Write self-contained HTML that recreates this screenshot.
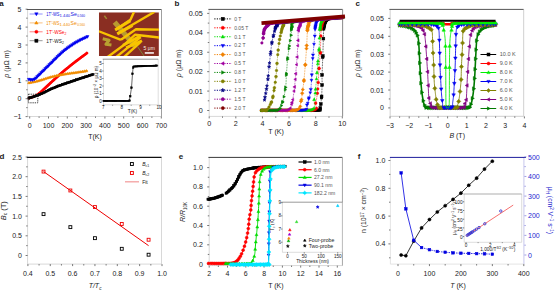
<!DOCTYPE html>
<html><head><meta charset="utf-8"><style>
html,body{margin:0;padding:0;background:#fff;width:555px;height:291px;overflow:hidden}
svg{display:block}
text{font-family:"Liberation Sans", sans-serif}
</style></head><body>
<svg width="555" height="291" viewBox="0 0 555 291">
<rect width="555" height="291" fill="#fff"/>
<text x="-0.8" y="6.2" font-size="8" text-anchor="start" fill="#1a1a1a" font-weight="bold">a</text>
<line x1="27.6" y1="9.5" x2="27.6" y2="116.5" stroke="#d8d8d8" stroke-width="1"/>
<line x1="161.5" y1="9.5" x2="161.5" y2="116.5" stroke="#d8d8d8" stroke-width="1"/>
<line x1="27.6" y1="116.5" x2="161.5" y2="116.5" stroke="#d8d8d8" stroke-width="1"/>
<line x1="26.8" y1="9.5" x2="161.5" y2="9.5" stroke="#555" stroke-width="1"/>
<line x1="161.5" y1="9.5" x2="161.5" y2="116.5" stroke="#999" stroke-width="0.9"/>
<line x1="29.7" y1="116.5" x2="29.7" y2="118.5" stroke="#555" stroke-width="0.8"/>
<line x1="48.5" y1="116.5" x2="48.5" y2="118.5" stroke="#555" stroke-width="0.8"/>
<line x1="67.3" y1="116.5" x2="67.3" y2="118.5" stroke="#555" stroke-width="0.8"/>
<line x1="86.1" y1="116.5" x2="86.1" y2="118.5" stroke="#555" stroke-width="0.8"/>
<line x1="104.9" y1="116.5" x2="104.9" y2="118.5" stroke="#555" stroke-width="0.8"/>
<line x1="123.7" y1="116.5" x2="123.7" y2="118.5" stroke="#555" stroke-width="0.8"/>
<line x1="142.5" y1="116.5" x2="142.5" y2="118.5" stroke="#555" stroke-width="0.8"/>
<line x1="161.3" y1="116.5" x2="161.3" y2="118.5" stroke="#555" stroke-width="0.8"/>
<line x1="39.1" y1="116.5" x2="39.1" y2="117.9" stroke="#555" stroke-width="0.8"/>
<line x1="57.9" y1="116.5" x2="57.9" y2="117.9" stroke="#555" stroke-width="0.8"/>
<line x1="76.7" y1="116.5" x2="76.7" y2="117.9" stroke="#555" stroke-width="0.8"/>
<line x1="95.5" y1="116.5" x2="95.5" y2="117.9" stroke="#555" stroke-width="0.8"/>
<line x1="114.3" y1="116.5" x2="114.3" y2="117.9" stroke="#555" stroke-width="0.8"/>
<line x1="133.1" y1="116.5" x2="133.1" y2="117.9" stroke="#555" stroke-width="0.8"/>
<line x1="151.9" y1="116.5" x2="151.9" y2="117.9" stroke="#555" stroke-width="0.8"/>
<line x1="27.6" y1="116.6" x2="25.6" y2="116.6" stroke="#555" stroke-width="0.8"/>
<line x1="27.6" y1="98.7" x2="25.6" y2="98.7" stroke="#555" stroke-width="0.8"/>
<line x1="27.6" y1="80.8" x2="25.6" y2="80.8" stroke="#555" stroke-width="0.8"/>
<line x1="27.6" y1="62.9" x2="25.6" y2="62.9" stroke="#555" stroke-width="0.8"/>
<line x1="27.6" y1="45" x2="25.6" y2="45" stroke="#555" stroke-width="0.8"/>
<line x1="27.6" y1="27.1" x2="25.6" y2="27.1" stroke="#555" stroke-width="0.8"/>
<line x1="27.6" y1="9.2" x2="25.6" y2="9.2" stroke="#555" stroke-width="0.8"/>
<line x1="27.6" y1="107.65" x2="26.2" y2="107.65" stroke="#555" stroke-width="0.8"/>
<line x1="27.6" y1="89.75" x2="26.2" y2="89.75" stroke="#555" stroke-width="0.8"/>
<line x1="27.6" y1="71.85" x2="26.2" y2="71.85" stroke="#555" stroke-width="0.8"/>
<line x1="27.6" y1="53.95" x2="26.2" y2="53.95" stroke="#555" stroke-width="0.8"/>
<line x1="27.6" y1="36.05" x2="26.2" y2="36.05" stroke="#555" stroke-width="0.8"/>
<line x1="27.6" y1="18.15" x2="26.2" y2="18.15" stroke="#555" stroke-width="0.8"/>
<text x="29.7" y="128.1" font-size="7" text-anchor="middle" fill="#1a1a1a">0</text>
<text x="48.5" y="128.1" font-size="7" text-anchor="middle" fill="#1a1a1a">100</text>
<text x="67.3" y="128.1" font-size="7" text-anchor="middle" fill="#1a1a1a">200</text>
<text x="86.1" y="128.1" font-size="7" text-anchor="middle" fill="#1a1a1a">300</text>
<text x="104.9" y="128.1" font-size="7" text-anchor="middle" fill="#1a1a1a">400</text>
<text x="123.7" y="128.1" font-size="7" text-anchor="middle" fill="#1a1a1a">500</text>
<text x="142.5" y="128.1" font-size="7" text-anchor="middle" fill="#1a1a1a">600</text>
<text x="161.3" y="128.1" font-size="7" text-anchor="middle" fill="#1a1a1a">700</text>
<text x="21.4" y="119.1" font-size="7" text-anchor="end" fill="#1a1a1a">−1</text>
<text x="21.4" y="101.2" font-size="7" text-anchor="end" fill="#1a1a1a">0</text>
<text x="21.4" y="83.3" font-size="7" text-anchor="end" fill="#1a1a1a">1</text>
<text x="21.4" y="65.4" font-size="7" text-anchor="end" fill="#1a1a1a">2</text>
<text x="21.4" y="47.5" font-size="7" text-anchor="end" fill="#1a1a1a">3</text>
<text x="21.4" y="29.6" font-size="7" text-anchor="end" fill="#1a1a1a">4</text>
<text x="21.4" y="11.7" font-size="7" text-anchor="end" fill="#1a1a1a">5</text>
<text x="95" y="139.3" font-size="7" text-anchor="middle" fill="#1a1a1a">T(K)</text>
<text x="8.6" y="64" font-size="7" text-anchor="middle" fill="#1a1a1a" transform="rotate(-90 8.6 64)"><tspan font-style="italic">ρ</tspan> (μΩ m)</text>
<polyline points="28.9,98.2 29.42,98 30.06,97.79 30.82,97.56 31.67,97.29 32.6,96.97 33.59,96.59 34.64,96.15 35.71,95.63 36.81,95.02 37.9,94.3 39.03,93.46 40.22,92.49 41.46,91.41 42.74,90.25 44.06,89.03 45.39,87.77 46.73,86.5 48.07,85.23 49.4,83.99 50.7,82.8 51.99,81.64 53.27,80.47 54.56,79.29 55.85,78.1 57.14,76.92 58.44,75.75 59.73,74.59 61.02,73.44 62.31,72.31 63.6,71.2 64.9,70.11 66.21,69.02 67.53,67.95 68.85,66.89 70.16,65.84 71.47,64.81 72.76,63.8 74.04,62.81 75.28,61.84 76.5,60.9 77.73,59.95 79.01,58.98 80.31,58 81.6,57.04 82.86,56.11 84.05,55.23 85.14,54.42 86.12,53.7 86.95,53.08 87.6,52.6" fill="none" stroke="#f00" stroke-width="2.6" stroke-linejoin="round"/>
<circle cx="28.9" cy="98.2" r="1" fill="#f00" stroke="#f00" stroke-width="0.5"/>
<circle cx="30.7" cy="97.59" r="1" fill="#f00" stroke="#f00" stroke-width="0.5"/>
<circle cx="32.51" cy="97" r="1" fill="#f00" stroke="#f00" stroke-width="0.5"/>
<circle cx="34.27" cy="96.31" r="1" fill="#f00" stroke="#f00" stroke-width="0.5"/>
<circle cx="35.98" cy="95.48" r="1" fill="#f00" stroke="#f00" stroke-width="0.5"/>
<circle cx="37.61" cy="94.49" r="1" fill="#f00" stroke="#f00" stroke-width="0.5"/>
<circle cx="39.14" cy="93.37" r="1" fill="#f00" stroke="#f00" stroke-width="0.5"/>
<circle cx="40.6" cy="92.16" r="1" fill="#f00" stroke="#f00" stroke-width="0.5"/>
<circle cx="42.02" cy="90.9" r="1" fill="#f00" stroke="#f00" stroke-width="0.5"/>
<circle cx="43.43" cy="89.62" r="1" fill="#f00" stroke="#f00" stroke-width="0.5"/>
<circle cx="44.81" cy="88.32" r="1" fill="#f00" stroke="#f00" stroke-width="0.5"/>
<circle cx="46.19" cy="87.01" r="1" fill="#f00" stroke="#f00" stroke-width="0.5"/>
<circle cx="47.57" cy="85.7" r="1" fill="#f00" stroke="#f00" stroke-width="0.5"/>
<circle cx="48.95" cy="84.4" r="1" fill="#f00" stroke="#f00" stroke-width="0.5"/>
<circle cx="50.35" cy="83.12" r="1" fill="#f00" stroke="#f00" stroke-width="0.5"/>
<circle cx="51.76" cy="81.84" r="1" fill="#f00" stroke="#f00" stroke-width="0.5"/>
<circle cx="53.17" cy="80.56" r="1" fill="#f00" stroke="#f00" stroke-width="0.5"/>
<circle cx="54.57" cy="79.28" r="1" fill="#f00" stroke="#f00" stroke-width="0.5"/>
<circle cx="55.97" cy="78" r="1" fill="#f00" stroke="#f00" stroke-width="0.5"/>
<circle cx="57.37" cy="76.72" r="1" fill="#f00" stroke="#f00" stroke-width="0.5"/>
<circle cx="58.78" cy="75.44" r="1" fill="#f00" stroke="#f00" stroke-width="0.5"/>
<circle cx="60.19" cy="74.17" r="1" fill="#f00" stroke="#f00" stroke-width="0.5"/>
<circle cx="61.62" cy="72.91" r="1" fill="#f00" stroke="#f00" stroke-width="0.5"/>
<circle cx="63.05" cy="71.67" r="1" fill="#f00" stroke="#f00" stroke-width="0.5"/>
<circle cx="64.5" cy="70.44" r="1" fill="#f00" stroke="#f00" stroke-width="0.5"/>
<circle cx="65.97" cy="69.23" r="1" fill="#f00" stroke="#f00" stroke-width="0.5"/>
<circle cx="67.44" cy="68.02" r="1" fill="#f00" stroke="#f00" stroke-width="0.5"/>
<circle cx="68.92" cy="66.83" r="1" fill="#f00" stroke="#f00" stroke-width="0.5"/>
<circle cx="70.41" cy="65.65" r="1" fill="#f00" stroke="#f00" stroke-width="0.5"/>
<circle cx="71.9" cy="64.48" r="1" fill="#f00" stroke="#f00" stroke-width="0.5"/>
<circle cx="73.4" cy="63.31" r="1" fill="#f00" stroke="#f00" stroke-width="0.5"/>
<circle cx="74.9" cy="62.14" r="1" fill="#f00" stroke="#f00" stroke-width="0.5"/>
<circle cx="76.4" cy="60.98" r="1" fill="#f00" stroke="#f00" stroke-width="0.5"/>
<circle cx="77.91" cy="59.82" r="1" fill="#f00" stroke="#f00" stroke-width="0.5"/>
<circle cx="79.42" cy="58.67" r="1" fill="#f00" stroke="#f00" stroke-width="0.5"/>
<circle cx="80.94" cy="57.53" r="1" fill="#f00" stroke="#f00" stroke-width="0.5"/>
<circle cx="82.46" cy="56.4" r="1" fill="#f00" stroke="#f00" stroke-width="0.5"/>
<circle cx="83.99" cy="55.27" r="1" fill="#f00" stroke="#f00" stroke-width="0.5"/>
<circle cx="85.52" cy="54.14" r="1" fill="#f00" stroke="#f00" stroke-width="0.5"/>
<circle cx="87.05" cy="53.01" r="1" fill="#f00" stroke="#f00" stroke-width="0.5"/>
<polyline points="28.9,98.2 29.57,97.98 30.43,97.7 31.45,97.37 32.59,97.01 33.82,96.61 35.11,96.18 36.4,95.74 37.67,95.29 38.88,94.84 40,94.4 41.04,93.95 42.07,93.48 43.08,92.99 44.08,92.48 45.07,91.97 46.05,91.46 47.03,90.95 48.02,90.45 49,89.96 50,89.5 51,89.05 52,88.62 53,88.19 54,87.77 55,87.36 56,86.95 57,86.55 58,86.16 59,85.78 60,85.4 61,85.03 62,84.68 63,84.33 64,83.99 65,83.66 66,83.33 67,83 68,82.67 69,82.34 70,82 70.99,81.66 71.95,81.33 72.91,81.01 73.86,80.68 74.81,80.35 75.78,80.02 76.78,79.68 77.81,79.33 78.88,78.97 80,78.6 81.24,78.19 82.62,77.74 84.09,77.27 85.61,76.78 87.12,76.29 88.59,75.82 89.96,75.38 91.18,74.98 92.21,74.65 93,74.4" fill="none" stroke="#000" stroke-width="2.4" stroke-linejoin="round"/>
<rect x="27.9" y="97.2" width="2" height="2" fill="#000" stroke="#000" stroke-width="0.5"/>
<rect x="29.71" y="96.61" width="2" height="2" fill="#000" stroke="#000" stroke-width="0.5"/>
<rect x="31.52" y="96.03" width="2" height="2" fill="#000" stroke="#000" stroke-width="0.5"/>
<rect x="33.32" y="95.44" width="2" height="2" fill="#000" stroke="#000" stroke-width="0.5"/>
<rect x="35.12" y="94.84" width="2" height="2" fill="#000" stroke="#000" stroke-width="0.5"/>
<rect x="36.91" y="94.2" width="2" height="2" fill="#000" stroke="#000" stroke-width="0.5"/>
<rect x="38.69" y="93.52" width="2" height="2" fill="#000" stroke="#000" stroke-width="0.5"/>
<rect x="40.43" y="92.77" width="2" height="2" fill="#000" stroke="#000" stroke-width="0.5"/>
<rect x="42.15" y="91.95" width="2" height="2" fill="#000" stroke="#000" stroke-width="0.5"/>
<rect x="43.84" y="91.09" width="2" height="2" fill="#000" stroke="#000" stroke-width="0.5"/>
<rect x="45.52" y="90.21" width="2" height="2" fill="#000" stroke="#000" stroke-width="0.5"/>
<rect x="47.22" y="89.35" width="2" height="2" fill="#000" stroke="#000" stroke-width="0.5"/>
<rect x="48.93" y="88.53" width="2" height="2" fill="#000" stroke="#000" stroke-width="0.5"/>
<rect x="50.67" y="87.76" width="2" height="2" fill="#000" stroke="#000" stroke-width="0.5"/>
<rect x="52.42" y="87.01" width="2" height="2" fill="#000" stroke="#000" stroke-width="0.5"/>
<rect x="54.17" y="86.29" width="2" height="2" fill="#000" stroke="#000" stroke-width="0.5"/>
<rect x="55.94" y="85.58" width="2" height="2" fill="#000" stroke="#000" stroke-width="0.5"/>
<rect x="57.71" y="84.89" width="2" height="2" fill="#000" stroke="#000" stroke-width="0.5"/>
<rect x="59.48" y="84.22" width="2" height="2" fill="#000" stroke="#000" stroke-width="0.5"/>
<rect x="61.27" y="83.58" width="2" height="2" fill="#000" stroke="#000" stroke-width="0.5"/>
<rect x="63.07" y="82.97" width="2" height="2" fill="#000" stroke="#000" stroke-width="0.5"/>
<rect x="64.87" y="82.37" width="2" height="2" fill="#000" stroke="#000" stroke-width="0.5"/>
<rect x="66.68" y="81.77" width="2" height="2" fill="#000" stroke="#000" stroke-width="0.5"/>
<rect x="68.48" y="81.17" width="2" height="2" fill="#000" stroke="#000" stroke-width="0.5"/>
<rect x="70.28" y="80.56" width="2" height="2" fill="#000" stroke="#000" stroke-width="0.5"/>
<rect x="72.08" y="79.95" width="2" height="2" fill="#000" stroke="#000" stroke-width="0.5"/>
<rect x="73.87" y="79.33" width="2" height="2" fill="#000" stroke="#000" stroke-width="0.5"/>
<rect x="75.67" y="78.72" width="2" height="2" fill="#000" stroke="#000" stroke-width="0.5"/>
<rect x="77.47" y="78.11" width="2" height="2" fill="#000" stroke="#000" stroke-width="0.5"/>
<rect x="79.28" y="77.51" width="2" height="2" fill="#000" stroke="#000" stroke-width="0.5"/>
<rect x="81.08" y="76.92" width="2" height="2" fill="#000" stroke="#000" stroke-width="0.5"/>
<rect x="82.89" y="76.33" width="2" height="2" fill="#000" stroke="#000" stroke-width="0.5"/>
<rect x="84.7" y="75.75" width="2" height="2" fill="#000" stroke="#000" stroke-width="0.5"/>
<rect x="86.51" y="75.17" width="2" height="2" fill="#000" stroke="#000" stroke-width="0.5"/>
<rect x="88.31" y="74.58" width="2" height="2" fill="#000" stroke="#000" stroke-width="0.5"/>
<rect x="90.12" y="74" width="2" height="2" fill="#000" stroke="#000" stroke-width="0.5"/>
<rect x="91.93" y="73.42" width="2" height="2" fill="#000" stroke="#000" stroke-width="0.5"/>
<polyline points="28.9,82.8 29.42,82.7 30.06,82.59 30.82,82.46 31.67,82.31 32.6,82.14 33.59,81.96 34.64,81.75 35.71,81.52 36.81,81.27 37.9,81 39.03,80.69 40.22,80.34 41.46,79.95 42.74,79.54 44.06,79.11 45.39,78.68 46.73,78.26 48.07,77.84 49.4,77.45 50.7,77.1 51.99,76.77 53.27,76.45 54.56,76.15 55.85,75.85 57.14,75.57 58.44,75.3 59.73,75.03 61.02,74.78 62.31,74.53 63.6,74.3 64.9,74.08 66.21,73.88 67.53,73.69 68.85,73.51 70.16,73.34 71.47,73.17 72.76,73.01 74.04,72.84 75.28,72.68 76.5,72.5 77.73,72.31 79.01,72.11 80.31,71.9 81.6,71.69 82.86,71.49 84.05,71.29 85.14,71.11 86.12,70.94 86.95,70.81 87.6,70.7" fill="none" stroke="#f08c00" stroke-width="1.3" stroke-linejoin="round"/>
<polygon points="28.9,81.36 30.27,83.74 27.52,83.74" fill="#f08c00" stroke="#f08c00" stroke-width="0.5"/>
<polygon points="30.77,81.03 32.15,83.4 29.4,83.4" fill="#f08c00" stroke="#f08c00" stroke-width="0.5"/>
<polygon points="32.64,80.7 34.02,83.07 31.27,83.07" fill="#f08c00" stroke="#f08c00" stroke-width="0.5"/>
<polygon points="34.51,80.34 35.88,82.71 33.13,82.71" fill="#f08c00" stroke="#f08c00" stroke-width="0.5"/>
<polygon points="36.36,79.94 37.74,82.31 34.99,82.31" fill="#f08c00" stroke="#f08c00" stroke-width="0.5"/>
<polygon points="38.21,79.48 39.58,81.85 36.83,81.85" fill="#f08c00" stroke="#f08c00" stroke-width="0.5"/>
<polygon points="40.03,78.95 41.41,81.33 38.66,81.33" fill="#f08c00" stroke="#f08c00" stroke-width="0.5"/>
<polygon points="41.85,78.39 43.22,80.76 40.47,80.76" fill="#f08c00" stroke="#f08c00" stroke-width="0.5"/>
<polygon points="43.66,77.8 45.03,80.18 42.28,80.18" fill="#f08c00" stroke="#f08c00" stroke-width="0.5"/>
<polygon points="45.46,77.22 46.84,79.6 44.09,79.6" fill="#f08c00" stroke="#f08c00" stroke-width="0.5"/>
<polygon points="47.28,76.65 48.65,79.03 45.9,79.03" fill="#f08c00" stroke="#f08c00" stroke-width="0.5"/>
<polygon points="49.1,76.11 50.47,78.48 47.72,78.48" fill="#f08c00" stroke="#f08c00" stroke-width="0.5"/>
<polygon points="50.93,75.6 52.3,77.98 49.55,77.98" fill="#f08c00" stroke="#f08c00" stroke-width="0.5"/>
<polygon points="52.77,75.14 54.15,77.51 51.4,77.51" fill="#f08c00" stroke="#f08c00" stroke-width="0.5"/>
<polygon points="54.62,74.7 55.99,77.07 53.24,77.07" fill="#f08c00" stroke="#f08c00" stroke-width="0.5"/>
<polygon points="56.47,74.28 57.85,76.65 55.1,76.65" fill="#f08c00" stroke="#f08c00" stroke-width="0.5"/>
<polygon points="58.33,73.88 59.71,76.25 56.96,76.25" fill="#f08c00" stroke="#f08c00" stroke-width="0.5"/>
<polygon points="60.19,73.5 61.57,75.88 58.82,75.88" fill="#f08c00" stroke="#f08c00" stroke-width="0.5"/>
<polygon points="62.06,73.14 63.43,75.52 60.68,75.52" fill="#f08c00" stroke="#f08c00" stroke-width="0.5"/>
<polygon points="63.93,72.81 65.3,75.18 62.55,75.18" fill="#f08c00" stroke="#f08c00" stroke-width="0.5"/>
<polygon points="65.8,72.5 67.18,74.88 64.43,74.88" fill="#f08c00" stroke="#f08c00" stroke-width="0.5"/>
<polygon points="67.68,72.23 69.06,74.6 66.31,74.6" fill="#f08c00" stroke="#f08c00" stroke-width="0.5"/>
<polygon points="69.57,71.98 70.94,74.35 68.19,74.35" fill="#f08c00" stroke="#f08c00" stroke-width="0.5"/>
<polygon points="71.45,71.74 72.83,74.11 70.08,74.11" fill="#f08c00" stroke="#f08c00" stroke-width="0.5"/>
<polygon points="73.34,71.5 74.71,73.87 71.96,73.87" fill="#f08c00" stroke="#f08c00" stroke-width="0.5"/>
<polygon points="75.22,71.25 76.59,73.62 73.84,73.62" fill="#f08c00" stroke="#f08c00" stroke-width="0.5"/>
<polygon points="77.1,70.97 78.47,73.35 75.72,73.35" fill="#f08c00" stroke="#f08c00" stroke-width="0.5"/>
<polygon points="78.98,70.68 80.35,73.05 77.6,73.05" fill="#f08c00" stroke="#f08c00" stroke-width="0.5"/>
<polygon points="80.85,70.38 82.23,72.75 79.48,72.75" fill="#f08c00" stroke="#f08c00" stroke-width="0.5"/>
<polygon points="82.73,70.07 84.1,72.45 81.35,72.45" fill="#f08c00" stroke="#f08c00" stroke-width="0.5"/>
<polygon points="84.6,69.76 85.98,72.14 83.23,72.14" fill="#f08c00" stroke="#f08c00" stroke-width="0.5"/>
<polygon points="86.48,69.45 87.85,71.82 85.1,71.82" fill="#f08c00" stroke="#f08c00" stroke-width="0.5"/>
<polyline points="28.9,79.4 29.2,79.43 29.57,79.49 30.01,79.58 30.51,79.68 31.05,79.76 31.62,79.82 32.21,79.83 32.82,79.77 33.41,79.63 34,79.4 34.57,79.07 35.13,78.68 35.7,78.22 36.28,77.7 36.88,77.13 37.5,76.51 38.15,75.84 38.85,75.13 39.6,74.38 40.4,73.6 41.26,72.77 42.17,71.89 43.12,70.96 44.11,69.98 45.14,68.96 46.21,67.91 47.3,66.83 48.41,65.74 49.55,64.62 50.7,63.5 51.88,62.34 53.11,61.11 54.38,59.84 55.67,58.54 56.99,57.23 58.32,55.93 59.65,54.64 60.98,53.4 62.3,52.21 63.6,51.1 64.9,50.05 66.2,49.03 67.51,48.05 68.83,47.1 70.14,46.18 71.44,45.3 72.73,44.45 74.01,43.63 75.27,42.85 76.5,42.1 77.76,41.37 79.07,40.66 80.42,39.97 81.75,39.31 83.06,38.69 84.3,38.11 85.44,37.59 86.46,37.12 87.32,36.72 88,36.4" fill="none" stroke="#0000f0" stroke-width="1.5" stroke-linejoin="round"/>
<polygon points="28.9,81.07 30.49,78.31 27.3,78.31" fill="#0000f0" stroke="#0000f0" stroke-width="0.5"/>
<polygon points="30.77,81.39 32.37,78.63 29.18,78.63" fill="#0000f0" stroke="#0000f0" stroke-width="0.5"/>
<polygon points="32.66,81.45 34.26,78.7 31.07,78.7" fill="#0000f0" stroke="#0000f0" stroke-width="0.5"/>
<polygon points="34.44,80.82 36.03,78.06 32.84,78.06" fill="#0000f0" stroke="#0000f0" stroke-width="0.5"/>
<polygon points="35.95,79.67 37.54,76.92 34.35,76.92" fill="#0000f0" stroke="#0000f0" stroke-width="0.5"/>
<polygon points="37.32,78.36 38.91,75.6 35.72,75.6" fill="#0000f0" stroke="#0000f0" stroke-width="0.5"/>
<polygon points="38.65,77 40.24,74.25 37.05,74.25" fill="#0000f0" stroke="#0000f0" stroke-width="0.5"/>
<polygon points="40,75.66 41.59,72.91 38.4,72.91" fill="#0000f0" stroke="#0000f0" stroke-width="0.5"/>
<polygon points="41.36,74.34 42.96,71.59 39.77,71.59" fill="#0000f0" stroke="#0000f0" stroke-width="0.5"/>
<polygon points="42.72,73.02 44.32,70.26 41.13,70.26" fill="#0000f0" stroke="#0000f0" stroke-width="0.5"/>
<polygon points="44.08,71.68 45.67,68.93 42.48,68.93" fill="#0000f0" stroke="#0000f0" stroke-width="0.5"/>
<polygon points="45.43,70.35 47.02,67.59 43.83,67.59" fill="#0000f0" stroke="#0000f0" stroke-width="0.5"/>
<polygon points="46.78,69.01 48.38,66.26 45.19,66.26" fill="#0000f0" stroke="#0000f0" stroke-width="0.5"/>
<polygon points="48.13,67.68 49.73,64.92 46.54,64.92" fill="#0000f0" stroke="#0000f0" stroke-width="0.5"/>
<polygon points="49.49,66.35 51.08,63.59 47.89,63.59" fill="#0000f0" stroke="#0000f0" stroke-width="0.5"/>
<polygon points="50.85,65.02 52.45,62.27 49.26,62.27" fill="#0000f0" stroke="#0000f0" stroke-width="0.5"/>
<polygon points="52.2,63.69 53.8,60.93 50.61,60.93" fill="#0000f0" stroke="#0000f0" stroke-width="0.5"/>
<polygon points="53.55,62.34 55.14,59.59 51.95,59.59" fill="#0000f0" stroke="#0000f0" stroke-width="0.5"/>
<polygon points="54.89,61 56.48,58.24 53.29,58.24" fill="#0000f0" stroke="#0000f0" stroke-width="0.5"/>
<polygon points="56.23,59.65 57.83,56.9 54.64,56.9" fill="#0000f0" stroke="#0000f0" stroke-width="0.5"/>
<polygon points="57.58,58.32 59.18,55.56 55.99,55.56" fill="#0000f0" stroke="#0000f0" stroke-width="0.5"/>
<polygon points="58.94,56.99 60.54,54.23 57.35,54.23" fill="#0000f0" stroke="#0000f0" stroke-width="0.5"/>
<polygon points="60.32,55.68 61.91,52.93 58.72,52.93" fill="#0000f0" stroke="#0000f0" stroke-width="0.5"/>
<polygon points="61.72,54.4 63.32,51.64 60.13,51.64" fill="#0000f0" stroke="#0000f0" stroke-width="0.5"/>
<polygon points="63.15,53.15 64.75,50.39 61.56,50.39" fill="#0000f0" stroke="#0000f0" stroke-width="0.5"/>
<polygon points="64.62,51.94 66.21,49.19 63.02,49.19" fill="#0000f0" stroke="#0000f0" stroke-width="0.5"/>
<polygon points="66.11,50.77 67.71,48.01 64.52,48.01" fill="#0000f0" stroke="#0000f0" stroke-width="0.5"/>
<polygon points="67.63,49.63 69.23,46.87 66.04,46.87" fill="#0000f0" stroke="#0000f0" stroke-width="0.5"/>
<polygon points="69.18,48.52 70.77,45.77 67.58,45.77" fill="#0000f0" stroke="#0000f0" stroke-width="0.5"/>
<polygon points="70.74,47.44 72.34,44.69 69.15,44.69" fill="#0000f0" stroke="#0000f0" stroke-width="0.5"/>
<polygon points="72.32,46.39 73.92,43.63 70.73,43.63" fill="#0000f0" stroke="#0000f0" stroke-width="0.5"/>
<polygon points="73.92,45.36 75.51,42.6 72.32,42.6" fill="#0000f0" stroke="#0000f0" stroke-width="0.5"/>
<polygon points="75.53,44.36 77.13,41.6 73.94,41.6" fill="#0000f0" stroke="#0000f0" stroke-width="0.5"/>
<polygon points="77.16,43.38 78.76,40.63 75.57,40.63" fill="#0000f0" stroke="#0000f0" stroke-width="0.5"/>
<polygon points="78.82,42.46 80.42,39.71 77.23,39.71" fill="#0000f0" stroke="#0000f0" stroke-width="0.5"/>
<polygon points="80.51,41.59 82.11,38.83 78.92,38.83" fill="#0000f0" stroke="#0000f0" stroke-width="0.5"/>
<polygon points="82.22,40.75 83.81,38 80.62,38" fill="#0000f0" stroke="#0000f0" stroke-width="0.5"/>
<polygon points="83.94,39.94 85.53,37.19 82.34,37.19" fill="#0000f0" stroke="#0000f0" stroke-width="0.5"/>
<polygon points="85.67,39.15 87.26,36.4 84.07,36.4" fill="#0000f0" stroke="#0000f0" stroke-width="0.5"/>
<polygon points="87.39,38.36 88.99,35.6 85.8,35.6" fill="#0000f0" stroke="#0000f0" stroke-width="0.5"/>
<rect x="28.4" y="94.2" width="9.4" height="8.6" fill="none" stroke="#222" stroke-width="0.85" stroke-dasharray="1.3,0.9"/>
<line x1="29.6" y1="14" x2="42.6" y2="14" stroke="#9090ff" stroke-width="1"/>
<polygon points="36.4,15.78 38.1,12.84 34.7,12.84" fill="#0000f0" stroke="#0000f0" stroke-width="0.5"/>
<line x1="29.6" y1="22.9" x2="42.6" y2="22.9" stroke="#f8c080" stroke-width="1"/>
<polygon points="36.4,21.12 38.1,24.06 34.7,24.06" fill="#f08c00" stroke="#f08c00" stroke-width="0.5"/>
<line x1="29.6" y1="31.8" x2="42.6" y2="31.8" stroke="#ff8080" stroke-width="1"/>
<circle cx="36.4" cy="31.8" r="1.55" fill="#f00" stroke="#f00" stroke-width="0.5"/>
<line x1="29.6" y1="40.7" x2="42.6" y2="40.7" stroke="#999" stroke-width="1"/>
<rect x="34.85" y="39.15" width="3.1" height="3.1" fill="#000" stroke="#000" stroke-width="0.5"/>
<text x="46.3" y="15.8" font-size="5" text-anchor="start" fill="#1010e0" textLength="13.2" lengthAdjust="spacingAndGlyphs">1T′-WS</text>
<text x="59.6" y="17" font-size="3.4" text-anchor="start" fill="#1010e0" textLength="10.6" lengthAdjust="spacingAndGlyphs">1.440</text>
<text x="70.6" y="15.8" font-size="5" text-anchor="start" fill="#1010e0" textLength="6.3" lengthAdjust="spacingAndGlyphs">Se</text>
<text x="77.2" y="17" font-size="3.4" text-anchor="start" fill="#1010e0" textLength="7.9" lengthAdjust="spacingAndGlyphs">0.560</text>
<text x="46.3" y="24.7" font-size="5" text-anchor="start" fill="#f08c00" textLength="13.2" lengthAdjust="spacingAndGlyphs">1T′-WS</text>
<text x="59.6" y="25.9" font-size="3.4" text-anchor="start" fill="#f08c00" textLength="10.6" lengthAdjust="spacingAndGlyphs">1.440</text>
<text x="70.6" y="24.7" font-size="5" text-anchor="start" fill="#f08c00" textLength="6.3" lengthAdjust="spacingAndGlyphs">Se</text>
<text x="77.2" y="25.9" font-size="3.4" text-anchor="start" fill="#f08c00" textLength="7.9" lengthAdjust="spacingAndGlyphs">0.560</text>
<text x="46.3" y="33.6" font-size="5" text-anchor="start" fill="#f00" textLength="18.2" lengthAdjust="spacingAndGlyphs">1T′-WSe</text>
<text x="64.6" y="34.8" font-size="3.4" text-anchor="start" fill="#f00" textLength="1.9" lengthAdjust="spacingAndGlyphs">2</text>
<text x="46.3" y="42.5" font-size="5" text-anchor="start" fill="#111" textLength="15.6" lengthAdjust="spacingAndGlyphs">1T′-WS</text>
<text x="62" y="43.7" font-size="3.4" text-anchor="start" fill="#111" textLength="1.9" lengthAdjust="spacingAndGlyphs">2</text>
<svg x="0" y="0" width="555" height="291"><defs><clipPath id="ph"><rect x="98.9" y="12.3" width="60" height="43.8"/></clipPath></defs><g clip-path="url(#ph)">
<rect x="98.9" y="12.3" width="60" height="43.8" fill="#8a2e22"/>
<polyline points="114.61,22.08 135.97,47.39" fill="none" stroke="#b89a30" stroke-width="5" stroke-linejoin="round"/>
<polyline points="104.33,15.75 106.7,18.91" fill="none" stroke="#a08a30" stroke-width="1.5" stroke-linejoin="round"/>
<polyline points="102.75,38.69 109.08,40.27 105.91,44.23 111.45,45.02" fill="none" stroke="#b8a030" stroke-width="3" stroke-linejoin="round"/>
<polyline points="134.08,11.79 130.44,19.7 115.72,29.67" fill="none" stroke="#f8c400" stroke-width="2.4" stroke-linejoin="round"/>
<polyline points="154.65,11.79 117.3,33.47" fill="none" stroke="#f8c400" stroke-width="2.4" stroke-linejoin="round"/>
<polyline points="159.71,29.67 135.97,29.2 120.94,39.8" fill="none" stroke="#f8c400" stroke-width="2.4" stroke-linejoin="round"/>
<polyline points="159.71,37.58 135.18,34.73 124.9,44.23 106.7,57.68" fill="none" stroke="#f8c400" stroke-width="2.4" stroke-linejoin="round"/>
<polyline points="140.72,37.11 115.41,57.68" fill="none" stroke="#f8c400" stroke-width="2.4" stroke-linejoin="round"/>
<polyline points="140.72,41.85 123.32,57.68" fill="none" stroke="#f8c400" stroke-width="2.4" stroke-linejoin="round"/>
<polyline points="98.79,31.25 120.94,39.8" fill="none" stroke="#f8c400" stroke-width="2.4" stroke-linejoin="round"/>
<polyline points="115.09,29.99 130.44,20.81" fill="none" stroke="#f8c400" stroke-width="3" stroke-linejoin="round"/>
<polyline points="117.3,33.94 132.49,25.56" fill="none" stroke="#f8c400" stroke-width="3" stroke-linejoin="round"/>
<polyline points="123,45.34 140.41,36" fill="none" stroke="#f8c400" stroke-width="2.9" stroke-linejoin="round"/>
<polyline points="126.16,47.71 141.99,40.75" fill="none" stroke="#f8c400" stroke-width="2.9" stroke-linejoin="round"/>
<rect x="144.8" y="52.2" width="9.1" height="1.5" fill="#fff"/>
<polyline points="137.5,46.5 144,56" fill="none" stroke="#7a9a40" stroke-width="0.8" stroke-linejoin="round"/>
<text x="149.2" y="50.3" font-size="5" text-anchor="middle" fill="#f4f0e8">5 μm</text>
</g></svg>
<line x1="103.5" y1="59.2" x2="103.5" y2="104.8" stroke="#bbb" stroke-width="0.5"/>
<line x1="158.2" y1="59.2" x2="158.2" y2="104.8" stroke="#bbb" stroke-width="0.5"/>
<line x1="103.5" y1="104.8" x2="158.2" y2="104.8" stroke="#bbb" stroke-width="0.5"/>
<line x1="102.7" y1="59.2" x2="158.2" y2="59.2" stroke="#4a4a4a" stroke-width="0.6"/>
<line x1="103.3" y1="104.8" x2="103.3" y2="106" stroke="#555" stroke-width="0.8"/>
<line x1="121.87" y1="104.8" x2="121.87" y2="106" stroke="#555" stroke-width="0.8"/>
<line x1="140.44" y1="104.8" x2="140.44" y2="106" stroke="#555" stroke-width="0.8"/>
<line x1="159.01" y1="104.8" x2="159.01" y2="106" stroke="#555" stroke-width="0.8"/>
<line x1="112.58" y1="104.8" x2="112.58" y2="105.64" stroke="#555" stroke-width="0.8"/>
<line x1="131.16" y1="104.8" x2="131.16" y2="105.64" stroke="#555" stroke-width="0.8"/>
<line x1="149.72" y1="104.8" x2="149.72" y2="105.64" stroke="#555" stroke-width="0.8"/>
<line x1="103.5" y1="101" x2="102.3" y2="101" stroke="#555" stroke-width="0.8"/>
<line x1="103.5" y1="93.5" x2="102.3" y2="93.5" stroke="#555" stroke-width="0.8"/>
<line x1="103.5" y1="86" x2="102.3" y2="86" stroke="#555" stroke-width="0.8"/>
<line x1="103.5" y1="78.5" x2="102.3" y2="78.5" stroke="#555" stroke-width="0.8"/>
<line x1="103.5" y1="71" x2="102.3" y2="71" stroke="#555" stroke-width="0.8"/>
<line x1="103.5" y1="63.5" x2="102.3" y2="63.5" stroke="#555" stroke-width="0.8"/>
<text x="103.3" y="108.9" font-size="4.6" text-anchor="middle" fill="#1a1a1a">7</text>
<text x="121.87" y="108.9" font-size="4.6" text-anchor="middle" fill="#1a1a1a">8</text>
<text x="140.44" y="108.9" font-size="4.6" text-anchor="middle" fill="#1a1a1a">9</text>
<text x="159.01" y="108.9" font-size="4.6" text-anchor="middle" fill="#1a1a1a">10</text>
<text x="101.9" y="102.6" font-size="4.6" text-anchor="end" fill="#1a1a1a">0</text>
<text x="101.9" y="95.1" font-size="4.6" text-anchor="end" fill="#1a1a1a">1</text>
<text x="101.9" y="87.6" font-size="4.6" text-anchor="end" fill="#1a1a1a">2</text>
<text x="101.9" y="80.1" font-size="4.6" text-anchor="end" fill="#1a1a1a">3</text>
<text x="101.9" y="72.6" font-size="4.6" text-anchor="end" fill="#1a1a1a">4</text>
<text x="101.9" y="65.1" font-size="4.6" text-anchor="end" fill="#1a1a1a">5</text>
<text x="132.5" y="112.6" font-size="4.8" text-anchor="middle" fill="#1a1a1a">T(K)</text>
<text x="98" y="82" font-size="4.6" text-anchor="middle" fill="#1a1a1a" transform="rotate(-90 98 82)">ρ (10<tspan font-size="3.3" dy="-1.8">−2</tspan><tspan dy="1.8"> × μΩ m)</tspan></text>
<polyline points="103.6,101 129.2,101 130.2,96.2 131.5,87.7 132.5,73.8 133.1,67.6 134,66.6 158.2,65.6" fill="none" stroke="#000" stroke-width="0.6" stroke-linejoin="round"/>
<rect x="102.98" y="100.38" width="1.24" height="1.24" fill="#000" stroke="#000" stroke-width="0.5"/>
<rect x="103.88" y="100.38" width="1.24" height="1.24" fill="#000" stroke="#000" stroke-width="0.5"/>
<rect x="104.78" y="100.38" width="1.24" height="1.24" fill="#000" stroke="#000" stroke-width="0.5"/>
<rect x="105.68" y="100.38" width="1.24" height="1.24" fill="#000" stroke="#000" stroke-width="0.5"/>
<rect x="106.58" y="100.38" width="1.24" height="1.24" fill="#000" stroke="#000" stroke-width="0.5"/>
<rect x="107.48" y="100.38" width="1.24" height="1.24" fill="#000" stroke="#000" stroke-width="0.5"/>
<rect x="108.38" y="100.38" width="1.24" height="1.24" fill="#000" stroke="#000" stroke-width="0.5"/>
<rect x="109.28" y="100.38" width="1.24" height="1.24" fill="#000" stroke="#000" stroke-width="0.5"/>
<rect x="110.18" y="100.38" width="1.24" height="1.24" fill="#000" stroke="#000" stroke-width="0.5"/>
<rect x="111.08" y="100.38" width="1.24" height="1.24" fill="#000" stroke="#000" stroke-width="0.5"/>
<rect x="111.98" y="100.38" width="1.24" height="1.24" fill="#000" stroke="#000" stroke-width="0.5"/>
<rect x="112.88" y="100.38" width="1.24" height="1.24" fill="#000" stroke="#000" stroke-width="0.5"/>
<rect x="113.78" y="100.38" width="1.24" height="1.24" fill="#000" stroke="#000" stroke-width="0.5"/>
<rect x="114.68" y="100.38" width="1.24" height="1.24" fill="#000" stroke="#000" stroke-width="0.5"/>
<rect x="115.58" y="100.38" width="1.24" height="1.24" fill="#000" stroke="#000" stroke-width="0.5"/>
<rect x="116.48" y="100.38" width="1.24" height="1.24" fill="#000" stroke="#000" stroke-width="0.5"/>
<rect x="117.38" y="100.38" width="1.24" height="1.24" fill="#000" stroke="#000" stroke-width="0.5"/>
<rect x="118.28" y="100.38" width="1.24" height="1.24" fill="#000" stroke="#000" stroke-width="0.5"/>
<rect x="119.18" y="100.38" width="1.24" height="1.24" fill="#000" stroke="#000" stroke-width="0.5"/>
<rect x="120.08" y="100.38" width="1.24" height="1.24" fill="#000" stroke="#000" stroke-width="0.5"/>
<rect x="120.98" y="100.38" width="1.24" height="1.24" fill="#000" stroke="#000" stroke-width="0.5"/>
<rect x="121.88" y="100.38" width="1.24" height="1.24" fill="#000" stroke="#000" stroke-width="0.5"/>
<rect x="122.78" y="100.38" width="1.24" height="1.24" fill="#000" stroke="#000" stroke-width="0.5"/>
<rect x="123.68" y="100.38" width="1.24" height="1.24" fill="#000" stroke="#000" stroke-width="0.5"/>
<rect x="124.58" y="100.38" width="1.24" height="1.24" fill="#000" stroke="#000" stroke-width="0.5"/>
<rect x="125.48" y="100.38" width="1.24" height="1.24" fill="#000" stroke="#000" stroke-width="0.5"/>
<rect x="126.38" y="100.38" width="1.24" height="1.24" fill="#000" stroke="#000" stroke-width="0.5"/>
<rect x="127.28" y="100.38" width="1.24" height="1.24" fill="#000" stroke="#000" stroke-width="0.5"/>
<rect x="128.18" y="100.38" width="1.24" height="1.24" fill="#000" stroke="#000" stroke-width="0.5"/>
<rect x="132.98" y="65.88" width="1.24" height="1.24" fill="#000" stroke="#000" stroke-width="0.5"/>
<rect x="133.88" y="65.85" width="1.24" height="1.24" fill="#000" stroke="#000" stroke-width="0.5"/>
<rect x="134.78" y="65.82" width="1.24" height="1.24" fill="#000" stroke="#000" stroke-width="0.5"/>
<rect x="135.68" y="65.79" width="1.24" height="1.24" fill="#000" stroke="#000" stroke-width="0.5"/>
<rect x="136.58" y="65.75" width="1.24" height="1.24" fill="#000" stroke="#000" stroke-width="0.5"/>
<rect x="137.48" y="65.72" width="1.24" height="1.24" fill="#000" stroke="#000" stroke-width="0.5"/>
<rect x="138.38" y="65.69" width="1.24" height="1.24" fill="#000" stroke="#000" stroke-width="0.5"/>
<rect x="139.28" y="65.66" width="1.24" height="1.24" fill="#000" stroke="#000" stroke-width="0.5"/>
<rect x="140.18" y="65.63" width="1.24" height="1.24" fill="#000" stroke="#000" stroke-width="0.5"/>
<rect x="141.08" y="65.6" width="1.24" height="1.24" fill="#000" stroke="#000" stroke-width="0.5"/>
<rect x="141.98" y="65.56" width="1.24" height="1.24" fill="#000" stroke="#000" stroke-width="0.5"/>
<rect x="142.88" y="65.53" width="1.24" height="1.24" fill="#000" stroke="#000" stroke-width="0.5"/>
<rect x="143.78" y="65.5" width="1.24" height="1.24" fill="#000" stroke="#000" stroke-width="0.5"/>
<rect x="144.68" y="65.47" width="1.24" height="1.24" fill="#000" stroke="#000" stroke-width="0.5"/>
<rect x="145.58" y="65.44" width="1.24" height="1.24" fill="#000" stroke="#000" stroke-width="0.5"/>
<rect x="146.48" y="65.41" width="1.24" height="1.24" fill="#000" stroke="#000" stroke-width="0.5"/>
<rect x="147.38" y="65.38" width="1.24" height="1.24" fill="#000" stroke="#000" stroke-width="0.5"/>
<rect x="148.28" y="65.34" width="1.24" height="1.24" fill="#000" stroke="#000" stroke-width="0.5"/>
<rect x="149.18" y="65.31" width="1.24" height="1.24" fill="#000" stroke="#000" stroke-width="0.5"/>
<rect x="150.08" y="65.28" width="1.24" height="1.24" fill="#000" stroke="#000" stroke-width="0.5"/>
<rect x="150.98" y="65.25" width="1.24" height="1.24" fill="#000" stroke="#000" stroke-width="0.5"/>
<rect x="151.88" y="65.22" width="1.24" height="1.24" fill="#000" stroke="#000" stroke-width="0.5"/>
<rect x="152.78" y="65.19" width="1.24" height="1.24" fill="#000" stroke="#000" stroke-width="0.5"/>
<rect x="153.68" y="65.16" width="1.24" height="1.24" fill="#000" stroke="#000" stroke-width="0.5"/>
<rect x="154.58" y="65.12" width="1.24" height="1.24" fill="#000" stroke="#000" stroke-width="0.5"/>
<rect x="128.75" y="99.75" width="1.7" height="1.7" fill="#000" stroke="#000" stroke-width="0.5"/>
<rect x="129.35" y="95.35" width="1.7" height="1.7" fill="#000" stroke="#000" stroke-width="0.5"/>
<rect x="130.65" y="86.85" width="1.7" height="1.7" fill="#000" stroke="#000" stroke-width="0.5"/>
<rect x="131.65" y="72.95" width="1.7" height="1.7" fill="#000" stroke="#000" stroke-width="0.5"/>
<rect x="132.25" y="66.75" width="1.7" height="1.7" fill="#000" stroke="#000" stroke-width="0.5"/>
<rect x="155.6" y="64.8" width="1.8" height="1.8" fill="#000" stroke="#000" stroke-width="0.5"/>
<text x="174.5" y="5.9" font-size="8" text-anchor="start" fill="#1a1a1a" font-weight="bold">b</text>
<line x1="209.2" y1="9.4" x2="209.2" y2="116.4" stroke="#d8d8d8" stroke-width="1"/>
<line x1="342.6" y1="9.4" x2="342.6" y2="116.4" stroke="#d8d8d8" stroke-width="1"/>
<line x1="209.2" y1="116.4" x2="342.6" y2="116.4" stroke="#d8d8d8" stroke-width="1"/>
<line x1="208.4" y1="9.4" x2="342.6" y2="9.4" stroke="#555" stroke-width="1"/>
<line x1="342.6" y1="9.4" x2="342.6" y2="116.4" stroke="#888" stroke-width="0.9"/>
<line x1="209.2" y1="116.4" x2="209.2" y2="118.4" stroke="#555" stroke-width="0.8"/>
<line x1="235.82" y1="116.4" x2="235.82" y2="118.4" stroke="#555" stroke-width="0.8"/>
<line x1="262.44" y1="116.4" x2="262.44" y2="118.4" stroke="#555" stroke-width="0.8"/>
<line x1="289.06" y1="116.4" x2="289.06" y2="118.4" stroke="#555" stroke-width="0.8"/>
<line x1="315.68" y1="116.4" x2="315.68" y2="118.4" stroke="#555" stroke-width="0.8"/>
<line x1="342.3" y1="116.4" x2="342.3" y2="118.4" stroke="#555" stroke-width="0.8"/>
<line x1="222.51" y1="116.4" x2="222.51" y2="117.8" stroke="#555" stroke-width="0.8"/>
<line x1="249.13" y1="116.4" x2="249.13" y2="117.8" stroke="#555" stroke-width="0.8"/>
<line x1="275.75" y1="116.4" x2="275.75" y2="117.8" stroke="#555" stroke-width="0.8"/>
<line x1="302.37" y1="116.4" x2="302.37" y2="117.8" stroke="#555" stroke-width="0.8"/>
<line x1="328.99" y1="116.4" x2="328.99" y2="117.8" stroke="#555" stroke-width="0.8"/>
<line x1="209.2" y1="110.5" x2="207.2" y2="110.5" stroke="#555" stroke-width="0.8"/>
<line x1="209.2" y1="91.08" x2="207.2" y2="91.08" stroke="#555" stroke-width="0.8"/>
<line x1="209.2" y1="71.66" x2="207.2" y2="71.66" stroke="#555" stroke-width="0.8"/>
<line x1="209.2" y1="52.24" x2="207.2" y2="52.24" stroke="#555" stroke-width="0.8"/>
<line x1="209.2" y1="32.82" x2="207.2" y2="32.82" stroke="#555" stroke-width="0.8"/>
<line x1="209.2" y1="13.4" x2="207.2" y2="13.4" stroke="#555" stroke-width="0.8"/>
<line x1="209.2" y1="100.79" x2="207.8" y2="100.79" stroke="#555" stroke-width="0.8"/>
<line x1="209.2" y1="81.37" x2="207.8" y2="81.37" stroke="#555" stroke-width="0.8"/>
<line x1="209.2" y1="61.95" x2="207.8" y2="61.95" stroke="#555" stroke-width="0.8"/>
<line x1="209.2" y1="42.53" x2="207.8" y2="42.53" stroke="#555" stroke-width="0.8"/>
<line x1="209.2" y1="23.11" x2="207.8" y2="23.11" stroke="#555" stroke-width="0.8"/>
<text x="209.2" y="125.5" font-size="7.2" text-anchor="middle" fill="#1a1a1a">0</text>
<text x="235.82" y="125.5" font-size="7.2" text-anchor="middle" fill="#1a1a1a">2</text>
<text x="262.44" y="125.5" font-size="7.2" text-anchor="middle" fill="#1a1a1a">4</text>
<text x="289.06" y="125.5" font-size="7.2" text-anchor="middle" fill="#1a1a1a">6</text>
<text x="315.68" y="125.5" font-size="7.2" text-anchor="middle" fill="#1a1a1a">8</text>
<text x="342.3" y="125.5" font-size="7.2" text-anchor="middle" fill="#1a1a1a">10</text>
<text x="202.8" y="113.1" font-size="7.2" text-anchor="end" fill="#1a1a1a">0</text>
<text x="202.8" y="93.68" font-size="7.2" text-anchor="end" fill="#1a1a1a">0.01</text>
<text x="202.8" y="74.26" font-size="7.2" text-anchor="end" fill="#1a1a1a">0.02</text>
<text x="202.8" y="54.84" font-size="7.2" text-anchor="end" fill="#1a1a1a">0.03</text>
<text x="202.8" y="35.42" font-size="7.2" text-anchor="end" fill="#1a1a1a">0.04</text>
<text x="202.8" y="16" font-size="7.2" text-anchor="end" fill="#1a1a1a">0.05</text>
<text x="276" y="134.4" font-size="7" text-anchor="middle" fill="#1a1a1a">T (K)</text>
<text x="181" y="63.3" font-size="7" text-anchor="middle" fill="#1a1a1a" transform="rotate(-90 181 63.3)"><tspan font-style="italic">ρ</tspan> (μΩ m)</text>
<polyline points="261.5,110.4 264.93,110.4 269.63,110.4 275.28,110.4 281.57,110.4 288.2,110.4 294.85,110.4 301.22,110.4 306.98,110.4 311.85,110.4 315.5,110.4 317.99,110.26 319.68,110.1 320.69,109.9 321.17,109.68 321.24,109.44 321.05,109.18 320.73,108.91 320.4,108.61 320.22,108.31 320.3,108 320.52,107.69 320.67,107.38 320.76,107.06 320.8,106.73 320.8,106.38 320.78,106.01 320.76,105.6 320.75,105.15 320.76,104.65 320.8,104.1 320.87,103.5 320.95,102.86 321.03,102.19 321.11,101.47 321.2,100.72 321.29,99.93 321.37,99.1 321.45,98.24 321.53,97.34 321.6,96.4 321.66,95.4 321.73,94.34 321.79,93.21 321.85,92.04 321.9,90.85 321.95,89.64 322,88.44 322.04,87.26 322.07,86.1 322.1,85 322.12,83.98 322.12,83.04 322.11,82.15 322.1,81.29 322.09,80.42 322.07,79.51 322.06,78.54 322.06,77.46 322.07,76.26 322.1,74.9 322.14,73.36 322.2,71.66 322.26,69.83 322.33,67.9 322.41,65.91 322.49,63.87 322.58,61.84 322.66,59.82 322.73,57.87 322.8,56 322.86,54.18 322.92,52.36 322.98,50.53 323.04,48.73 323.09,46.94 323.15,45.18 323.21,43.46 323.27,41.78 323.33,40.16 323.4,38.6 323.45,37.09 323.48,35.61 323.5,34.16 323.51,32.75 323.54,31.39 323.58,30.08 323.66,28.84 323.78,27.65 323.96,26.54 324.2,25.5 324.48,24.54 324.76,23.64 325.06,22.8 325.39,22.03 325.78,21.32 326.23,20.67 326.76,20.08 327.39,19.54 328.13,19.06 329,18.63 330.09,18.28 331.44,18.02 332.96,17.84 334.61,17.71 336.3,17.64 337.97,17.6 339.54,17.58 340.95,17.56 342.13,17.54 343,17.5" fill="none" stroke="#000" stroke-width="0.75" stroke-linejoin="round" stroke-dasharray="0.8,0.8"/>
<rect x="260.25" y="109.15" width="2.5" height="2.5" fill="#000" stroke="#000" stroke-width="0.5"/>
<rect x="261.5" y="109.15" width="2.5" height="2.5" fill="#000" stroke="#000" stroke-width="0.5"/>
<rect x="262.75" y="109.15" width="2.5" height="2.5" fill="#000" stroke="#000" stroke-width="0.5"/>
<rect x="264" y="109.15" width="2.5" height="2.5" fill="#000" stroke="#000" stroke-width="0.5"/>
<rect x="265.25" y="109.15" width="2.5" height="2.5" fill="#000" stroke="#000" stroke-width="0.5"/>
<rect x="266.5" y="109.15" width="2.5" height="2.5" fill="#000" stroke="#000" stroke-width="0.5"/>
<rect x="267.75" y="109.15" width="2.5" height="2.5" fill="#000" stroke="#000" stroke-width="0.5"/>
<rect x="269" y="109.15" width="2.5" height="2.5" fill="#000" stroke="#000" stroke-width="0.5"/>
<rect x="270.25" y="109.15" width="2.5" height="2.5" fill="#000" stroke="#000" stroke-width="0.5"/>
<rect x="271.5" y="109.15" width="2.5" height="2.5" fill="#000" stroke="#000" stroke-width="0.5"/>
<rect x="272.75" y="109.15" width="2.5" height="2.5" fill="#000" stroke="#000" stroke-width="0.5"/>
<rect x="274" y="109.15" width="2.5" height="2.5" fill="#000" stroke="#000" stroke-width="0.5"/>
<rect x="275.25" y="109.15" width="2.5" height="2.5" fill="#000" stroke="#000" stroke-width="0.5"/>
<rect x="276.5" y="109.15" width="2.5" height="2.5" fill="#000" stroke="#000" stroke-width="0.5"/>
<rect x="277.75" y="109.15" width="2.5" height="2.5" fill="#000" stroke="#000" stroke-width="0.5"/>
<rect x="279" y="109.15" width="2.5" height="2.5" fill="#000" stroke="#000" stroke-width="0.5"/>
<rect x="280.25" y="109.15" width="2.5" height="2.5" fill="#000" stroke="#000" stroke-width="0.5"/>
<rect x="281.5" y="109.15" width="2.5" height="2.5" fill="#000" stroke="#000" stroke-width="0.5"/>
<rect x="282.75" y="109.15" width="2.5" height="2.5" fill="#000" stroke="#000" stroke-width="0.5"/>
<rect x="284" y="109.15" width="2.5" height="2.5" fill="#000" stroke="#000" stroke-width="0.5"/>
<rect x="285.25" y="109.15" width="2.5" height="2.5" fill="#000" stroke="#000" stroke-width="0.5"/>
<rect x="286.5" y="109.15" width="2.5" height="2.5" fill="#000" stroke="#000" stroke-width="0.5"/>
<rect x="287.75" y="109.15" width="2.5" height="2.5" fill="#000" stroke="#000" stroke-width="0.5"/>
<rect x="289" y="109.15" width="2.5" height="2.5" fill="#000" stroke="#000" stroke-width="0.5"/>
<rect x="290.25" y="109.15" width="2.5" height="2.5" fill="#000" stroke="#000" stroke-width="0.5"/>
<rect x="291.5" y="109.15" width="2.5" height="2.5" fill="#000" stroke="#000" stroke-width="0.5"/>
<rect x="292.75" y="109.15" width="2.5" height="2.5" fill="#000" stroke="#000" stroke-width="0.5"/>
<rect x="294" y="109.15" width="2.5" height="2.5" fill="#000" stroke="#000" stroke-width="0.5"/>
<rect x="295.25" y="109.15" width="2.5" height="2.5" fill="#000" stroke="#000" stroke-width="0.5"/>
<rect x="296.5" y="109.15" width="2.5" height="2.5" fill="#000" stroke="#000" stroke-width="0.5"/>
<rect x="297.75" y="109.15" width="2.5" height="2.5" fill="#000" stroke="#000" stroke-width="0.5"/>
<rect x="299" y="109.15" width="2.5" height="2.5" fill="#000" stroke="#000" stroke-width="0.5"/>
<rect x="300.25" y="109.15" width="2.5" height="2.5" fill="#000" stroke="#000" stroke-width="0.5"/>
<rect x="301.5" y="109.15" width="2.5" height="2.5" fill="#000" stroke="#000" stroke-width="0.5"/>
<rect x="302.75" y="109.15" width="2.5" height="2.5" fill="#000" stroke="#000" stroke-width="0.5"/>
<rect x="304" y="109.15" width="2.5" height="2.5" fill="#000" stroke="#000" stroke-width="0.5"/>
<rect x="305.25" y="109.15" width="2.5" height="2.5" fill="#000" stroke="#000" stroke-width="0.5"/>
<rect x="306.5" y="109.15" width="2.5" height="2.5" fill="#000" stroke="#000" stroke-width="0.5"/>
<rect x="307.75" y="109.15" width="2.5" height="2.5" fill="#000" stroke="#000" stroke-width="0.5"/>
<rect x="309" y="109.15" width="2.5" height="2.5" fill="#000" stroke="#000" stroke-width="0.5"/>
<rect x="310.25" y="109.15" width="2.5" height="2.5" fill="#000" stroke="#000" stroke-width="0.5"/>
<rect x="311.5" y="109.15" width="2.5" height="2.5" fill="#000" stroke="#000" stroke-width="0.5"/>
<rect x="312.75" y="109.15" width="2.5" height="2.5" fill="#000" stroke="#000" stroke-width="0.5"/>
<rect x="314" y="109.15" width="2.5" height="2.5" fill="#000" stroke="#000" stroke-width="0.5"/>
<rect x="315.25" y="109.1" width="2.5" height="2.5" fill="#000" stroke="#000" stroke-width="0.5"/>
<rect x="316.5" y="109.03" width="2.5" height="2.5" fill="#000" stroke="#000" stroke-width="0.5"/>
<rect x="317.75" y="108.91" width="2.5" height="2.5" fill="#000" stroke="#000" stroke-width="0.5"/>
<rect x="319" y="108.74" width="2.5" height="2.5" fill="#000" stroke="#000" stroke-width="0.5"/>
<rect x="320.25" y="96.45" width="2.5" height="2.5" fill="#000" stroke="#000" stroke-width="0.5"/>
<rect x="321.5" y="56.1" width="2.5" height="2.5" fill="#000" stroke="#000" stroke-width="0.5"/>
<rect x="322.75" y="25.1" width="2.5" height="2.5" fill="#000" stroke="#000" stroke-width="0.5"/>
<rect x="324" y="21.1" width="2.5" height="2.5" fill="#000" stroke="#000" stroke-width="0.5"/>
<rect x="325.25" y="19.11" width="2.5" height="2.5" fill="#000" stroke="#000" stroke-width="0.5"/>
<rect x="326.5" y="18.06" width="2.5" height="2.5" fill="#000" stroke="#000" stroke-width="0.5"/>
<rect x="327.75" y="17.38" width="2.5" height="2.5" fill="#000" stroke="#000" stroke-width="0.5"/>
<rect x="329" y="17" width="2.5" height="2.5" fill="#000" stroke="#000" stroke-width="0.5"/>
<rect x="330.25" y="16.76" width="2.5" height="2.5" fill="#000" stroke="#000" stroke-width="0.5"/>
<rect x="331.5" y="16.61" width="2.5" height="2.5" fill="#000" stroke="#000" stroke-width="0.5"/>
<rect x="332.75" y="16.51" width="2.5" height="2.5" fill="#000" stroke="#000" stroke-width="0.5"/>
<rect x="334" y="16.43" width="2.5" height="2.5" fill="#000" stroke="#000" stroke-width="0.5"/>
<rect x="335.25" y="16.38" width="2.5" height="2.5" fill="#000" stroke="#000" stroke-width="0.5"/>
<rect x="336.5" y="16.35" width="2.5" height="2.5" fill="#000" stroke="#000" stroke-width="0.5"/>
<rect x="337.75" y="16.33" width="2.5" height="2.5" fill="#000" stroke="#000" stroke-width="0.5"/>
<rect x="339" y="16.32" width="2.5" height="2.5" fill="#000" stroke="#000" stroke-width="0.5"/>
<rect x="340.25" y="16.3" width="2.5" height="2.5" fill="#000" stroke="#000" stroke-width="0.5"/>
<rect x="341.5" y="16.26" width="2.5" height="2.5" fill="#000" stroke="#000" stroke-width="0.5"/>
<rect x="318.9" y="106.6" width="2.8" height="2.8" fill="#000" stroke="#000" stroke-width="0.5"/>
<rect x="319.4" y="102.7" width="2.8" height="2.8" fill="#000" stroke="#000" stroke-width="0.5"/>
<rect x="320.2" y="95" width="2.8" height="2.8" fill="#000" stroke="#000" stroke-width="0.5"/>
<rect x="320.7" y="83.6" width="2.8" height="2.8" fill="#000" stroke="#000" stroke-width="0.5"/>
<rect x="320.7" y="73.5" width="2.8" height="2.8" fill="#000" stroke="#000" stroke-width="0.5"/>
<rect x="321.4" y="54.6" width="2.8" height="2.8" fill="#000" stroke="#000" stroke-width="0.5"/>
<rect x="322" y="37.2" width="2.8" height="2.8" fill="#000" stroke="#000" stroke-width="0.5"/>
<rect x="322.8" y="24.1" width="2.8" height="2.8" fill="#000" stroke="#000" stroke-width="0.5"/>
<rect x="322.36" y="27.54" width="2.6" height="2.6" fill="#000" stroke="#000" stroke-width="0.5"/>
<rect x="322.5" y="26.24" width="2.6" height="2.6" fill="#000" stroke="#000" stroke-width="0.5"/>
<rect x="322.72" y="24.96" width="2.6" height="2.6" fill="#000" stroke="#000" stroke-width="0.5"/>
<rect x="323.04" y="23.7" width="2.6" height="2.6" fill="#000" stroke="#000" stroke-width="0.5"/>
<rect x="323.42" y="22.46" width="2.6" height="2.6" fill="#000" stroke="#000" stroke-width="0.5"/>
<rect x="323.87" y="21.24" width="2.6" height="2.6" fill="#000" stroke="#000" stroke-width="0.5"/>
<rect x="324.44" y="20.08" width="2.6" height="2.6" fill="#000" stroke="#000" stroke-width="0.5"/>
<rect x="325.22" y="19.04" width="2.6" height="2.6" fill="#000" stroke="#000" stroke-width="0.5"/>
<rect x="326.19" y="18.18" width="2.6" height="2.6" fill="#000" stroke="#000" stroke-width="0.5"/>
<rect x="327.31" y="17.52" width="2.6" height="2.6" fill="#000" stroke="#000" stroke-width="0.5"/>
<polyline points="261.5,110.4 264.68,110.4 269.03,110.4 274.27,110.4 280.1,110.4 286.24,110.4 292.4,110.4 298.3,110.4 303.64,110.4 308.13,110.4 311.5,110.4 313.78,109.98 315.3,109.46 316.18,108.85 316.56,108.17 316.57,107.42 316.34,106.62 315.99,105.79 315.67,104.93 315.49,104.06 315.6,103.2 315.87,102.32 316.11,101.41 316.31,100.45 316.49,99.47 316.65,98.47 316.79,97.45 316.92,96.41 317.05,95.37 317.17,94.33 317.3,93.3 317.42,92.28 317.53,91.27 317.63,90.26 317.72,89.24 317.81,88.21 317.89,87.16 317.96,86.09 318.04,84.97 318.12,83.81 318.2,82.6 318.28,81.34 318.36,80.03 318.43,78.68 318.5,77.3 318.58,75.89 318.65,74.45 318.73,72.98 318.81,71.5 318.9,70.01 319,68.5 319.11,66.97 319.24,65.41 319.38,63.82 319.52,62.21 319.67,60.59 319.81,58.95 319.95,57.31 320.08,55.66 320.2,54.03 320.3,52.4 320.38,50.75 320.45,49.05 320.5,47.33 320.54,45.6 320.58,43.87 320.62,42.18 320.65,40.54 320.69,38.97 320.74,37.48 320.8,36.1 320.85,34.83 320.88,33.64 320.9,32.52 320.93,31.47 320.96,30.48 321.01,29.53 321.09,28.62 321.2,27.73 321.37,26.86 321.6,26 321.84,25.14 322.05,24.29 322.26,23.46 322.5,22.66 322.79,21.89 323.16,21.17 323.64,20.5 324.26,19.89 325.03,19.34 326,18.88 327.27,18.5 328.87,18.21 330.71,18 332.71,17.85 334.77,17.74 336.82,17.68 338.75,17.63 340.49,17.6 341.93,17.56 343,17.5" fill="none" stroke="#f00" stroke-width="0.75" stroke-linejoin="round" stroke-dasharray="0.8,0.8"/>
<circle cx="261.5" cy="110.4" r="1.25" fill="#f00" stroke="#f00" stroke-width="0.5"/>
<circle cx="262.75" cy="110.4" r="1.25" fill="#f00" stroke="#f00" stroke-width="0.5"/>
<circle cx="264" cy="110.4" r="1.25" fill="#f00" stroke="#f00" stroke-width="0.5"/>
<circle cx="265.25" cy="110.4" r="1.25" fill="#f00" stroke="#f00" stroke-width="0.5"/>
<circle cx="266.5" cy="110.4" r="1.25" fill="#f00" stroke="#f00" stroke-width="0.5"/>
<circle cx="267.75" cy="110.4" r="1.25" fill="#f00" stroke="#f00" stroke-width="0.5"/>
<circle cx="269" cy="110.4" r="1.25" fill="#f00" stroke="#f00" stroke-width="0.5"/>
<circle cx="270.25" cy="110.4" r="1.25" fill="#f00" stroke="#f00" stroke-width="0.5"/>
<circle cx="271.5" cy="110.4" r="1.25" fill="#f00" stroke="#f00" stroke-width="0.5"/>
<circle cx="272.75" cy="110.4" r="1.25" fill="#f00" stroke="#f00" stroke-width="0.5"/>
<circle cx="274" cy="110.4" r="1.25" fill="#f00" stroke="#f00" stroke-width="0.5"/>
<circle cx="275.25" cy="110.4" r="1.25" fill="#f00" stroke="#f00" stroke-width="0.5"/>
<circle cx="276.5" cy="110.4" r="1.25" fill="#f00" stroke="#f00" stroke-width="0.5"/>
<circle cx="277.75" cy="110.4" r="1.25" fill="#f00" stroke="#f00" stroke-width="0.5"/>
<circle cx="279" cy="110.4" r="1.25" fill="#f00" stroke="#f00" stroke-width="0.5"/>
<circle cx="280.25" cy="110.4" r="1.25" fill="#f00" stroke="#f00" stroke-width="0.5"/>
<circle cx="281.5" cy="110.4" r="1.25" fill="#f00" stroke="#f00" stroke-width="0.5"/>
<circle cx="282.75" cy="110.4" r="1.25" fill="#f00" stroke="#f00" stroke-width="0.5"/>
<circle cx="284" cy="110.4" r="1.25" fill="#f00" stroke="#f00" stroke-width="0.5"/>
<circle cx="285.25" cy="110.4" r="1.25" fill="#f00" stroke="#f00" stroke-width="0.5"/>
<circle cx="286.5" cy="110.4" r="1.25" fill="#f00" stroke="#f00" stroke-width="0.5"/>
<circle cx="287.75" cy="110.4" r="1.25" fill="#f00" stroke="#f00" stroke-width="0.5"/>
<circle cx="289" cy="110.4" r="1.25" fill="#f00" stroke="#f00" stroke-width="0.5"/>
<circle cx="290.25" cy="110.4" r="1.25" fill="#f00" stroke="#f00" stroke-width="0.5"/>
<circle cx="291.5" cy="110.4" r="1.25" fill="#f00" stroke="#f00" stroke-width="0.5"/>
<circle cx="292.75" cy="110.4" r="1.25" fill="#f00" stroke="#f00" stroke-width="0.5"/>
<circle cx="294" cy="110.4" r="1.25" fill="#f00" stroke="#f00" stroke-width="0.5"/>
<circle cx="295.25" cy="110.4" r="1.25" fill="#f00" stroke="#f00" stroke-width="0.5"/>
<circle cx="296.5" cy="110.4" r="1.25" fill="#f00" stroke="#f00" stroke-width="0.5"/>
<circle cx="297.75" cy="110.4" r="1.25" fill="#f00" stroke="#f00" stroke-width="0.5"/>
<circle cx="299" cy="110.4" r="1.25" fill="#f00" stroke="#f00" stroke-width="0.5"/>
<circle cx="300.25" cy="110.4" r="1.25" fill="#f00" stroke="#f00" stroke-width="0.5"/>
<circle cx="301.5" cy="110.4" r="1.25" fill="#f00" stroke="#f00" stroke-width="0.5"/>
<circle cx="302.75" cy="110.4" r="1.25" fill="#f00" stroke="#f00" stroke-width="0.5"/>
<circle cx="304" cy="110.4" r="1.25" fill="#f00" stroke="#f00" stroke-width="0.5"/>
<circle cx="305.25" cy="110.4" r="1.25" fill="#f00" stroke="#f00" stroke-width="0.5"/>
<circle cx="306.5" cy="110.4" r="1.25" fill="#f00" stroke="#f00" stroke-width="0.5"/>
<circle cx="307.75" cy="110.4" r="1.25" fill="#f00" stroke="#f00" stroke-width="0.5"/>
<circle cx="309" cy="110.4" r="1.25" fill="#f00" stroke="#f00" stroke-width="0.5"/>
<circle cx="310.25" cy="110.4" r="1.25" fill="#f00" stroke="#f00" stroke-width="0.5"/>
<circle cx="311.5" cy="110.4" r="1.25" fill="#f00" stroke="#f00" stroke-width="0.5"/>
<circle cx="312.75" cy="110.17" r="1.25" fill="#f00" stroke="#f00" stroke-width="0.5"/>
<circle cx="314" cy="109.91" r="1.25" fill="#f00" stroke="#f00" stroke-width="0.5"/>
<circle cx="315.25" cy="109.48" r="1.25" fill="#f00" stroke="#f00" stroke-width="0.5"/>
<circle cx="316.5" cy="108.28" r="1.25" fill="#f00" stroke="#f00" stroke-width="0.5"/>
<circle cx="317.75" cy="88.9" r="1.25" fill="#f00" stroke="#f00" stroke-width="0.5"/>
<circle cx="319" cy="68.5" r="1.25" fill="#f00" stroke="#f00" stroke-width="0.5"/>
<circle cx="320.25" cy="53.21" r="1.25" fill="#f00" stroke="#f00" stroke-width="0.5"/>
<circle cx="321.5" cy="26.38" r="1.25" fill="#f00" stroke="#f00" stroke-width="0.5"/>
<circle cx="322.75" cy="21.99" r="1.25" fill="#f00" stroke="#f00" stroke-width="0.5"/>
<circle cx="324" cy="20.14" r="1.25" fill="#f00" stroke="#f00" stroke-width="0.5"/>
<circle cx="325.25" cy="19.24" r="1.25" fill="#f00" stroke="#f00" stroke-width="0.5"/>
<circle cx="326.5" cy="18.73" r="1.25" fill="#f00" stroke="#f00" stroke-width="0.5"/>
<circle cx="327.75" cy="18.41" r="1.25" fill="#f00" stroke="#f00" stroke-width="0.5"/>
<circle cx="329" cy="18.2" r="1.25" fill="#f00" stroke="#f00" stroke-width="0.5"/>
<circle cx="330.25" cy="18.05" r="1.25" fill="#f00" stroke="#f00" stroke-width="0.5"/>
<circle cx="331.5" cy="17.94" r="1.25" fill="#f00" stroke="#f00" stroke-width="0.5"/>
<circle cx="332.75" cy="17.84" r="1.25" fill="#f00" stroke="#f00" stroke-width="0.5"/>
<circle cx="334" cy="17.78" r="1.25" fill="#f00" stroke="#f00" stroke-width="0.5"/>
<circle cx="335.25" cy="17.73" r="1.25" fill="#f00" stroke="#f00" stroke-width="0.5"/>
<circle cx="336.5" cy="17.69" r="1.25" fill="#f00" stroke="#f00" stroke-width="0.5"/>
<circle cx="337.75" cy="17.65" r="1.25" fill="#f00" stroke="#f00" stroke-width="0.5"/>
<circle cx="339" cy="17.63" r="1.25" fill="#f00" stroke="#f00" stroke-width="0.5"/>
<circle cx="340.25" cy="17.6" r="1.25" fill="#f00" stroke="#f00" stroke-width="0.5"/>
<circle cx="341.5" cy="17.57" r="1.25" fill="#f00" stroke="#f00" stroke-width="0.5"/>
<circle cx="342.75" cy="17.51" r="1.25" fill="#f00" stroke="#f00" stroke-width="0.5"/>
<circle cx="315.6" cy="103.2" r="1.4" fill="#f00" stroke="#f00" stroke-width="0.5"/>
<circle cx="317.3" cy="93.3" r="1.4" fill="#f00" stroke="#f00" stroke-width="0.5"/>
<circle cx="318.2" cy="82.6" r="1.4" fill="#f00" stroke="#f00" stroke-width="0.5"/>
<circle cx="319" cy="68.5" r="1.4" fill="#f00" stroke="#f00" stroke-width="0.5"/>
<circle cx="320.3" cy="52.4" r="1.4" fill="#f00" stroke="#f00" stroke-width="0.5"/>
<circle cx="320.8" cy="36.1" r="1.4" fill="#f00" stroke="#f00" stroke-width="0.5"/>
<circle cx="321.6" cy="26" r="1.4" fill="#f00" stroke="#f00" stroke-width="0.5"/>
<circle cx="321.01" cy="29.53" r="1.3" fill="#f00" stroke="#f00" stroke-width="0.5"/>
<circle cx="321.14" cy="28.23" r="1.3" fill="#f00" stroke="#f00" stroke-width="0.5"/>
<circle cx="321.35" cy="26.95" r="1.3" fill="#f00" stroke="#f00" stroke-width="0.5"/>
<circle cx="321.68" cy="25.7" r="1.3" fill="#f00" stroke="#f00" stroke-width="0.5"/>
<circle cx="322.01" cy="24.44" r="1.3" fill="#f00" stroke="#f00" stroke-width="0.5"/>
<circle cx="322.34" cy="23.18" r="1.3" fill="#f00" stroke="#f00" stroke-width="0.5"/>
<circle cx="322.76" cy="21.95" r="1.3" fill="#f00" stroke="#f00" stroke-width="0.5"/>
<circle cx="323.41" cy="20.83" r="1.3" fill="#f00" stroke="#f00" stroke-width="0.5"/>
<circle cx="324.28" cy="19.87" r="1.3" fill="#f00" stroke="#f00" stroke-width="0.5"/>
<circle cx="325.38" cy="19.18" r="1.3" fill="#f00" stroke="#f00" stroke-width="0.5"/>
<polyline points="261.5,110.4 264.55,110.4 268.72,110.4 273.74,110.4 279.32,110.4 285.21,110.4 291.11,110.4 296.77,110.4 301.9,110.4 306.24,110.4 309.5,110.4 311.74,109.75 313.26,108.91 314.2,107.92 314.66,106.8 314.76,105.6 314.64,104.35 314.4,103.08 314.16,101.82 314.06,100.62 314.2,99.5 314.47,98.47 314.69,97.48 314.86,96.53 315,95.59 315.11,94.64 315.2,93.67 315.28,92.65 315.37,91.56 315.47,90.38 315.6,89.1 315.74,87.68 315.89,86.13 316.03,84.47 316.18,82.75 316.33,80.98 316.47,79.21 316.61,77.46 316.75,75.78 316.88,74.18 317,72.7 317.12,71.34 317.22,70.07 317.33,68.86 317.42,67.7 317.52,66.58 317.61,65.48 317.71,64.39 317.8,63.29 317.9,62.17 318,61 318.11,59.8 318.22,58.59 318.34,57.36 318.47,56.13 318.59,54.9 318.71,53.67 318.82,52.45 318.92,51.25 319.02,50.06 319.1,48.9 319.17,47.75 319.22,46.61 319.27,45.48 319.31,44.35 319.34,43.24 319.37,42.15 319.4,41.08 319.43,40.03 319.46,39 319.5,38 319.52,37.04 319.52,36.13 319.5,35.25 319.48,34.39 319.47,33.55 319.47,32.72 319.51,31.87 319.58,31.01 319.71,30.13 319.9,29.2 320.09,28.2 320.24,27.12 320.39,25.98 320.56,24.82 320.79,23.67 321.11,22.55 321.56,21.5 322.17,20.54 322.97,19.71 324,19.04 325.38,18.53 327.15,18.15 329.2,17.89 331.44,17.73 333.76,17.63 336.05,17.59 338.23,17.58 340.18,17.57 341.8,17.55 343,17.5" fill="none" stroke="#00dd00" stroke-width="0.75" stroke-linejoin="round" stroke-dasharray="0.8,0.8"/>
<polygon points="261.5,108.96 262.88,111.34 260.12,111.34" fill="#00dd00" stroke="#00dd00" stroke-width="0.5"/>
<polygon points="262.75,108.96 264.12,111.34 261.38,111.34" fill="#00dd00" stroke="#00dd00" stroke-width="0.5"/>
<polygon points="264,108.96 265.38,111.34 262.62,111.34" fill="#00dd00" stroke="#00dd00" stroke-width="0.5"/>
<polygon points="265.25,108.96 266.62,111.34 263.88,111.34" fill="#00dd00" stroke="#00dd00" stroke-width="0.5"/>
<polygon points="266.5,108.96 267.88,111.34 265.12,111.34" fill="#00dd00" stroke="#00dd00" stroke-width="0.5"/>
<polygon points="267.75,108.96 269.12,111.34 266.38,111.34" fill="#00dd00" stroke="#00dd00" stroke-width="0.5"/>
<polygon points="269,108.96 270.38,111.34 267.62,111.34" fill="#00dd00" stroke="#00dd00" stroke-width="0.5"/>
<polygon points="270.25,108.96 271.62,111.34 268.88,111.34" fill="#00dd00" stroke="#00dd00" stroke-width="0.5"/>
<polygon points="271.5,108.96 272.88,111.34 270.12,111.34" fill="#00dd00" stroke="#00dd00" stroke-width="0.5"/>
<polygon points="272.75,108.96 274.12,111.34 271.38,111.34" fill="#00dd00" stroke="#00dd00" stroke-width="0.5"/>
<polygon points="274,108.96 275.38,111.34 272.62,111.34" fill="#00dd00" stroke="#00dd00" stroke-width="0.5"/>
<polygon points="275.25,108.96 276.62,111.34 273.88,111.34" fill="#00dd00" stroke="#00dd00" stroke-width="0.5"/>
<polygon points="276.5,108.96 277.88,111.34 275.12,111.34" fill="#00dd00" stroke="#00dd00" stroke-width="0.5"/>
<polygon points="277.75,108.96 279.12,111.34 276.38,111.34" fill="#00dd00" stroke="#00dd00" stroke-width="0.5"/>
<polygon points="279,108.96 280.38,111.34 277.62,111.34" fill="#00dd00" stroke="#00dd00" stroke-width="0.5"/>
<polygon points="280.25,108.96 281.62,111.34 278.88,111.34" fill="#00dd00" stroke="#00dd00" stroke-width="0.5"/>
<polygon points="281.5,108.96 282.88,111.34 280.12,111.34" fill="#00dd00" stroke="#00dd00" stroke-width="0.5"/>
<polygon points="282.75,108.96 284.12,111.34 281.38,111.34" fill="#00dd00" stroke="#00dd00" stroke-width="0.5"/>
<polygon points="284,108.96 285.38,111.34 282.62,111.34" fill="#00dd00" stroke="#00dd00" stroke-width="0.5"/>
<polygon points="285.25,108.96 286.62,111.34 283.88,111.34" fill="#00dd00" stroke="#00dd00" stroke-width="0.5"/>
<polygon points="286.5,108.96 287.88,111.34 285.12,111.34" fill="#00dd00" stroke="#00dd00" stroke-width="0.5"/>
<polygon points="287.75,108.96 289.12,111.34 286.38,111.34" fill="#00dd00" stroke="#00dd00" stroke-width="0.5"/>
<polygon points="289,108.96 290.38,111.34 287.62,111.34" fill="#00dd00" stroke="#00dd00" stroke-width="0.5"/>
<polygon points="290.25,108.96 291.62,111.34 288.88,111.34" fill="#00dd00" stroke="#00dd00" stroke-width="0.5"/>
<polygon points="291.5,108.96 292.88,111.34 290.12,111.34" fill="#00dd00" stroke="#00dd00" stroke-width="0.5"/>
<polygon points="292.75,108.96 294.12,111.34 291.38,111.34" fill="#00dd00" stroke="#00dd00" stroke-width="0.5"/>
<polygon points="294,108.96 295.38,111.34 292.62,111.34" fill="#00dd00" stroke="#00dd00" stroke-width="0.5"/>
<polygon points="295.25,108.96 296.62,111.34 293.88,111.34" fill="#00dd00" stroke="#00dd00" stroke-width="0.5"/>
<polygon points="296.5,108.96 297.88,111.34 295.12,111.34" fill="#00dd00" stroke="#00dd00" stroke-width="0.5"/>
<polygon points="297.75,108.96 299.12,111.34 296.38,111.34" fill="#00dd00" stroke="#00dd00" stroke-width="0.5"/>
<polygon points="299,108.96 300.38,111.34 297.62,111.34" fill="#00dd00" stroke="#00dd00" stroke-width="0.5"/>
<polygon points="300.25,108.96 301.62,111.34 298.88,111.34" fill="#00dd00" stroke="#00dd00" stroke-width="0.5"/>
<polygon points="301.5,108.96 302.88,111.34 300.12,111.34" fill="#00dd00" stroke="#00dd00" stroke-width="0.5"/>
<polygon points="302.75,108.96 304.12,111.34 301.38,111.34" fill="#00dd00" stroke="#00dd00" stroke-width="0.5"/>
<polygon points="304,108.96 305.38,111.34 302.62,111.34" fill="#00dd00" stroke="#00dd00" stroke-width="0.5"/>
<polygon points="305.25,108.96 306.62,111.34 303.88,111.34" fill="#00dd00" stroke="#00dd00" stroke-width="0.5"/>
<polygon points="306.5,108.96 307.88,111.34 305.12,111.34" fill="#00dd00" stroke="#00dd00" stroke-width="0.5"/>
<polygon points="307.75,108.96 309.12,111.34 306.38,111.34" fill="#00dd00" stroke="#00dd00" stroke-width="0.5"/>
<polygon points="309,108.96 310.38,111.34 307.62,111.34" fill="#00dd00" stroke="#00dd00" stroke-width="0.5"/>
<polygon points="310.25,108.74 311.62,111.12 308.88,111.12" fill="#00dd00" stroke="#00dd00" stroke-width="0.5"/>
<polygon points="311.5,108.38 312.88,110.76 310.12,110.76" fill="#00dd00" stroke="#00dd00" stroke-width="0.5"/>
<polygon points="312.75,107.75 314.12,110.13 311.38,110.13" fill="#00dd00" stroke="#00dd00" stroke-width="0.5"/>
<polygon points="314,106.69 315.38,109.06 312.62,109.06" fill="#00dd00" stroke="#00dd00" stroke-width="0.5"/>
<polygon points="315.25,91.61 316.62,93.99 313.88,93.99" fill="#00dd00" stroke="#00dd00" stroke-width="0.5"/>
<polygon points="316.5,77.38 317.88,79.76 315.12,79.76" fill="#00dd00" stroke="#00dd00" stroke-width="0.5"/>
<polygon points="317.75,62.43 319.12,64.81 316.38,64.81" fill="#00dd00" stroke="#00dd00" stroke-width="0.5"/>
<polygon points="319,48.85 320.38,51.22 317.62,51.22" fill="#00dd00" stroke="#00dd00" stroke-width="0.5"/>
<polygon points="320.25,25.64 321.62,28.01 318.88,28.01" fill="#00dd00" stroke="#00dd00" stroke-width="0.5"/>
<polygon points="321.5,20.2 322.88,22.57 320.12,22.57" fill="#00dd00" stroke="#00dd00" stroke-width="0.5"/>
<polygon points="322.75,18.5 324.12,20.88 321.38,20.88" fill="#00dd00" stroke="#00dd00" stroke-width="0.5"/>
<polygon points="324,17.6 325.38,19.98 322.62,19.98" fill="#00dd00" stroke="#00dd00" stroke-width="0.5"/>
<polygon points="325.25,17.14 326.62,19.51 323.88,19.51" fill="#00dd00" stroke="#00dd00" stroke-width="0.5"/>
<polygon points="326.5,16.85 327.88,19.23 325.12,19.23" fill="#00dd00" stroke="#00dd00" stroke-width="0.5"/>
<polygon points="327.75,16.64 329.12,19.02 326.38,19.02" fill="#00dd00" stroke="#00dd00" stroke-width="0.5"/>
<polygon points="329,16.48 330.38,18.86 327.62,18.86" fill="#00dd00" stroke="#00dd00" stroke-width="0.5"/>
<polygon points="330.25,16.38 331.62,18.75 328.88,18.75" fill="#00dd00" stroke="#00dd00" stroke-width="0.5"/>
<polygon points="331.5,16.29 332.88,18.66 330.12,18.66" fill="#00dd00" stroke="#00dd00" stroke-width="0.5"/>
<polygon points="332.75,16.24 334.12,18.61 331.38,18.61" fill="#00dd00" stroke="#00dd00" stroke-width="0.5"/>
<polygon points="334,16.19 335.38,18.57 332.62,18.57" fill="#00dd00" stroke="#00dd00" stroke-width="0.5"/>
<polygon points="335.25,16.17 336.62,18.54 333.88,18.54" fill="#00dd00" stroke="#00dd00" stroke-width="0.5"/>
<polygon points="336.5,16.15 337.88,18.53 335.12,18.53" fill="#00dd00" stroke="#00dd00" stroke-width="0.5"/>
<polygon points="337.75,16.14 339.12,18.52 336.38,18.52" fill="#00dd00" stroke="#00dd00" stroke-width="0.5"/>
<polygon points="339,16.14 340.38,18.51 337.62,18.51" fill="#00dd00" stroke="#00dd00" stroke-width="0.5"/>
<polygon points="340.25,16.13 341.62,18.51 338.88,18.51" fill="#00dd00" stroke="#00dd00" stroke-width="0.5"/>
<polygon points="341.5,16.12 342.88,18.49 340.12,18.49" fill="#00dd00" stroke="#00dd00" stroke-width="0.5"/>
<polygon points="342.75,16.07 344.12,18.45 341.38,18.45" fill="#00dd00" stroke="#00dd00" stroke-width="0.5"/>
<polygon points="314.2,97.89 315.74,100.55 312.66,100.55" fill="#00dd00" stroke="#00dd00" stroke-width="0.5"/>
<polygon points="315.6,87.49 317.14,90.15 314.06,90.15" fill="#00dd00" stroke="#00dd00" stroke-width="0.5"/>
<polygon points="317,71.09 318.54,73.75 315.46,73.75" fill="#00dd00" stroke="#00dd00" stroke-width="0.5"/>
<polygon points="318,59.39 319.54,62.05 316.46,62.05" fill="#00dd00" stroke="#00dd00" stroke-width="0.5"/>
<polygon points="319.1,47.29 320.64,49.95 317.56,49.95" fill="#00dd00" stroke="#00dd00" stroke-width="0.5"/>
<polygon points="319.5,36.39 321.04,39.05 317.96,39.05" fill="#00dd00" stroke="#00dd00" stroke-width="0.5"/>
<polygon points="319.9,27.59 321.44,30.25 318.36,30.25" fill="#00dd00" stroke="#00dd00" stroke-width="0.5"/>
<polygon points="319.9,27.7 321.33,30.18 318.47,30.18" fill="#00dd00" stroke="#00dd00" stroke-width="0.5"/>
<polygon points="320.13,26.43 321.56,28.9 318.7,28.9" fill="#00dd00" stroke="#00dd00" stroke-width="0.5"/>
<polygon points="320.31,25.14 321.74,27.61 318.88,27.61" fill="#00dd00" stroke="#00dd00" stroke-width="0.5"/>
<polygon points="320.48,23.85 321.91,26.32 319.05,26.32" fill="#00dd00" stroke="#00dd00" stroke-width="0.5"/>
<polygon points="320.71,22.57 322.14,25.04 319.28,25.04" fill="#00dd00" stroke="#00dd00" stroke-width="0.5"/>
<polygon points="321.03,21.31 322.46,23.78 319.6,23.78" fill="#00dd00" stroke="#00dd00" stroke-width="0.5"/>
<polygon points="321.51,20.11 322.94,22.58 320.08,22.58" fill="#00dd00" stroke="#00dd00" stroke-width="0.5"/>
<polygon points="322.2,19.01 323.63,21.48 320.77,21.48" fill="#00dd00" stroke="#00dd00" stroke-width="0.5"/>
<polygon points="323.14,18.11 324.57,20.58 321.71,20.58" fill="#00dd00" stroke="#00dd00" stroke-width="0.5"/>
<polyline points="261.5,110.4 264.1,110.4 267.66,110.4 271.94,110.4 276.7,110.4 281.72,110.4 286.76,110.4 291.59,110.4 295.98,110.4 299.69,110.4 302.5,110.4 304.44,110.08 305.78,109.68 306.62,109.2 307.06,108.66 307.21,108.08 307.15,107.47 307.01,106.84 306.86,106.21 306.83,105.59 307,105 307.28,104.43 307.51,103.88 307.7,103.33 307.86,102.77 308,102.2 308.13,101.61 308.25,100.99 308.38,100.34 308.53,99.65 308.7,98.9 308.9,98.12 309.11,97.31 309.34,96.49 309.56,95.63 309.79,94.73 310.02,93.79 310.24,92.81 310.44,91.77 310.63,90.67 310.8,89.5 310.94,88.27 311.07,87 311.17,85.67 311.27,84.29 311.36,82.86 311.44,81.37 311.52,79.83 311.6,78.24 311.7,76.6 311.8,74.9 311.91,73.12 312.02,71.24 312.13,69.29 312.24,67.27 312.35,65.22 312.47,63.14 312.59,61.06 312.72,59 312.85,56.97 313,55 313.16,53.03 313.34,51.02 313.53,48.98 313.72,46.95 313.92,44.94 314.12,42.98 314.31,41.09 314.49,39.3 314.66,37.63 314.8,36.1 314.9,34.72 314.97,33.46 315,32.31 315.02,31.26 315.04,30.28 315.07,29.37 315.13,28.5 315.23,27.66 315.38,26.83 315.6,26 315.81,25.17 315.95,24.37 316.07,23.6 316.21,22.87 316.41,22.17 316.73,21.51 317.2,20.89 317.87,20.33 318.79,19.82 320,19.36 321.65,18.97 323.78,18.65 326.26,18.39 328.96,18.18 331.77,18.02 334.56,17.88 337.2,17.77 339.57,17.68 341.55,17.59 343,17.5" fill="none" stroke="#0000f0" stroke-width="0.75" stroke-linejoin="round" stroke-dasharray="0.8,0.8"/>
<polygon points="261.5,111.84 262.88,109.46 260.12,109.46" fill="#0000f0" stroke="#0000f0" stroke-width="0.5"/>
<polygon points="262.75,111.84 264.12,109.46 261.38,109.46" fill="#0000f0" stroke="#0000f0" stroke-width="0.5"/>
<polygon points="264,111.84 265.38,109.46 262.62,109.46" fill="#0000f0" stroke="#0000f0" stroke-width="0.5"/>
<polygon points="265.25,111.84 266.62,109.46 263.88,109.46" fill="#0000f0" stroke="#0000f0" stroke-width="0.5"/>
<polygon points="266.5,111.84 267.88,109.46 265.12,109.46" fill="#0000f0" stroke="#0000f0" stroke-width="0.5"/>
<polygon points="267.75,111.84 269.12,109.46 266.38,109.46" fill="#0000f0" stroke="#0000f0" stroke-width="0.5"/>
<polygon points="269,111.84 270.38,109.46 267.62,109.46" fill="#0000f0" stroke="#0000f0" stroke-width="0.5"/>
<polygon points="270.25,111.84 271.62,109.46 268.88,109.46" fill="#0000f0" stroke="#0000f0" stroke-width="0.5"/>
<polygon points="271.5,111.84 272.88,109.46 270.12,109.46" fill="#0000f0" stroke="#0000f0" stroke-width="0.5"/>
<polygon points="272.75,111.84 274.12,109.46 271.38,109.46" fill="#0000f0" stroke="#0000f0" stroke-width="0.5"/>
<polygon points="274,111.84 275.38,109.46 272.62,109.46" fill="#0000f0" stroke="#0000f0" stroke-width="0.5"/>
<polygon points="275.25,111.84 276.62,109.46 273.88,109.46" fill="#0000f0" stroke="#0000f0" stroke-width="0.5"/>
<polygon points="276.5,111.84 277.88,109.46 275.12,109.46" fill="#0000f0" stroke="#0000f0" stroke-width="0.5"/>
<polygon points="277.75,111.84 279.12,109.46 276.38,109.46" fill="#0000f0" stroke="#0000f0" stroke-width="0.5"/>
<polygon points="279,111.84 280.38,109.46 277.62,109.46" fill="#0000f0" stroke="#0000f0" stroke-width="0.5"/>
<polygon points="280.25,111.84 281.62,109.46 278.88,109.46" fill="#0000f0" stroke="#0000f0" stroke-width="0.5"/>
<polygon points="281.5,111.84 282.88,109.46 280.12,109.46" fill="#0000f0" stroke="#0000f0" stroke-width="0.5"/>
<polygon points="282.75,111.84 284.12,109.46 281.38,109.46" fill="#0000f0" stroke="#0000f0" stroke-width="0.5"/>
<polygon points="284,111.84 285.38,109.46 282.62,109.46" fill="#0000f0" stroke="#0000f0" stroke-width="0.5"/>
<polygon points="285.25,111.84 286.62,109.46 283.88,109.46" fill="#0000f0" stroke="#0000f0" stroke-width="0.5"/>
<polygon points="286.5,111.84 287.88,109.46 285.12,109.46" fill="#0000f0" stroke="#0000f0" stroke-width="0.5"/>
<polygon points="287.75,111.84 289.12,109.46 286.38,109.46" fill="#0000f0" stroke="#0000f0" stroke-width="0.5"/>
<polygon points="289,111.84 290.38,109.46 287.62,109.46" fill="#0000f0" stroke="#0000f0" stroke-width="0.5"/>
<polygon points="290.25,111.84 291.62,109.46 288.88,109.46" fill="#0000f0" stroke="#0000f0" stroke-width="0.5"/>
<polygon points="291.5,111.84 292.88,109.46 290.12,109.46" fill="#0000f0" stroke="#0000f0" stroke-width="0.5"/>
<polygon points="292.75,111.84 294.12,109.46 291.38,109.46" fill="#0000f0" stroke="#0000f0" stroke-width="0.5"/>
<polygon points="294,111.84 295.38,109.46 292.62,109.46" fill="#0000f0" stroke="#0000f0" stroke-width="0.5"/>
<polygon points="295.25,111.84 296.62,109.46 293.88,109.46" fill="#0000f0" stroke="#0000f0" stroke-width="0.5"/>
<polygon points="296.5,111.84 297.88,109.46 295.12,109.46" fill="#0000f0" stroke="#0000f0" stroke-width="0.5"/>
<polygon points="297.75,111.84 299.12,109.46 296.38,109.46" fill="#0000f0" stroke="#0000f0" stroke-width="0.5"/>
<polygon points="299,111.84 300.38,109.46 297.62,109.46" fill="#0000f0" stroke="#0000f0" stroke-width="0.5"/>
<polygon points="300.25,111.84 301.62,109.46 298.88,109.46" fill="#0000f0" stroke="#0000f0" stroke-width="0.5"/>
<polygon points="301.5,111.84 302.88,109.46 300.12,109.46" fill="#0000f0" stroke="#0000f0" stroke-width="0.5"/>
<polygon points="302.75,111.8 304.12,109.42 301.38,109.42" fill="#0000f0" stroke="#0000f0" stroke-width="0.5"/>
<polygon points="304,111.59 305.38,109.22 302.62,109.22" fill="#0000f0" stroke="#0000f0" stroke-width="0.5"/>
<polygon points="305.25,111.27 306.62,108.9 303.88,108.9" fill="#0000f0" stroke="#0000f0" stroke-width="0.5"/>
<polygon points="306.5,110.71 307.88,108.33 305.12,108.33" fill="#0000f0" stroke="#0000f0" stroke-width="0.5"/>
<polygon points="307.75,104.6 309.12,102.22 306.38,102.22" fill="#0000f0" stroke="#0000f0" stroke-width="0.5"/>
<polygon points="309,99.17 310.38,96.8 307.62,96.8" fill="#0000f0" stroke="#0000f0" stroke-width="0.5"/>
<polygon points="310.25,94.18 311.62,91.81 308.88,91.81" fill="#0000f0" stroke="#0000f0" stroke-width="0.5"/>
<polygon points="311.5,81.65 312.88,79.27 310.12,79.27" fill="#0000f0" stroke="#0000f0" stroke-width="0.5"/>
<polygon points="312.75,59.97 314.12,57.59 311.38,57.59" fill="#0000f0" stroke="#0000f0" stroke-width="0.5"/>
<polygon points="314,45.63 315.38,43.26 312.62,43.26" fill="#0000f0" stroke="#0000f0" stroke-width="0.5"/>
<polygon points="315.25,28.96 316.62,26.59 313.88,26.59" fill="#0000f0" stroke="#0000f0" stroke-width="0.5"/>
<polygon points="316.5,23.42 317.88,21.05 315.12,21.05" fill="#0000f0" stroke="#0000f0" stroke-width="0.5"/>
<polygon points="317.75,21.87 319.12,19.49 316.38,19.49" fill="#0000f0" stroke="#0000f0" stroke-width="0.5"/>
<polygon points="319,21.18 320.38,18.8 317.62,18.8" fill="#0000f0" stroke="#0000f0" stroke-width="0.5"/>
<polygon points="320.25,20.74 321.62,18.37 318.88,18.37" fill="#0000f0" stroke="#0000f0" stroke-width="0.5"/>
<polygon points="321.5,20.45 322.88,18.07 320.12,18.07" fill="#0000f0" stroke="#0000f0" stroke-width="0.5"/>
<polygon points="322.75,20.25 324.12,17.87 321.38,17.87" fill="#0000f0" stroke="#0000f0" stroke-width="0.5"/>
<polygon points="324,20.07 325.38,17.69 322.62,17.69" fill="#0000f0" stroke="#0000f0" stroke-width="0.5"/>
<polygon points="325.25,19.94 326.62,17.56 323.88,17.56" fill="#0000f0" stroke="#0000f0" stroke-width="0.5"/>
<polygon points="326.5,19.81 327.88,17.44 325.12,17.44" fill="#0000f0" stroke="#0000f0" stroke-width="0.5"/>
<polygon points="327.75,19.72 329.12,17.34 326.38,17.34" fill="#0000f0" stroke="#0000f0" stroke-width="0.5"/>
<polygon points="329,19.62 330.38,17.24 327.62,17.24" fill="#0000f0" stroke="#0000f0" stroke-width="0.5"/>
<polygon points="330.25,19.55 331.62,17.17 328.88,17.17" fill="#0000f0" stroke="#0000f0" stroke-width="0.5"/>
<polygon points="331.5,19.47 332.88,17.1 330.12,17.1" fill="#0000f0" stroke="#0000f0" stroke-width="0.5"/>
<polygon points="332.75,19.41 334.12,17.03 331.38,17.03" fill="#0000f0" stroke="#0000f0" stroke-width="0.5"/>
<polygon points="334,19.35 335.38,16.97 332.62,16.97" fill="#0000f0" stroke="#0000f0" stroke-width="0.5"/>
<polygon points="335.25,19.29 336.62,16.92 333.88,16.92" fill="#0000f0" stroke="#0000f0" stroke-width="0.5"/>
<polygon points="336.5,19.24 337.88,16.86 335.12,16.86" fill="#0000f0" stroke="#0000f0" stroke-width="0.5"/>
<polygon points="337.75,19.19 339.12,16.81 336.38,16.81" fill="#0000f0" stroke="#0000f0" stroke-width="0.5"/>
<polygon points="339,19.14 340.38,16.76 337.62,16.76" fill="#0000f0" stroke="#0000f0" stroke-width="0.5"/>
<polygon points="340.25,19.08 341.62,16.71 338.88,16.71" fill="#0000f0" stroke="#0000f0" stroke-width="0.5"/>
<polygon points="341.5,19.03 342.88,16.65 340.12,16.65" fill="#0000f0" stroke="#0000f0" stroke-width="0.5"/>
<polygon points="342.75,18.95 344.12,16.58 341.38,16.58" fill="#0000f0" stroke="#0000f0" stroke-width="0.5"/>
<polygon points="307,106.61 308.54,103.95 305.46,103.95" fill="#0000f0" stroke="#0000f0" stroke-width="0.5"/>
<polygon points="308.7,100.51 310.24,97.85 307.16,97.85" fill="#0000f0" stroke="#0000f0" stroke-width="0.5"/>
<polygon points="310.8,91.11 312.34,88.45 309.26,88.45" fill="#0000f0" stroke="#0000f0" stroke-width="0.5"/>
<polygon points="311.8,76.51 313.34,73.85 310.26,73.85" fill="#0000f0" stroke="#0000f0" stroke-width="0.5"/>
<polygon points="313,56.61 314.54,53.95 311.46,53.95" fill="#0000f0" stroke="#0000f0" stroke-width="0.5"/>
<polygon points="314.8,37.71 316.34,35.05 313.26,35.05" fill="#0000f0" stroke="#0000f0" stroke-width="0.5"/>
<polygon points="315.6,27.61 317.14,24.95 314.06,24.95" fill="#0000f0" stroke="#0000f0" stroke-width="0.5"/>
<polygon points="315.07,30.86 316.5,28.39 313.64,28.39" fill="#0000f0" stroke="#0000f0" stroke-width="0.5"/>
<polygon points="315.18,29.57 316.61,27.1 313.75,27.1" fill="#0000f0" stroke="#0000f0" stroke-width="0.5"/>
<polygon points="315.39,28.29 316.82,25.82 313.96,25.82" fill="#0000f0" stroke="#0000f0" stroke-width="0.5"/>
<polygon points="315.72,27.03 317.15,24.56 314.29,24.56" fill="#0000f0" stroke="#0000f0" stroke-width="0.5"/>
<polygon points="315.97,25.75 317.4,23.28 314.54,23.28" fill="#0000f0" stroke="#0000f0" stroke-width="0.5"/>
<polygon points="316.19,24.47 317.62,22 314.76,22" fill="#0000f0" stroke="#0000f0" stroke-width="0.5"/>
<polygon points="316.61,23.25 318.04,20.78 315.18,20.78" fill="#0000f0" stroke="#0000f0" stroke-width="0.5"/>
<polygon points="317.39,22.23 318.82,19.76 315.96,19.76" fill="#0000f0" stroke="#0000f0" stroke-width="0.5"/>
<polygon points="318.46,21.5 319.89,19.03 317.03,19.03" fill="#0000f0" stroke="#0000f0" stroke-width="0.5"/>
<polygon points="319.65,20.99 321.08,18.52 318.22,18.52" fill="#0000f0" stroke="#0000f0" stroke-width="0.5"/>
<polyline points="261.5,110.4 263.65,110.4 266.58,110.4 270.1,110.4 274.02,110.4 278.16,110.4 282.32,110.4 286.32,110.4 289.98,110.4 293.1,110.4 295.5,110.4 297.22,109.85 298.49,109.13 299.38,108.28 299.96,107.32 300.3,106.29 300.48,105.23 300.56,104.15 300.63,103.1 300.75,102.11 301,101.2 301.29,100.38 301.51,99.61 301.66,98.88 301.77,98.16 301.84,97.45 301.89,96.72 301.94,95.96 302,95.15 302.08,94.27 302.2,93.3 302.35,92.26 302.51,91.17 302.68,90.03 302.86,88.85 303.04,87.62 303.22,86.36 303.4,85.05 303.57,83.7 303.74,82.32 303.9,80.9 304.05,79.44 304.2,77.93 304.34,76.38 304.48,74.8 304.62,73.17 304.75,71.51 304.89,69.82 305.02,68.1 305.16,66.36 305.3,64.6 305.44,62.78 305.59,60.89 305.74,58.94 305.89,56.96 306.04,54.96 306.19,52.97 306.33,51.01 306.46,49.1 306.59,47.25 306.7,45.5 306.8,43.8 306.88,42.09 306.95,40.41 307.02,38.77 307.07,37.18 307.13,35.65 307.19,34.22 307.25,32.89 307.32,31.67 307.4,30.6 307.47,29.7 307.52,28.96 307.56,28.36 307.61,27.88 307.66,27.47 307.73,27.1 307.83,26.76 307.96,26.39 308.15,25.98 308.4,25.5 308.6,24.95 308.68,24.37 308.72,23.76 308.76,23.15 308.89,22.55 309.16,21.95 309.64,21.38 310.4,20.85 311.5,20.36 313,19.93 315.11,19.55 317.85,19.2 321.08,18.89 324.61,18.61 328.29,18.37 331.94,18.15 335.4,17.95 338.51,17.78 341.1,17.63 343,17.5" fill="none" stroke="#f08000" stroke-width="0.75" stroke-linejoin="round" stroke-dasharray="0.8,0.8"/>
<polygon points="261.5,108.78 263.12,110.4 261.5,112.03 259.88,110.4" fill="#f08000" stroke="#f08000" stroke-width="0.5"/>
<polygon points="262.75,108.78 264.38,110.4 262.75,112.03 261.12,110.4" fill="#f08000" stroke="#f08000" stroke-width="0.5"/>
<polygon points="264,108.78 265.62,110.4 264,112.03 262.38,110.4" fill="#f08000" stroke="#f08000" stroke-width="0.5"/>
<polygon points="265.25,108.78 266.88,110.4 265.25,112.03 263.62,110.4" fill="#f08000" stroke="#f08000" stroke-width="0.5"/>
<polygon points="266.5,108.78 268.12,110.4 266.5,112.03 264.88,110.4" fill="#f08000" stroke="#f08000" stroke-width="0.5"/>
<polygon points="267.75,108.78 269.38,110.4 267.75,112.03 266.12,110.4" fill="#f08000" stroke="#f08000" stroke-width="0.5"/>
<polygon points="269,108.78 270.62,110.4 269,112.03 267.38,110.4" fill="#f08000" stroke="#f08000" stroke-width="0.5"/>
<polygon points="270.25,108.78 271.88,110.4 270.25,112.03 268.62,110.4" fill="#f08000" stroke="#f08000" stroke-width="0.5"/>
<polygon points="271.5,108.78 273.12,110.4 271.5,112.03 269.88,110.4" fill="#f08000" stroke="#f08000" stroke-width="0.5"/>
<polygon points="272.75,108.78 274.38,110.4 272.75,112.03 271.12,110.4" fill="#f08000" stroke="#f08000" stroke-width="0.5"/>
<polygon points="274,108.78 275.62,110.4 274,112.03 272.38,110.4" fill="#f08000" stroke="#f08000" stroke-width="0.5"/>
<polygon points="275.25,108.78 276.88,110.4 275.25,112.03 273.62,110.4" fill="#f08000" stroke="#f08000" stroke-width="0.5"/>
<polygon points="276.5,108.78 278.12,110.4 276.5,112.03 274.88,110.4" fill="#f08000" stroke="#f08000" stroke-width="0.5"/>
<polygon points="277.75,108.78 279.38,110.4 277.75,112.03 276.12,110.4" fill="#f08000" stroke="#f08000" stroke-width="0.5"/>
<polygon points="279,108.78 280.62,110.4 279,112.03 277.38,110.4" fill="#f08000" stroke="#f08000" stroke-width="0.5"/>
<polygon points="280.25,108.78 281.88,110.4 280.25,112.03 278.62,110.4" fill="#f08000" stroke="#f08000" stroke-width="0.5"/>
<polygon points="281.5,108.78 283.12,110.4 281.5,112.03 279.88,110.4" fill="#f08000" stroke="#f08000" stroke-width="0.5"/>
<polygon points="282.75,108.78 284.38,110.4 282.75,112.03 281.12,110.4" fill="#f08000" stroke="#f08000" stroke-width="0.5"/>
<polygon points="284,108.78 285.62,110.4 284,112.03 282.38,110.4" fill="#f08000" stroke="#f08000" stroke-width="0.5"/>
<polygon points="285.25,108.78 286.88,110.4 285.25,112.03 283.62,110.4" fill="#f08000" stroke="#f08000" stroke-width="0.5"/>
<polygon points="286.5,108.78 288.12,110.4 286.5,112.03 284.88,110.4" fill="#f08000" stroke="#f08000" stroke-width="0.5"/>
<polygon points="287.75,108.78 289.38,110.4 287.75,112.03 286.12,110.4" fill="#f08000" stroke="#f08000" stroke-width="0.5"/>
<polygon points="289,108.78 290.62,110.4 289,112.03 287.38,110.4" fill="#f08000" stroke="#f08000" stroke-width="0.5"/>
<polygon points="290.25,108.78 291.88,110.4 290.25,112.03 288.62,110.4" fill="#f08000" stroke="#f08000" stroke-width="0.5"/>
<polygon points="291.5,108.78 293.12,110.4 291.5,112.03 289.88,110.4" fill="#f08000" stroke="#f08000" stroke-width="0.5"/>
<polygon points="292.75,108.78 294.38,110.4 292.75,112.03 291.12,110.4" fill="#f08000" stroke="#f08000" stroke-width="0.5"/>
<polygon points="294,108.78 295.62,110.4 294,112.03 292.38,110.4" fill="#f08000" stroke="#f08000" stroke-width="0.5"/>
<polygon points="295.25,108.78 296.88,110.4 295.25,112.03 293.62,110.4" fill="#f08000" stroke="#f08000" stroke-width="0.5"/>
<polygon points="296.5,108.45 298.12,110.08 296.5,111.7 294.88,110.08" fill="#f08000" stroke="#f08000" stroke-width="0.5"/>
<polygon points="297.75,107.92 299.38,109.55 297.75,111.17 296.12,109.55" fill="#f08000" stroke="#f08000" stroke-width="0.5"/>
<polygon points="299,107.02 300.62,108.64 299,110.27 297.38,108.64" fill="#f08000" stroke="#f08000" stroke-width="0.5"/>
<polygon points="300.25,104.82 301.88,106.44 300.25,108.07 298.62,106.44" fill="#f08000" stroke="#f08000" stroke-width="0.5"/>
<polygon points="301.5,98.01 303.12,99.63 301.5,101.26 299.88,99.63" fill="#f08000" stroke="#f08000" stroke-width="0.5"/>
<polygon points="302.75,87.96 304.38,89.58 302.75,91.21 301.12,89.58" fill="#f08000" stroke="#f08000" stroke-width="0.5"/>
<polygon points="304,78.32 305.62,79.94 304,81.57 302.38,79.94" fill="#f08000" stroke="#f08000" stroke-width="0.5"/>
<polygon points="305.25,63.61 306.88,65.24 305.25,66.86 303.62,65.24" fill="#f08000" stroke="#f08000" stroke-width="0.5"/>
<polygon points="306.5,46.95 308.12,48.57 306.5,50.2 304.88,48.57" fill="#f08000" stroke="#f08000" stroke-width="0.5"/>
<polygon points="307.75,25.4 309.38,27.02 307.75,28.65 306.12,27.02" fill="#f08000" stroke="#f08000" stroke-width="0.5"/>
<polygon points="309,20.68 310.62,22.3 309,23.93 307.38,22.3" fill="#f08000" stroke="#f08000" stroke-width="0.5"/>
<polygon points="310.25,19.33 311.88,20.95 310.25,22.58 308.62,20.95" fill="#f08000" stroke="#f08000" stroke-width="0.5"/>
<polygon points="311.5,18.73 313.12,20.36 311.5,21.98 309.88,20.36" fill="#f08000" stroke="#f08000" stroke-width="0.5"/>
<polygon points="312.75,18.38 314.38,20 312.75,21.63 311.12,20" fill="#f08000" stroke="#f08000" stroke-width="0.5"/>
<polygon points="314,18.12 315.62,19.75 314,21.37 312.38,19.75" fill="#f08000" stroke="#f08000" stroke-width="0.5"/>
<polygon points="315.25,17.91 316.88,19.53 315.25,21.16 313.62,19.53" fill="#f08000" stroke="#f08000" stroke-width="0.5"/>
<polygon points="316.5,17.75 318.12,19.37 316.5,21 314.88,19.37" fill="#f08000" stroke="#f08000" stroke-width="0.5"/>
<polygon points="317.75,17.59 319.38,19.22 317.75,20.84 316.12,19.22" fill="#f08000" stroke="#f08000" stroke-width="0.5"/>
<polygon points="319,17.47 320.62,19.09 319,20.72 317.38,19.09" fill="#f08000" stroke="#f08000" stroke-width="0.5"/>
<polygon points="320.25,17.35 321.88,18.97 320.25,20.6 318.62,18.97" fill="#f08000" stroke="#f08000" stroke-width="0.5"/>
<polygon points="321.5,17.23 323.12,18.86 321.5,20.48 319.88,18.86" fill="#f08000" stroke="#f08000" stroke-width="0.5"/>
<polygon points="322.75,17.14 324.38,18.76 322.75,20.39 321.12,18.76" fill="#f08000" stroke="#f08000" stroke-width="0.5"/>
<polygon points="324,17.04 325.62,18.66 324,20.29 322.38,18.66" fill="#f08000" stroke="#f08000" stroke-width="0.5"/>
<polygon points="325.25,16.95 326.88,18.57 325.25,20.2 323.62,18.57" fill="#f08000" stroke="#f08000" stroke-width="0.5"/>
<polygon points="326.5,16.86 328.12,18.49 326.5,20.11 324.88,18.49" fill="#f08000" stroke="#f08000" stroke-width="0.5"/>
<polygon points="327.75,16.78 329.38,18.4 327.75,20.03 326.12,18.4" fill="#f08000" stroke="#f08000" stroke-width="0.5"/>
<polygon points="329,16.7 330.62,18.32 329,19.95 327.38,18.32" fill="#f08000" stroke="#f08000" stroke-width="0.5"/>
<polygon points="330.25,16.62 331.88,18.25 330.25,19.87 328.62,18.25" fill="#f08000" stroke="#f08000" stroke-width="0.5"/>
<polygon points="331.5,16.55 333.12,18.17 331.5,19.8 329.88,18.17" fill="#f08000" stroke="#f08000" stroke-width="0.5"/>
<polygon points="332.75,16.48 334.38,18.1 332.75,19.73 331.12,18.1" fill="#f08000" stroke="#f08000" stroke-width="0.5"/>
<polygon points="334,16.41 335.62,18.03 334,19.66 332.38,18.03" fill="#f08000" stroke="#f08000" stroke-width="0.5"/>
<polygon points="335.25,16.34 336.88,17.96 335.25,19.59 333.62,17.96" fill="#f08000" stroke="#f08000" stroke-width="0.5"/>
<polygon points="336.5,16.27 338.12,17.89 336.5,19.52 334.88,17.89" fill="#f08000" stroke="#f08000" stroke-width="0.5"/>
<polygon points="337.75,16.2 339.38,17.82 337.75,19.45 336.12,17.82" fill="#f08000" stroke="#f08000" stroke-width="0.5"/>
<polygon points="339,16.13 340.62,17.75 339,19.38 337.38,17.75" fill="#f08000" stroke="#f08000" stroke-width="0.5"/>
<polygon points="340.25,16.05 341.88,17.68 340.25,19.3 338.62,17.68" fill="#f08000" stroke="#f08000" stroke-width="0.5"/>
<polygon points="341.5,15.98 343.12,17.6 341.5,19.23 339.88,17.6" fill="#f08000" stroke="#f08000" stroke-width="0.5"/>
<polygon points="342.75,15.89 344.38,17.52 342.75,19.14 341.12,17.52" fill="#f08000" stroke="#f08000" stroke-width="0.5"/>
<polygon points="301,99.38 302.82,101.2 301,103.02 299.18,101.2" fill="#f08000" stroke="#f08000" stroke-width="0.5"/>
<polygon points="302.2,91.48 304.02,93.3 302.2,95.12 300.38,93.3" fill="#f08000" stroke="#f08000" stroke-width="0.5"/>
<polygon points="303.9,79.08 305.72,80.9 303.9,82.72 302.08,80.9" fill="#f08000" stroke="#f08000" stroke-width="0.5"/>
<polygon points="305.3,62.78 307.12,64.6 305.3,66.42 303.48,64.6" fill="#f08000" stroke="#f08000" stroke-width="0.5"/>
<polygon points="306.7,43.68 308.52,45.5 306.7,47.32 304.88,45.5" fill="#f08000" stroke="#f08000" stroke-width="0.5"/>
<polygon points="307.4,28.78 309.22,30.6 307.4,32.42 305.58,30.6" fill="#f08000" stroke="#f08000" stroke-width="0.5"/>
<polygon points="308.4,23.68 310.22,25.5 308.4,27.32 306.58,25.5" fill="#f08000" stroke="#f08000" stroke-width="0.5"/>
<polygon points="307.47,28.01 309.16,29.7 307.47,31.39 305.78,29.7" fill="#f08000" stroke="#f08000" stroke-width="0.5"/>
<polygon points="307.56,26.71 309.25,28.4 307.56,30.09 305.87,28.4" fill="#f08000" stroke="#f08000" stroke-width="0.5"/>
<polygon points="307.73,25.42 309.42,27.11 307.73,28.8 306.04,27.11" fill="#f08000" stroke="#f08000" stroke-width="0.5"/>
<polygon points="308.2,24.21 309.89,25.9 308.2,27.59 306.51,25.9" fill="#f08000" stroke="#f08000" stroke-width="0.5"/>
<polygon points="308.64,23 310.33,24.69 308.64,26.38 306.95,24.69" fill="#f08000" stroke="#f08000" stroke-width="0.5"/>
<polygon points="308.74,21.7 310.43,23.39 308.74,25.08 307.05,23.39" fill="#f08000" stroke="#f08000" stroke-width="0.5"/>
<polygon points="309.07,20.46 310.76,22.15 309.07,23.84 307.38,22.15" fill="#f08000" stroke="#f08000" stroke-width="0.5"/>
<polygon points="309.92,19.5 311.61,21.19 309.92,22.88 308.23,21.19" fill="#f08000" stroke="#f08000" stroke-width="0.5"/>
<polygon points="311.05,18.87 312.74,20.56 311.05,22.25 309.36,20.56" fill="#f08000" stroke="#f08000" stroke-width="0.5"/>
<polygon points="312.28,18.45 313.97,20.14 312.28,21.83 310.59,20.14" fill="#f08000" stroke="#f08000" stroke-width="0.5"/>
<polyline points="261.5,110.4 263.08,110.4 265.21,110.4 267.78,110.4 270.64,110.4 273.66,110.4 276.7,110.4 279.65,110.4 282.35,110.4 284.68,110.4 286.5,110.4 287.85,109.96 288.9,109.43 289.68,108.82 290.25,108.14 290.66,107.37 290.95,106.52 291.18,105.6 291.4,104.61 291.66,103.54 292,102.4 292.38,101.14 292.71,99.74 293.01,98.23 293.28,96.63 293.52,94.98 293.74,93.29 293.94,91.62 294.13,89.97 294.32,88.39 294.5,86.9 294.67,85.5 294.82,84.17 294.95,82.88 295.06,81.62 295.17,80.38 295.27,79.12 295.37,77.84 295.47,76.53 295.58,75.15 295.7,73.7 295.83,72.17 295.98,70.58 296.12,68.94 296.27,67.27 296.42,65.56 296.57,63.84 296.71,62.11 296.85,60.39 296.98,58.68 297.1,57 297.21,55.31 297.32,53.56 297.43,51.8 297.52,50.03 297.62,48.27 297.71,46.55 297.79,44.88 297.87,43.28 297.94,41.78 298,40.4 298.05,39.12 298.08,37.93 298.09,36.81 298.1,35.76 298.1,34.78 298.11,33.86 298.13,32.98 298.16,32.15 298.22,31.36 298.3,30.6 298.4,29.9 298.5,29.28 298.6,28.72 298.72,28.21 298.86,27.75 299.02,27.3 299.2,26.87 299.43,26.43 299.69,25.98 300,25.5 300.22,24.99 300.26,24.47 300.22,23.95 300.18,23.43 300.23,22.91 300.47,22.41 300.97,21.91 301.84,21.44 303.15,20.99 305,20.58 307.63,20.18 311.1,19.79 315.17,19.42 319.65,19.07 324.31,18.73 328.95,18.42 333.35,18.14 337.3,17.89 340.59,17.67 343,17.5" fill="none" stroke="#a000a0" stroke-width="0.75" stroke-linejoin="round" stroke-dasharray="0.8,0.8"/>
<polygon points="260.06,110.4 262.44,109.03 262.44,111.78" fill="#a000a0" stroke="#a000a0" stroke-width="0.5"/>
<polygon points="261.31,110.4 263.69,109.03 263.69,111.78" fill="#a000a0" stroke="#a000a0" stroke-width="0.5"/>
<polygon points="262.56,110.4 264.94,109.03 264.94,111.78" fill="#a000a0" stroke="#a000a0" stroke-width="0.5"/>
<polygon points="263.81,110.4 266.19,109.03 266.19,111.78" fill="#a000a0" stroke="#a000a0" stroke-width="0.5"/>
<polygon points="265.06,110.4 267.44,109.03 267.44,111.78" fill="#a000a0" stroke="#a000a0" stroke-width="0.5"/>
<polygon points="266.31,110.4 268.69,109.03 268.69,111.78" fill="#a000a0" stroke="#a000a0" stroke-width="0.5"/>
<polygon points="267.56,110.4 269.94,109.03 269.94,111.78" fill="#a000a0" stroke="#a000a0" stroke-width="0.5"/>
<polygon points="268.81,110.4 271.19,109.03 271.19,111.78" fill="#a000a0" stroke="#a000a0" stroke-width="0.5"/>
<polygon points="270.06,110.4 272.44,109.03 272.44,111.78" fill="#a000a0" stroke="#a000a0" stroke-width="0.5"/>
<polygon points="271.31,110.4 273.69,109.03 273.69,111.78" fill="#a000a0" stroke="#a000a0" stroke-width="0.5"/>
<polygon points="272.56,110.4 274.94,109.03 274.94,111.78" fill="#a000a0" stroke="#a000a0" stroke-width="0.5"/>
<polygon points="273.81,110.4 276.19,109.03 276.19,111.78" fill="#a000a0" stroke="#a000a0" stroke-width="0.5"/>
<polygon points="275.06,110.4 277.44,109.03 277.44,111.78" fill="#a000a0" stroke="#a000a0" stroke-width="0.5"/>
<polygon points="276.31,110.4 278.69,109.03 278.69,111.78" fill="#a000a0" stroke="#a000a0" stroke-width="0.5"/>
<polygon points="277.56,110.4 279.94,109.03 279.94,111.78" fill="#a000a0" stroke="#a000a0" stroke-width="0.5"/>
<polygon points="278.81,110.4 281.19,109.03 281.19,111.78" fill="#a000a0" stroke="#a000a0" stroke-width="0.5"/>
<polygon points="280.06,110.4 282.44,109.03 282.44,111.78" fill="#a000a0" stroke="#a000a0" stroke-width="0.5"/>
<polygon points="281.31,110.4 283.69,109.03 283.69,111.78" fill="#a000a0" stroke="#a000a0" stroke-width="0.5"/>
<polygon points="282.56,110.4 284.94,109.03 284.94,111.78" fill="#a000a0" stroke="#a000a0" stroke-width="0.5"/>
<polygon points="283.81,110.4 286.19,109.03 286.19,111.78" fill="#a000a0" stroke="#a000a0" stroke-width="0.5"/>
<polygon points="285.06,110.4 287.44,109.03 287.44,111.78" fill="#a000a0" stroke="#a000a0" stroke-width="0.5"/>
<polygon points="286.31,109.99 288.69,108.62 288.69,111.37" fill="#a000a0" stroke="#a000a0" stroke-width="0.5"/>
<polygon points="287.56,109.35 289.94,107.98 289.94,110.73" fill="#a000a0" stroke="#a000a0" stroke-width="0.5"/>
<polygon points="288.81,108.13 291.19,106.76 291.19,109.51" fill="#a000a0" stroke="#a000a0" stroke-width="0.5"/>
<polygon points="290.06,104.21 292.44,102.83 292.44,105.58" fill="#a000a0" stroke="#a000a0" stroke-width="0.5"/>
<polygon points="291.31,99.55 293.69,98.18 293.69,100.93" fill="#a000a0" stroke="#a000a0" stroke-width="0.5"/>
<polygon points="292.56,91.1 294.94,89.73 294.94,92.48" fill="#a000a0" stroke="#a000a0" stroke-width="0.5"/>
<polygon points="293.81,79.35 296.19,77.97 296.19,80.72" fill="#a000a0" stroke="#a000a0" stroke-width="0.5"/>
<polygon points="295.06,64.62 297.44,63.24 297.44,65.99" fill="#a000a0" stroke="#a000a0" stroke-width="0.5"/>
<polygon points="296.31,45.68 298.69,44.31 298.69,47.06" fill="#a000a0" stroke="#a000a0" stroke-width="0.5"/>
<polygon points="297.56,27.34 299.94,25.97 299.94,28.72" fill="#a000a0" stroke="#a000a0" stroke-width="0.5"/>
<polygon points="298.81,24.6 301.19,23.23 301.19,25.98" fill="#a000a0" stroke="#a000a0" stroke-width="0.5"/>
<polygon points="300.06,21.62 302.44,20.25 302.44,23" fill="#a000a0" stroke="#a000a0" stroke-width="0.5"/>
<polygon points="301.31,21.13 303.69,19.75 303.69,22.5" fill="#a000a0" stroke="#a000a0" stroke-width="0.5"/>
<polygon points="302.56,20.8 304.94,19.43 304.94,22.18" fill="#a000a0" stroke="#a000a0" stroke-width="0.5"/>
<polygon points="303.81,20.54 306.19,19.16 306.19,21.91" fill="#a000a0" stroke="#a000a0" stroke-width="0.5"/>
<polygon points="305.06,20.35 307.44,18.98 307.44,21.73" fill="#a000a0" stroke="#a000a0" stroke-width="0.5"/>
<polygon points="306.31,20.17 308.69,18.79 308.69,21.54" fill="#a000a0" stroke="#a000a0" stroke-width="0.5"/>
<polygon points="307.56,20.03 309.94,18.65 309.94,21.4" fill="#a000a0" stroke="#a000a0" stroke-width="0.5"/>
<polygon points="308.81,19.89 311.19,18.51 311.19,21.26" fill="#a000a0" stroke="#a000a0" stroke-width="0.5"/>
<polygon points="310.06,19.76 312.44,18.38 312.44,21.13" fill="#a000a0" stroke="#a000a0" stroke-width="0.5"/>
<polygon points="311.31,19.64 313.69,18.27 313.69,21.02" fill="#a000a0" stroke="#a000a0" stroke-width="0.5"/>
<polygon points="312.56,19.53 314.94,18.15 314.94,20.9" fill="#a000a0" stroke="#a000a0" stroke-width="0.5"/>
<polygon points="313.81,19.42 316.19,18.04 316.19,20.79" fill="#a000a0" stroke="#a000a0" stroke-width="0.5"/>
<polygon points="315.06,19.32 317.44,17.94 317.44,20.69" fill="#a000a0" stroke="#a000a0" stroke-width="0.5"/>
<polygon points="316.31,19.22 318.69,17.84 318.69,20.59" fill="#a000a0" stroke="#a000a0" stroke-width="0.5"/>
<polygon points="317.56,19.12 319.94,17.74 319.94,20.49" fill="#a000a0" stroke="#a000a0" stroke-width="0.5"/>
<polygon points="318.81,19.02 321.19,17.65 321.19,20.4" fill="#a000a0" stroke="#a000a0" stroke-width="0.5"/>
<polygon points="320.06,18.93 322.44,17.56 322.44,20.31" fill="#a000a0" stroke="#a000a0" stroke-width="0.5"/>
<polygon points="321.31,18.84 323.69,17.47 323.69,20.22" fill="#a000a0" stroke="#a000a0" stroke-width="0.5"/>
<polygon points="322.56,18.75 324.94,17.38 324.94,20.13" fill="#a000a0" stroke="#a000a0" stroke-width="0.5"/>
<polygon points="323.81,18.67 326.19,17.29 326.19,20.04" fill="#a000a0" stroke="#a000a0" stroke-width="0.5"/>
<polygon points="325.06,18.58 327.44,17.21 327.44,19.96" fill="#a000a0" stroke="#a000a0" stroke-width="0.5"/>
<polygon points="326.31,18.5 328.69,17.13 328.69,19.88" fill="#a000a0" stroke="#a000a0" stroke-width="0.5"/>
<polygon points="327.56,18.42 329.94,17.04 329.94,19.79" fill="#a000a0" stroke="#a000a0" stroke-width="0.5"/>
<polygon points="328.81,18.34 331.19,16.96 331.19,19.71" fill="#a000a0" stroke="#a000a0" stroke-width="0.5"/>
<polygon points="330.06,18.26 332.44,16.88 332.44,19.63" fill="#a000a0" stroke="#a000a0" stroke-width="0.5"/>
<polygon points="331.31,18.18 333.69,16.8 333.69,19.55" fill="#a000a0" stroke="#a000a0" stroke-width="0.5"/>
<polygon points="332.56,18.1 334.94,16.72 334.94,19.47" fill="#a000a0" stroke="#a000a0" stroke-width="0.5"/>
<polygon points="333.81,18.02 336.19,16.64 336.19,19.39" fill="#a000a0" stroke="#a000a0" stroke-width="0.5"/>
<polygon points="335.06,17.94 337.44,16.56 337.44,19.31" fill="#a000a0" stroke="#a000a0" stroke-width="0.5"/>
<polygon points="336.31,17.86 338.69,16.48 338.69,19.23" fill="#a000a0" stroke="#a000a0" stroke-width="0.5"/>
<polygon points="337.56,17.78 339.94,16.4 339.94,19.15" fill="#a000a0" stroke="#a000a0" stroke-width="0.5"/>
<polygon points="338.81,17.7 341.19,16.32 341.19,19.07" fill="#a000a0" stroke="#a000a0" stroke-width="0.5"/>
<polygon points="340.06,17.61 342.44,16.23 342.44,18.98" fill="#a000a0" stroke="#a000a0" stroke-width="0.5"/>
<polygon points="341.31,17.52 343.69,16.14 343.69,18.89" fill="#a000a0" stroke="#a000a0" stroke-width="0.5"/>
<polygon points="290.39,102.4 293.05,100.86 293.05,103.94" fill="#a000a0" stroke="#a000a0" stroke-width="0.5"/>
<polygon points="292.89,86.9 295.55,85.36 295.55,88.44" fill="#a000a0" stroke="#a000a0" stroke-width="0.5"/>
<polygon points="294.09,73.7 296.75,72.16 296.75,75.24" fill="#a000a0" stroke="#a000a0" stroke-width="0.5"/>
<polygon points="295.49,57 298.15,55.46 298.15,58.54" fill="#a000a0" stroke="#a000a0" stroke-width="0.5"/>
<polygon points="296.39,40.4 299.05,38.86 299.05,41.94" fill="#a000a0" stroke="#a000a0" stroke-width="0.5"/>
<polygon points="296.69,30.6 299.35,29.06 299.35,32.14" fill="#a000a0" stroke="#a000a0" stroke-width="0.5"/>
<polygon points="298.39,25.5 301.05,23.96 301.05,27.04" fill="#a000a0" stroke="#a000a0" stroke-width="0.5"/>
<polygon points="296.9,29.9 299.37,28.47 299.37,31.33" fill="#a000a0" stroke="#a000a0" stroke-width="0.5"/>
<polygon points="297.13,28.62 299.6,27.19 299.6,30.05" fill="#a000a0" stroke="#a000a0" stroke-width="0.5"/>
<polygon points="297.49,27.37 299.96,25.94 299.96,28.8" fill="#a000a0" stroke="#a000a0" stroke-width="0.5"/>
<polygon points="298.06,26.21 300.53,24.78 300.53,27.64" fill="#a000a0" stroke="#a000a0" stroke-width="0.5"/>
<polygon points="298.69,25.07 301.16,23.64 301.16,26.5" fill="#a000a0" stroke="#a000a0" stroke-width="0.5"/>
<polygon points="298.71,23.78 301.18,22.35 301.18,25.21" fill="#a000a0" stroke="#a000a0" stroke-width="0.5"/>
<polygon points="298.92,22.52 301.39,21.09 301.39,23.95" fill="#a000a0" stroke="#a000a0" stroke-width="0.5"/>
<polygon points="299.88,21.69 302.35,20.26 302.35,23.12" fill="#a000a0" stroke="#a000a0" stroke-width="0.5"/>
<polygon points="301.08,21.19 303.55,19.76 303.55,22.62" fill="#a000a0" stroke="#a000a0" stroke-width="0.5"/>
<polygon points="302.33,20.84 304.8,19.41 304.8,22.27" fill="#a000a0" stroke="#a000a0" stroke-width="0.5"/>
<polyline points="261.5,110.4 262.5,110.4 263.85,110.4 265.47,110.4 267.28,110.4 269.19,110.4 271.12,110.4 273,110.4 274.75,110.4 276.27,110.4 277.5,110.4 278.45,109.96 279.23,109.42 279.87,108.81 280.38,108.11 280.81,107.34 281.16,106.49 281.49,105.57 281.8,104.58 282.13,103.52 282.5,102.4 282.9,101.17 283.28,99.81 283.64,98.34 283.99,96.78 284.31,95.18 284.62,93.56 284.9,91.94 285.16,90.35 285.39,88.83 285.6,87.4 285.77,86.06 285.9,84.79 286,83.56 286.07,82.37 286.12,81.19 286.16,80 286.2,78.8 286.25,77.56 286.31,76.26 286.4,74.9 286.5,73.46 286.6,71.94 286.71,70.38 286.82,68.77 286.94,67.15 287.06,65.52 287.18,63.91 287.32,62.32 287.45,60.78 287.6,59.3 287.76,57.87 287.92,56.45 288.1,55.06 288.28,53.69 288.47,52.35 288.66,51.03 288.85,49.73 289.04,48.46 289.22,47.22 289.4,46 289.58,44.81 289.76,43.64 289.94,42.49 290.13,41.38 290.31,40.28 290.48,39.21 290.65,38.17 290.81,37.15 290.96,36.16 291.1,35.2 291.2,34.26 291.27,33.35 291.3,32.47 291.32,31.62 291.34,30.79 291.38,29.98 291.45,29.2 291.57,28.44 291.75,27.71 292,27 292.15,26.32 292.08,25.66 291.91,25.02 291.74,24.42 291.68,23.83 291.85,23.27 292.36,22.73 293.31,22.21 294.82,21.71 297,21.23 300.15,20.75 304.31,20.29 309.24,19.84 314.66,19.41 320.31,19 325.94,18.62 331.29,18.28 336.09,17.97 340.08,17.71 343,17.5" fill="none" stroke="#008000" stroke-width="0.75" stroke-linejoin="round" stroke-dasharray="0.8,0.8"/>
<polygon points="262.94,110.4 260.56,109.03 260.56,111.78" fill="#008000" stroke="#008000" stroke-width="0.5"/>
<polygon points="264.19,110.4 261.81,109.03 261.81,111.78" fill="#008000" stroke="#008000" stroke-width="0.5"/>
<polygon points="265.44,110.4 263.06,109.03 263.06,111.78" fill="#008000" stroke="#008000" stroke-width="0.5"/>
<polygon points="266.69,110.4 264.31,109.03 264.31,111.78" fill="#008000" stroke="#008000" stroke-width="0.5"/>
<polygon points="267.94,110.4 265.56,109.03 265.56,111.78" fill="#008000" stroke="#008000" stroke-width="0.5"/>
<polygon points="269.19,110.4 266.81,109.03 266.81,111.78" fill="#008000" stroke="#008000" stroke-width="0.5"/>
<polygon points="270.44,110.4 268.06,109.03 268.06,111.78" fill="#008000" stroke="#008000" stroke-width="0.5"/>
<polygon points="271.69,110.4 269.31,109.03 269.31,111.78" fill="#008000" stroke="#008000" stroke-width="0.5"/>
<polygon points="272.94,110.4 270.56,109.03 270.56,111.78" fill="#008000" stroke="#008000" stroke-width="0.5"/>
<polygon points="274.19,110.4 271.81,109.03 271.81,111.78" fill="#008000" stroke="#008000" stroke-width="0.5"/>
<polygon points="275.44,110.4 273.06,109.03 273.06,111.78" fill="#008000" stroke="#008000" stroke-width="0.5"/>
<polygon points="276.69,110.4 274.31,109.03 274.31,111.78" fill="#008000" stroke="#008000" stroke-width="0.5"/>
<polygon points="277.94,110.4 275.56,109.03 275.56,111.78" fill="#008000" stroke="#008000" stroke-width="0.5"/>
<polygon points="279.19,110.28 276.81,108.91 276.81,111.66" fill="#008000" stroke="#008000" stroke-width="0.5"/>
<polygon points="280.44,109.58 278.06,108.21 278.06,110.96" fill="#008000" stroke="#008000" stroke-width="0.5"/>
<polygon points="281.69,108.29 279.31,106.92 279.31,109.67" fill="#008000" stroke="#008000" stroke-width="0.5"/>
<polygon points="282.94,105.52 280.56,104.15 280.56,106.9" fill="#008000" stroke="#008000" stroke-width="0.5"/>
<polygon points="284.19,101.63 281.81,100.25 281.81,103" fill="#008000" stroke="#008000" stroke-width="0.5"/>
<polygon points="285.44,96.72 283.06,95.35 283.06,98.1" fill="#008000" stroke="#008000" stroke-width="0.5"/>
<polygon points="286.69,89.75 284.31,88.38 284.31,91.13" fill="#008000" stroke="#008000" stroke-width="0.5"/>
<polygon points="287.94,73.47 285.56,72.1 285.56,74.85" fill="#008000" stroke="#008000" stroke-width="0.5"/>
<polygon points="289.19,57.92 286.81,56.55 286.81,59.3" fill="#008000" stroke="#008000" stroke-width="0.5"/>
<polygon points="290.44,48.71 288.06,47.34 288.06,50.09" fill="#008000" stroke="#008000" stroke-width="0.5"/>
<polygon points="291.69,40.62 289.31,39.25 289.31,42" fill="#008000" stroke="#008000" stroke-width="0.5"/>
<polygon points="292.94,28.9 290.56,27.53 290.56,30.28" fill="#008000" stroke="#008000" stroke-width="0.5"/>
<polygon points="294.19,22.52 291.81,21.14 291.81,23.89" fill="#008000" stroke="#008000" stroke-width="0.5"/>
<polygon points="295.44,21.98 293.06,20.61 293.06,23.36" fill="#008000" stroke="#008000" stroke-width="0.5"/>
<polygon points="296.69,21.61 294.31,20.24 294.31,22.99" fill="#008000" stroke="#008000" stroke-width="0.5"/>
<polygon points="297.94,21.34 295.56,19.96 295.56,22.71" fill="#008000" stroke="#008000" stroke-width="0.5"/>
<polygon points="299.19,21.11 296.81,19.74 296.81,22.49" fill="#008000" stroke="#008000" stroke-width="0.5"/>
<polygon points="300.44,20.92 298.06,19.55 298.06,22.3" fill="#008000" stroke="#008000" stroke-width="0.5"/>
<polygon points="301.69,20.74 299.31,19.37 299.31,22.12" fill="#008000" stroke="#008000" stroke-width="0.5"/>
<polygon points="302.94,20.6 300.56,19.23 300.56,21.98" fill="#008000" stroke="#008000" stroke-width="0.5"/>
<polygon points="304.19,20.46 301.81,19.09 301.81,21.84" fill="#008000" stroke="#008000" stroke-width="0.5"/>
<polygon points="305.44,20.32 303.06,18.95 303.06,21.7" fill="#008000" stroke="#008000" stroke-width="0.5"/>
<polygon points="306.69,20.2 304.31,18.83 304.31,21.58" fill="#008000" stroke="#008000" stroke-width="0.5"/>
<polygon points="307.94,20.09 305.56,18.71 305.56,21.46" fill="#008000" stroke="#008000" stroke-width="0.5"/>
<polygon points="309.19,19.98 306.81,18.6 306.81,21.35" fill="#008000" stroke="#008000" stroke-width="0.5"/>
<polygon points="310.44,19.86 308.06,18.49 308.06,21.24" fill="#008000" stroke="#008000" stroke-width="0.5"/>
<polygon points="311.69,19.76 309.31,18.38 309.31,21.13" fill="#008000" stroke="#008000" stroke-width="0.5"/>
<polygon points="312.94,19.66 310.56,18.28 310.56,21.03" fill="#008000" stroke="#008000" stroke-width="0.5"/>
<polygon points="314.19,19.56 311.81,18.19 311.81,20.94" fill="#008000" stroke="#008000" stroke-width="0.5"/>
<polygon points="315.44,19.46 313.06,18.09 313.06,20.84" fill="#008000" stroke="#008000" stroke-width="0.5"/>
<polygon points="316.69,19.37 314.31,17.99 314.31,20.74" fill="#008000" stroke="#008000" stroke-width="0.5"/>
<polygon points="317.94,19.28 315.56,17.9 315.56,20.65" fill="#008000" stroke="#008000" stroke-width="0.5"/>
<polygon points="319.19,19.19 316.81,17.81 316.81,20.56" fill="#008000" stroke="#008000" stroke-width="0.5"/>
<polygon points="320.44,19.1 318.06,17.72 318.06,20.47" fill="#008000" stroke="#008000" stroke-width="0.5"/>
<polygon points="321.69,19.01 319.31,17.63 319.31,20.38" fill="#008000" stroke="#008000" stroke-width="0.5"/>
<polygon points="322.94,18.92 320.56,17.55 320.56,20.3" fill="#008000" stroke="#008000" stroke-width="0.5"/>
<polygon points="324.19,18.84 321.81,17.46 321.81,20.21" fill="#008000" stroke="#008000" stroke-width="0.5"/>
<polygon points="325.44,18.75 323.06,17.38 323.06,20.13" fill="#008000" stroke="#008000" stroke-width="0.5"/>
<polygon points="326.69,18.67 324.31,17.3 324.31,20.05" fill="#008000" stroke="#008000" stroke-width="0.5"/>
<polygon points="327.94,18.59 325.56,17.21 325.56,19.96" fill="#008000" stroke="#008000" stroke-width="0.5"/>
<polygon points="329.19,18.51 326.81,17.13 326.81,19.88" fill="#008000" stroke="#008000" stroke-width="0.5"/>
<polygon points="330.44,18.43 328.06,17.05 328.06,19.8" fill="#008000" stroke="#008000" stroke-width="0.5"/>
<polygon points="331.69,18.35 329.31,16.97 329.31,19.72" fill="#008000" stroke="#008000" stroke-width="0.5"/>
<polygon points="332.94,18.27 330.56,16.89 330.56,19.64" fill="#008000" stroke="#008000" stroke-width="0.5"/>
<polygon points="334.19,18.19 331.81,16.81 331.81,19.56" fill="#008000" stroke="#008000" stroke-width="0.5"/>
<polygon points="335.44,18.11 333.06,16.73 333.06,19.48" fill="#008000" stroke="#008000" stroke-width="0.5"/>
<polygon points="336.69,18.03 334.31,16.65 334.31,19.4" fill="#008000" stroke="#008000" stroke-width="0.5"/>
<polygon points="337.94,17.95 335.56,16.57 335.56,19.32" fill="#008000" stroke="#008000" stroke-width="0.5"/>
<polygon points="339.19,17.86 336.81,16.49 336.81,19.24" fill="#008000" stroke="#008000" stroke-width="0.5"/>
<polygon points="340.44,17.78 338.06,16.41 338.06,19.16" fill="#008000" stroke="#008000" stroke-width="0.5"/>
<polygon points="341.69,17.7 339.31,16.32 339.31,19.07" fill="#008000" stroke="#008000" stroke-width="0.5"/>
<polygon points="342.94,17.61 340.56,16.23 340.56,18.98" fill="#008000" stroke="#008000" stroke-width="0.5"/>
<polygon points="344.19,17.52 341.81,16.14 341.81,18.89" fill="#008000" stroke="#008000" stroke-width="0.5"/>
<polygon points="284.11,102.4 281.45,100.86 281.45,103.94" fill="#008000" stroke="#008000" stroke-width="0.5"/>
<polygon points="287.21,87.4 284.55,85.86 284.55,88.94" fill="#008000" stroke="#008000" stroke-width="0.5"/>
<polygon points="288.01,74.9 285.35,73.36 285.35,76.44" fill="#008000" stroke="#008000" stroke-width="0.5"/>
<polygon points="289.21,59.3 286.55,57.76 286.55,60.84" fill="#008000" stroke="#008000" stroke-width="0.5"/>
<polygon points="291.01,46 288.35,44.46 288.35,47.54" fill="#008000" stroke="#008000" stroke-width="0.5"/>
<polygon points="292.71,35.2 290.05,33.66 290.05,36.74" fill="#008000" stroke="#008000" stroke-width="0.5"/>
<polygon points="293.61,27 290.95,25.46 290.95,28.54" fill="#008000" stroke="#008000" stroke-width="0.5"/>
<polygon points="292.88,29.98 290.41,28.55 290.41,31.41" fill="#008000" stroke="#008000" stroke-width="0.5"/>
<polygon points="293.03,28.69 290.56,27.26 290.56,30.12" fill="#008000" stroke="#008000" stroke-width="0.5"/>
<polygon points="293.34,27.43 290.87,26 290.87,28.86" fill="#008000" stroke="#008000" stroke-width="0.5"/>
<polygon points="293.63,26.17 291.16,24.74 291.16,27.6" fill="#008000" stroke="#008000" stroke-width="0.5"/>
<polygon points="293.37,24.91 290.9,23.48 290.9,26.34" fill="#008000" stroke="#008000" stroke-width="0.5"/>
<polygon points="293.24,23.64 290.77,22.21 290.77,25.07" fill="#008000" stroke="#008000" stroke-width="0.5"/>
<polygon points="294.01,22.64 291.54,21.21 291.54,24.07" fill="#008000" stroke="#008000" stroke-width="0.5"/>
<polygon points="295.18,22.09 292.71,20.66 292.71,23.52" fill="#008000" stroke="#008000" stroke-width="0.5"/>
<polygon points="296.41,21.69 293.94,20.26 293.94,23.12" fill="#008000" stroke="#008000" stroke-width="0.5"/>
<polygon points="297.68,21.41 295.21,19.98 295.21,22.84" fill="#008000" stroke="#008000" stroke-width="0.5"/>
<polyline points="261.5,110.4 261.8,110.4 262.18,110.4 262.64,110.4 263.15,110.4 263.7,110.4 264.27,110.4 264.86,110.4 265.43,110.4 265.99,110.4 266.5,110.4 267,109.91 267.52,109.28 268.05,108.53 268.58,107.68 269.11,106.78 269.61,105.84 270.09,104.91 270.54,104 270.95,103.16 271.3,102.4 271.6,101.73 271.84,101.11 272.05,100.53 272.22,99.98 272.36,99.44 272.49,98.89 272.61,98.33 272.73,97.73 272.86,97.1 273,96.4 273.15,95.66 273.3,94.89 273.44,94.09 273.57,93.27 273.71,92.42 273.84,91.55 273.97,90.65 274.11,89.73 274.25,88.78 274.4,87.8 274.55,86.79 274.72,85.76 274.88,84.69 275.05,83.6 275.22,82.49 275.39,81.35 275.56,80.19 275.72,79.01 275.86,77.81 276,76.6 276.12,75.36 276.24,74.09 276.34,72.79 276.43,71.47 276.52,70.13 276.61,68.78 276.7,67.43 276.8,66.08 276.89,64.73 277,63.4 277.11,62.06 277.22,60.7 277.34,59.33 277.46,57.96 277.57,56.59 277.7,55.23 277.82,53.89 277.94,52.59 278.07,51.32 278.2,50.1 278.33,48.91 278.47,47.75 278.6,46.61 278.74,45.49 278.88,44.4 279.02,43.34 279.17,42.32 279.31,41.34 279.46,40.4 279.6,39.5 279.74,38.66 279.88,37.89 280.02,37.16 280.15,36.48 280.29,35.83 280.44,35.2 280.59,34.57 280.75,33.93 280.92,33.28 281.1,32.6 281.28,31.88 281.46,31.14 281.63,30.38 281.8,29.61 281.99,28.85 282.2,28.1 282.44,27.38 282.72,26.7 283.03,26.07 283.4,25.5 283.61,25 283.53,24.56 283.31,24.18 283.08,23.83 282.97,23.52 283.12,23.21 283.66,22.91 284.73,22.59 286.46,22.25 289,21.87 292.68,21.45 297.57,20.98 303.34,20.48 309.71,19.97 316.35,19.46 322.96,18.97 329.24,18.51 334.88,18.11 339.57,17.76 343,17.5" fill="none" stroke="#808000" stroke-width="0.75" stroke-linejoin="round" stroke-dasharray="0.8,0.8"/>
<circle cx="261.5" cy="110.4" r="1.25" fill="#808000" stroke="#808000" stroke-width="0.5"/>
<circle cx="262.75" cy="110.4" r="1.25" fill="#808000" stroke="#808000" stroke-width="0.5"/>
<circle cx="264" cy="110.4" r="1.25" fill="#808000" stroke="#808000" stroke-width="0.5"/>
<circle cx="265.25" cy="110.4" r="1.25" fill="#808000" stroke="#808000" stroke-width="0.5"/>
<circle cx="266.5" cy="110.4" r="1.25" fill="#808000" stroke="#808000" stroke-width="0.5"/>
<circle cx="267.75" cy="108.96" r="1.25" fill="#808000" stroke="#808000" stroke-width="0.5"/>
<circle cx="269" cy="106.96" r="1.25" fill="#808000" stroke="#808000" stroke-width="0.5"/>
<circle cx="270.25" cy="104.59" r="1.25" fill="#808000" stroke="#808000" stroke-width="0.5"/>
<circle cx="271.5" cy="101.95" r="1.25" fill="#808000" stroke="#808000" stroke-width="0.5"/>
<circle cx="272.75" cy="97.63" r="1.25" fill="#808000" stroke="#808000" stroke-width="0.5"/>
<circle cx="274" cy="90.48" r="1.25" fill="#808000" stroke="#808000" stroke-width="0.5"/>
<circle cx="275.25" cy="82.32" r="1.25" fill="#808000" stroke="#808000" stroke-width="0.5"/>
<circle cx="276.5" cy="70.5" r="1.25" fill="#808000" stroke="#808000" stroke-width="0.5"/>
<circle cx="277.75" cy="54.64" r="1.25" fill="#808000" stroke="#808000" stroke-width="0.5"/>
<circle cx="279" cy="43.52" r="1.25" fill="#808000" stroke="#808000" stroke-width="0.5"/>
<circle cx="280.25" cy="36.04" r="1.25" fill="#808000" stroke="#808000" stroke-width="0.5"/>
<circle cx="281.5" cy="30.94" r="1.25" fill="#808000" stroke="#808000" stroke-width="0.5"/>
<circle cx="282.75" cy="26.63" r="1.25" fill="#808000" stroke="#808000" stroke-width="0.5"/>
<circle cx="284" cy="22.81" r="1.25" fill="#808000" stroke="#808000" stroke-width="0.5"/>
<circle cx="285.25" cy="22.49" r="1.25" fill="#808000" stroke="#808000" stroke-width="0.5"/>
<circle cx="286.5" cy="22.25" r="1.25" fill="#808000" stroke="#808000" stroke-width="0.5"/>
<circle cx="287.75" cy="22.06" r="1.25" fill="#808000" stroke="#808000" stroke-width="0.5"/>
<circle cx="289" cy="21.87" r="1.25" fill="#808000" stroke="#808000" stroke-width="0.5"/>
<circle cx="290.25" cy="21.73" r="1.25" fill="#808000" stroke="#808000" stroke-width="0.5"/>
<circle cx="291.5" cy="21.58" r="1.25" fill="#808000" stroke="#808000" stroke-width="0.5"/>
<circle cx="292.75" cy="21.44" r="1.25" fill="#808000" stroke="#808000" stroke-width="0.5"/>
<circle cx="294" cy="21.32" r="1.25" fill="#808000" stroke="#808000" stroke-width="0.5"/>
<circle cx="295.25" cy="21.2" r="1.25" fill="#808000" stroke="#808000" stroke-width="0.5"/>
<circle cx="296.5" cy="21.08" r="1.25" fill="#808000" stroke="#808000" stroke-width="0.5"/>
<circle cx="297.75" cy="20.96" r="1.25" fill="#808000" stroke="#808000" stroke-width="0.5"/>
<circle cx="299" cy="20.85" r="1.25" fill="#808000" stroke="#808000" stroke-width="0.5"/>
<circle cx="300.25" cy="20.74" r="1.25" fill="#808000" stroke="#808000" stroke-width="0.5"/>
<circle cx="301.5" cy="20.64" r="1.25" fill="#808000" stroke="#808000" stroke-width="0.5"/>
<circle cx="302.75" cy="20.53" r="1.25" fill="#808000" stroke="#808000" stroke-width="0.5"/>
<circle cx="304" cy="20.43" r="1.25" fill="#808000" stroke="#808000" stroke-width="0.5"/>
<circle cx="305.25" cy="20.33" r="1.25" fill="#808000" stroke="#808000" stroke-width="0.5"/>
<circle cx="306.5" cy="20.22" r="1.25" fill="#808000" stroke="#808000" stroke-width="0.5"/>
<circle cx="307.75" cy="20.12" r="1.25" fill="#808000" stroke="#808000" stroke-width="0.5"/>
<circle cx="309" cy="20.02" r="1.25" fill="#808000" stroke="#808000" stroke-width="0.5"/>
<circle cx="310.25" cy="19.93" r="1.25" fill="#808000" stroke="#808000" stroke-width="0.5"/>
<circle cx="311.5" cy="19.83" r="1.25" fill="#808000" stroke="#808000" stroke-width="0.5"/>
<circle cx="312.75" cy="19.74" r="1.25" fill="#808000" stroke="#808000" stroke-width="0.5"/>
<circle cx="314" cy="19.64" r="1.25" fill="#808000" stroke="#808000" stroke-width="0.5"/>
<circle cx="315.25" cy="19.54" r="1.25" fill="#808000" stroke="#808000" stroke-width="0.5"/>
<circle cx="316.5" cy="19.45" r="1.25" fill="#808000" stroke="#808000" stroke-width="0.5"/>
<circle cx="317.75" cy="19.36" r="1.25" fill="#808000" stroke="#808000" stroke-width="0.5"/>
<circle cx="319" cy="19.26" r="1.25" fill="#808000" stroke="#808000" stroke-width="0.5"/>
<circle cx="320.25" cy="19.17" r="1.25" fill="#808000" stroke="#808000" stroke-width="0.5"/>
<circle cx="321.5" cy="19.08" r="1.25" fill="#808000" stroke="#808000" stroke-width="0.5"/>
<circle cx="322.75" cy="18.99" r="1.25" fill="#808000" stroke="#808000" stroke-width="0.5"/>
<circle cx="324" cy="18.89" r="1.25" fill="#808000" stroke="#808000" stroke-width="0.5"/>
<circle cx="325.25" cy="18.8" r="1.25" fill="#808000" stroke="#808000" stroke-width="0.5"/>
<circle cx="326.5" cy="18.71" r="1.25" fill="#808000" stroke="#808000" stroke-width="0.5"/>
<circle cx="327.75" cy="18.62" r="1.25" fill="#808000" stroke="#808000" stroke-width="0.5"/>
<circle cx="329" cy="18.53" r="1.25" fill="#808000" stroke="#808000" stroke-width="0.5"/>
<circle cx="330.25" cy="18.44" r="1.25" fill="#808000" stroke="#808000" stroke-width="0.5"/>
<circle cx="331.5" cy="18.35" r="1.25" fill="#808000" stroke="#808000" stroke-width="0.5"/>
<circle cx="332.75" cy="18.26" r="1.25" fill="#808000" stroke="#808000" stroke-width="0.5"/>
<circle cx="334" cy="18.17" r="1.25" fill="#808000" stroke="#808000" stroke-width="0.5"/>
<circle cx="335.25" cy="18.08" r="1.25" fill="#808000" stroke="#808000" stroke-width="0.5"/>
<circle cx="336.5" cy="17.99" r="1.25" fill="#808000" stroke="#808000" stroke-width="0.5"/>
<circle cx="337.75" cy="17.9" r="1.25" fill="#808000" stroke="#808000" stroke-width="0.5"/>
<circle cx="339" cy="17.81" r="1.25" fill="#808000" stroke="#808000" stroke-width="0.5"/>
<circle cx="340.25" cy="17.71" r="1.25" fill="#808000" stroke="#808000" stroke-width="0.5"/>
<circle cx="341.5" cy="17.62" r="1.25" fill="#808000" stroke="#808000" stroke-width="0.5"/>
<circle cx="342.75" cy="17.52" r="1.25" fill="#808000" stroke="#808000" stroke-width="0.5"/>
<circle cx="271.3" cy="102.4" r="1.4" fill="#808000" stroke="#808000" stroke-width="0.5"/>
<circle cx="273" cy="96.4" r="1.4" fill="#808000" stroke="#808000" stroke-width="0.5"/>
<circle cx="274.4" cy="87.8" r="1.4" fill="#808000" stroke="#808000" stroke-width="0.5"/>
<circle cx="276" cy="76.6" r="1.4" fill="#808000" stroke="#808000" stroke-width="0.5"/>
<circle cx="277" cy="63.4" r="1.4" fill="#808000" stroke="#808000" stroke-width="0.5"/>
<circle cx="278.2" cy="50.1" r="1.4" fill="#808000" stroke="#808000" stroke-width="0.5"/>
<circle cx="279.6" cy="39.5" r="1.4" fill="#808000" stroke="#808000" stroke-width="0.5"/>
<circle cx="281.1" cy="32.6" r="1.4" fill="#808000" stroke="#808000" stroke-width="0.5"/>
<circle cx="283.4" cy="25.5" r="1.4" fill="#808000" stroke="#808000" stroke-width="0.5"/>
<circle cx="281.8" cy="29.61" r="1.3" fill="#808000" stroke="#808000" stroke-width="0.5"/>
<circle cx="282.13" cy="28.35" r="1.3" fill="#808000" stroke="#808000" stroke-width="0.5"/>
<circle cx="282.55" cy="27.12" r="1.3" fill="#808000" stroke="#808000" stroke-width="0.5"/>
<circle cx="283.11" cy="25.95" r="1.3" fill="#808000" stroke="#808000" stroke-width="0.5"/>
<circle cx="283.57" cy="24.78" r="1.3" fill="#808000" stroke="#808000" stroke-width="0.5"/>
<circle cx="283.01" cy="23.63" r="1.3" fill="#808000" stroke="#808000" stroke-width="0.5"/>
<circle cx="283.87" cy="22.84" r="1.3" fill="#808000" stroke="#808000" stroke-width="0.5"/>
<circle cx="285.13" cy="22.51" r="1.3" fill="#808000" stroke="#808000" stroke-width="0.5"/>
<circle cx="286.4" cy="22.26" r="1.3" fill="#808000" stroke="#808000" stroke-width="0.5"/>
<circle cx="287.69" cy="22.07" r="1.3" fill="#808000" stroke="#808000" stroke-width="0.5"/>
<circle cx="288.98" cy="21.88" r="1.3" fill="#808000" stroke="#808000" stroke-width="0.5"/>
<polyline points="264.5,100 264.53,99.86 264.55,99.7 264.58,99.53 264.62,99.34 264.66,99.11 264.7,98.84 264.76,98.52 264.83,98.14 264.91,97.71 265,97.2 265.11,96.61 265.24,95.95 265.38,95.22 265.53,94.43 265.69,93.59 265.86,92.72 266.03,91.83 266.19,90.92 266.35,90.01 266.5,89.1 266.64,88.19 266.79,87.28 266.93,86.34 267.08,85.39 267.22,84.42 267.36,83.43 267.5,82.41 267.63,81.37 267.77,80.3 267.9,79.2 268.03,78.06 268.15,76.88 268.27,75.67 268.38,74.43 268.5,73.17 268.62,71.9 268.73,70.62 268.85,69.34 268.97,68.06 269.1,66.8 269.23,65.53 269.37,64.25 269.51,62.95 269.65,61.65 269.79,60.35 269.94,59.06 270.08,57.78 270.22,56.52 270.36,55.29 270.5,54.1 270.63,52.93 270.76,51.78 270.88,50.64 271,49.51 271.12,48.41 271.25,47.33 271.38,46.28 271.51,45.26 271.65,44.26 271.8,43.3 271.96,42.38 272.12,41.5 272.3,40.66 272.47,39.85 272.66,39.06 272.84,38.28 273.03,37.52 273.22,36.75 273.41,35.98 273.6,35.2 273.79,34.39 273.99,33.54 274.19,32.68 274.4,31.82 274.61,30.97 274.81,30.15 275.02,29.38 275.22,28.67 275.41,28.04 275.6,27.5 275.77,27.07 275.91,26.75 276.04,26.51 276.16,26.34 276.28,26.21 276.42,26.1 276.58,26 276.77,25.88 277.01,25.72 277.3,25.5 277.4,25.25 277.15,24.99 276.72,24.72 276.26,24.44 275.94,24.15 275.92,23.85 276.36,23.53 277.41,23.19 279.24,22.83 282,22.44 286.09,22 291.57,21.49 298.08,20.94 305.27,20.36 312.79,19.78 320.29,19.21 327.41,18.68 333.8,18.2 339.12,17.8 343,17.5" fill="none" stroke="#000080" stroke-width="0.75" stroke-linejoin="round" stroke-dasharray="0.8,0.8"/>
<polygon points="264.5,98.38 264.9,99.44 266.05,99.5 265.15,100.21 265.46,101.31 264.5,100.69 263.54,101.31 263.85,100.21 262.95,99.5 264.1,99.44" fill="#000080" stroke="#000080" stroke-width="0.5"/>
<polygon points="265.75,91.67 266.15,92.74 267.3,92.8 266.4,93.51 266.71,94.61 265.75,93.99 264.79,94.61 265.1,93.51 264.2,92.8 265.35,92.74" fill="#000080" stroke="#000080" stroke-width="0.5"/>
<polygon points="267,84.28 267.4,85.34 268.55,85.4 267.65,86.11 267.96,87.21 267,86.59 266.04,87.21 266.35,86.11 265.45,85.4 266.6,85.34" fill="#000080" stroke="#000080" stroke-width="0.5"/>
<polygon points="268.25,74.24 268.65,75.3 269.8,75.36 268.9,76.07 269.21,77.18 268.25,76.55 267.29,77.18 267.6,76.07 266.7,75.36 267.85,75.3" fill="#000080" stroke="#000080" stroke-width="0.5"/>
<polygon points="269.5,61.41 269.9,62.47 271.05,62.53 270.15,63.24 270.46,64.35 269.5,63.72 268.54,64.35 268.85,63.24 267.95,62.53 269.1,62.47" fill="#000080" stroke="#000080" stroke-width="0.5"/>
<polygon points="270.75,50.23 271.15,51.3 272.3,51.35 271.4,52.06 271.71,53.17 270.75,52.54 269.79,53.17 270.1,52.06 269.2,51.35 270.35,51.3" fill="#000080" stroke="#000080" stroke-width="0.5"/>
<polygon points="272,40.54 272.4,41.6 273.55,41.66 272.65,42.37 272.96,43.48 272,42.85 271.04,43.48 271.35,42.37 270.45,41.66 271.6,41.6" fill="#000080" stroke="#000080" stroke-width="0.5"/>
<polygon points="273.25,35 273.65,36.07 274.8,36.12 273.9,36.84 274.21,37.94 273.25,37.31 272.29,37.94 272.6,36.84 271.7,36.12 272.85,36.07" fill="#000080" stroke="#000080" stroke-width="0.5"/>
<polygon points="274.5,29.78 274.9,30.85 276.05,30.9 275.15,31.62 275.46,32.72 274.5,32.09 273.54,32.72 273.85,31.62 272.95,30.9 274.1,30.85" fill="#000080" stroke="#000080" stroke-width="0.5"/>
<polygon points="275.75,25.5 276.15,26.56 277.3,26.62 276.4,27.33 276.71,28.44 275.75,27.81 274.79,28.44 275.1,27.33 274.2,26.62 275.35,26.56" fill="#000080" stroke="#000080" stroke-width="0.5"/>
<polygon points="277,24.1 277.4,25.17 278.55,25.22 277.65,25.94 277.96,27.04 277,26.41 276.04,27.04 276.35,25.94 275.45,25.22 276.6,25.17" fill="#000080" stroke="#000080" stroke-width="0.5"/>
<polygon points="278.25,21.4 278.65,22.47 279.8,22.52 278.9,23.23 279.21,24.34 278.25,23.71 277.29,24.34 277.6,23.23 276.7,22.52 277.85,22.47" fill="#000080" stroke="#000080" stroke-width="0.5"/>
<polygon points="279.5,21.16 279.9,22.23 281.05,22.29 280.15,23 280.46,24.1 279.5,23.48 278.54,24.1 278.85,23 277.95,22.29 279.1,22.23" fill="#000080" stroke="#000080" stroke-width="0.5"/>
<polygon points="280.75,20.99 281.15,22.06 282.3,22.11 281.4,22.83 281.71,23.93 280.75,23.3 279.79,23.93 280.1,22.83 279.2,22.11 280.35,22.06" fill="#000080" stroke="#000080" stroke-width="0.5"/>
<polygon points="282,20.81 282.4,21.88 283.55,21.94 282.65,22.65 282.96,23.75 282,23.13 281.04,23.75 281.35,22.65 280.45,21.94 281.6,21.88" fill="#000080" stroke="#000080" stroke-width="0.5"/>
<polygon points="283.25,20.68 283.65,21.75 284.8,21.8 283.9,22.52 284.21,23.62 283.25,22.99 282.29,23.62 282.6,22.52 281.7,21.8 282.85,21.75" fill="#000080" stroke="#000080" stroke-width="0.5"/>
<polygon points="284.5,20.55 284.9,21.61 286.05,21.67 285.15,22.38 285.46,23.49 284.5,22.86 283.54,23.49 283.85,22.38 282.95,21.67 284.1,21.61" fill="#000080" stroke="#000080" stroke-width="0.5"/>
<polygon points="285.75,20.41 286.15,21.48 287.3,21.53 286.4,22.25 286.71,23.35 285.75,22.72 284.79,23.35 285.1,22.25 284.2,21.53 285.35,21.48" fill="#000080" stroke="#000080" stroke-width="0.5"/>
<polygon points="287,20.29 287.4,21.36 288.55,21.41 287.65,22.13 287.96,23.23 287,22.6 286.04,23.23 286.35,22.13 285.45,21.41 286.6,21.36" fill="#000080" stroke="#000080" stroke-width="0.5"/>
<polygon points="288.25,20.18 288.65,21.24 289.8,21.3 288.9,22.01 289.21,23.12 288.25,22.49 287.29,23.12 287.6,22.01 286.7,21.3 287.85,21.24" fill="#000080" stroke="#000080" stroke-width="0.5"/>
<polygon points="289.5,20.06 289.9,21.13 291.05,21.18 290.15,21.9 290.46,23 289.5,22.37 288.54,23 288.85,21.9 287.95,21.18 289.1,21.13" fill="#000080" stroke="#000080" stroke-width="0.5"/>
<polygon points="290.75,19.94 291.15,21.01 292.3,21.07 291.4,21.78 291.71,22.88 290.75,22.26 289.79,22.88 290.1,21.78 289.2,21.07 290.35,21.01" fill="#000080" stroke="#000080" stroke-width="0.5"/>
<polygon points="292,19.83 292.4,20.9 293.55,20.95 292.65,21.67 292.96,22.77 292,22.14 291.04,22.77 291.35,21.67 290.45,20.95 291.6,20.9" fill="#000080" stroke="#000080" stroke-width="0.5"/>
<polygon points="293.25,19.73 293.65,20.79 294.8,20.85 293.9,21.56 294.21,22.67 293.25,22.04 292.29,22.67 292.6,21.56 291.7,20.85 292.85,20.79" fill="#000080" stroke="#000080" stroke-width="0.5"/>
<polygon points="294.5,19.62 294.9,20.69 296.05,20.74 295.15,21.46 295.46,22.56 294.5,21.93 293.54,22.56 293.85,21.46 292.95,20.74 294.1,20.69" fill="#000080" stroke="#000080" stroke-width="0.5"/>
<polygon points="295.75,19.51 296.15,20.58 297.3,20.64 296.4,21.35 296.71,22.45 295.75,21.83 294.79,22.45 295.1,21.35 294.2,20.64 295.35,20.58" fill="#000080" stroke="#000080" stroke-width="0.5"/>
<polygon points="297,19.41 297.4,20.48 298.55,20.53 297.65,21.24 297.96,22.35 297,21.72 296.04,22.35 296.35,21.24 295.45,20.53 296.6,20.48" fill="#000080" stroke="#000080" stroke-width="0.5"/>
<polygon points="298.25,19.3 298.65,20.37 299.8,20.42 298.9,21.14 299.21,22.24 298.25,21.61 297.29,22.24 297.6,21.14 296.7,20.42 297.85,20.37" fill="#000080" stroke="#000080" stroke-width="0.5"/>
<polygon points="299.5,19.2 299.9,20.27 301.05,20.32 300.15,21.04 300.46,22.14 299.5,21.51 298.54,22.14 298.85,21.04 297.95,20.32 299.1,20.27" fill="#000080" stroke="#000080" stroke-width="0.5"/>
<polygon points="300.75,19.1 301.15,20.17 302.3,20.22 301.4,20.94 301.71,22.04 300.75,21.41 299.79,22.04 300.1,20.94 299.2,20.22 300.35,20.17" fill="#000080" stroke="#000080" stroke-width="0.5"/>
<polygon points="302,19 302.4,20.07 303.55,20.12 302.65,20.84 302.96,21.94 302,21.31 301.04,21.94 301.35,20.84 300.45,20.12 301.6,20.07" fill="#000080" stroke="#000080" stroke-width="0.5"/>
<polygon points="303.25,18.9 303.65,19.97 304.8,20.02 303.9,20.74 304.21,21.84 303.25,21.21 302.29,21.84 302.6,20.74 301.7,20.02 302.85,19.97" fill="#000080" stroke="#000080" stroke-width="0.5"/>
<polygon points="304.5,18.8 304.9,19.87 306.05,19.92 305.15,20.64 305.46,21.74 304.5,21.11 303.54,21.74 303.85,20.64 302.95,19.92 304.1,19.87" fill="#000080" stroke="#000080" stroke-width="0.5"/>
<polygon points="305.75,18.7 306.15,19.77 307.3,19.82 306.4,20.54 306.71,21.64 305.75,21.01 304.79,21.64 305.1,20.54 304.2,19.82 305.35,19.77" fill="#000080" stroke="#000080" stroke-width="0.5"/>
<polygon points="307,18.6 307.4,19.67 308.55,19.73 307.65,20.44 307.96,21.54 307,20.92 306.04,21.54 306.35,20.44 305.45,19.73 306.6,19.67" fill="#000080" stroke="#000080" stroke-width="0.5"/>
<polygon points="308.25,18.51 308.65,19.58 309.8,19.63 308.9,20.34 309.21,21.45 308.25,20.82 307.29,21.45 307.6,20.34 306.7,19.63 307.85,19.58" fill="#000080" stroke="#000080" stroke-width="0.5"/>
<polygon points="309.5,18.41 309.9,19.48 311.05,19.53 310.15,20.25 310.46,21.35 309.5,20.72 308.54,21.35 308.85,20.25 307.95,19.53 309.1,19.48" fill="#000080" stroke="#000080" stroke-width="0.5"/>
<polygon points="310.75,18.31 311.15,19.38 312.3,19.44 311.4,20.15 311.71,21.25 310.75,20.62 309.79,21.25 310.1,20.15 309.2,19.44 310.35,19.38" fill="#000080" stroke="#000080" stroke-width="0.5"/>
<polygon points="312,18.22 312.4,19.28 313.55,19.34 312.65,20.05 312.96,21.15 312,20.53 311.04,21.15 311.35,20.05 310.45,19.34 311.6,19.28" fill="#000080" stroke="#000080" stroke-width="0.5"/>
<polygon points="313.25,18.12 313.65,19.19 314.8,19.24 313.9,19.96 314.21,21.06 313.25,20.43 312.29,21.06 312.6,19.96 311.7,19.24 312.85,19.19" fill="#000080" stroke="#000080" stroke-width="0.5"/>
<polygon points="314.5,18.02 314.9,19.09 316.05,19.15 315.15,19.86 315.46,20.96 314.5,20.34 313.54,20.96 313.85,19.86 312.95,19.15 314.1,19.09" fill="#000080" stroke="#000080" stroke-width="0.5"/>
<polygon points="315.75,17.93 316.15,19 317.3,19.05 316.4,19.77 316.71,20.87 315.75,20.24 314.79,20.87 315.1,19.77 314.2,19.05 315.35,19" fill="#000080" stroke="#000080" stroke-width="0.5"/>
<polygon points="317,17.83 317.4,18.9 318.55,18.96 317.65,19.67 317.96,20.77 317,20.15 316.04,20.77 316.35,19.67 315.45,18.96 316.6,18.9" fill="#000080" stroke="#000080" stroke-width="0.5"/>
<polygon points="318.25,17.74 318.65,18.81 319.8,18.86 318.9,19.58 319.21,20.68 318.25,20.05 317.29,20.68 317.6,19.58 316.7,18.86 317.85,18.81" fill="#000080" stroke="#000080" stroke-width="0.5"/>
<polygon points="319.5,17.65 319.9,18.71 321.05,18.77 320.15,19.48 320.46,20.59 319.5,19.96 318.54,20.59 318.85,19.48 317.95,18.77 319.1,18.71" fill="#000080" stroke="#000080" stroke-width="0.5"/>
<polygon points="320.75,17.55 321.15,18.62 322.3,18.67 321.4,19.39 321.71,20.49 320.75,19.86 319.79,20.49 320.1,19.39 319.2,18.67 320.35,18.62" fill="#000080" stroke="#000080" stroke-width="0.5"/>
<polygon points="322,17.46 322.4,18.53 323.55,18.58 322.65,19.3 322.96,20.4 322,19.77 321.04,20.4 321.35,19.3 320.45,18.58 321.6,18.53" fill="#000080" stroke="#000080" stroke-width="0.5"/>
<polygon points="323.25,17.36 323.65,18.43 324.8,18.49 323.9,19.2 324.21,20.3 323.25,19.68 322.29,20.3 322.6,19.2 321.7,18.49 322.85,18.43" fill="#000080" stroke="#000080" stroke-width="0.5"/>
<polygon points="324.5,17.27 324.9,18.34 326.05,18.39 325.15,19.11 325.46,20.21 324.5,19.58 323.54,20.21 323.85,19.11 322.95,18.39 324.1,18.34" fill="#000080" stroke="#000080" stroke-width="0.5"/>
<polygon points="325.75,17.18 326.15,18.25 327.3,18.3 326.4,19.01 326.71,20.12 325.75,19.49 324.79,20.12 325.1,19.01 324.2,18.3 325.35,18.25" fill="#000080" stroke="#000080" stroke-width="0.5"/>
<polygon points="327,17.08 327.4,18.15 328.55,18.21 327.65,18.92 327.96,20.02 327,19.4 326.04,20.02 326.35,18.92 325.45,18.21 326.6,18.15" fill="#000080" stroke="#000080" stroke-width="0.5"/>
<polygon points="328.25,16.99 328.65,18.06 329.8,18.11 328.9,18.83 329.21,19.93 328.25,19.3 327.29,19.93 327.6,18.83 326.7,18.11 327.85,18.06" fill="#000080" stroke="#000080" stroke-width="0.5"/>
<polygon points="329.5,16.9 329.9,17.97 331.05,18.02 330.15,18.73 330.46,19.84 329.5,19.21 328.54,19.84 328.85,18.73 327.95,18.02 329.1,17.97" fill="#000080" stroke="#000080" stroke-width="0.5"/>
<polygon points="330.75,16.8 331.15,17.87 332.3,17.93 331.4,18.64 331.71,19.74 330.75,19.12 329.79,19.74 330.1,18.64 329.2,17.93 330.35,17.87" fill="#000080" stroke="#000080" stroke-width="0.5"/>
<polygon points="332,16.71 332.4,17.78 333.55,17.83 332.65,18.55 332.96,19.65 332,19.02 331.04,19.65 331.35,18.55 330.45,17.83 331.6,17.78" fill="#000080" stroke="#000080" stroke-width="0.5"/>
<polygon points="333.25,16.62 333.65,17.69 334.8,17.74 333.9,18.46 334.21,19.56 333.25,18.93 332.29,19.56 332.6,18.46 331.7,17.74 332.85,17.69" fill="#000080" stroke="#000080" stroke-width="0.5"/>
<polygon points="334.5,16.52 334.9,17.59 336.05,17.65 335.15,18.36 335.46,19.46 334.5,18.84 333.54,19.46 333.85,18.36 332.95,17.65 334.1,17.59" fill="#000080" stroke="#000080" stroke-width="0.5"/>
<polygon points="335.75,16.43 336.15,17.5 337.3,17.55 336.4,18.27 336.71,19.37 335.75,18.74 334.79,19.37 335.1,18.27 334.2,17.55 335.35,17.5" fill="#000080" stroke="#000080" stroke-width="0.5"/>
<polygon points="337,16.34 337.4,17.41 338.55,17.46 337.65,18.17 337.96,19.28 337,18.65 336.04,19.28 336.35,18.17 335.45,17.46 336.6,17.41" fill="#000080" stroke="#000080" stroke-width="0.5"/>
<polygon points="338.25,16.24 338.65,17.31 339.8,17.37 338.9,18.08 339.21,19.18 338.25,18.56 337.29,19.18 337.6,18.08 336.7,17.37 337.85,17.31" fill="#000080" stroke="#000080" stroke-width="0.5"/>
<polygon points="339.5,16.15 339.9,17.22 341.05,17.27 340.15,17.99 340.46,19.09 339.5,18.46 338.54,19.09 338.85,17.99 337.95,17.27 339.1,17.22" fill="#000080" stroke="#000080" stroke-width="0.5"/>
<polygon points="340.75,16.05 341.15,17.12 342.3,17.17 341.4,17.89 341.71,18.99 340.75,18.36 339.79,18.99 340.1,17.89 339.2,17.17 340.35,17.12" fill="#000080" stroke="#000080" stroke-width="0.5"/>
<polygon points="342,15.95 342.4,17.02 343.55,17.08 342.65,17.79 342.96,18.89 342,18.27 341.04,18.89 341.35,17.79 340.45,17.08 341.6,17.02" fill="#000080" stroke="#000080" stroke-width="0.5"/>
<polygon points="265,95.38 265.45,96.58 266.73,96.64 265.73,97.44 266.07,98.67 265,97.97 263.93,98.67 264.27,97.44 263.27,96.64 264.55,96.58" fill="#000080" stroke="#000080" stroke-width="0.5"/>
<polygon points="266.5,87.28 266.95,88.48 268.23,88.54 267.23,89.34 267.57,90.57 266.5,89.87 265.43,90.57 265.77,89.34 264.77,88.54 266.05,88.48" fill="#000080" stroke="#000080" stroke-width="0.5"/>
<polygon points="267.9,77.38 268.35,78.58 269.63,78.64 268.63,79.44 268.97,80.67 267.9,79.97 266.83,80.67 267.17,79.44 266.17,78.64 267.45,78.58" fill="#000080" stroke="#000080" stroke-width="0.5"/>
<polygon points="269.1,64.98 269.55,66.18 270.83,66.24 269.83,67.04 270.17,68.27 269.1,67.57 268.03,68.27 268.37,67.04 267.37,66.24 268.65,66.18" fill="#000080" stroke="#000080" stroke-width="0.5"/>
<polygon points="270.5,52.28 270.95,53.48 272.23,53.54 271.23,54.34 271.57,55.57 270.5,54.87 269.43,55.57 269.77,54.34 268.77,53.54 270.05,53.48" fill="#000080" stroke="#000080" stroke-width="0.5"/>
<polygon points="271.8,41.48 272.25,42.68 273.53,42.74 272.53,43.54 272.87,44.77 271.8,44.07 270.73,44.77 271.07,43.54 270.07,42.74 271.35,42.68" fill="#000080" stroke="#000080" stroke-width="0.5"/>
<polygon points="273.6,33.38 274.05,34.58 275.33,34.64 274.33,35.44 274.67,36.67 273.6,35.97 272.53,36.67 272.87,35.44 271.87,34.64 273.15,34.58" fill="#000080" stroke="#000080" stroke-width="0.5"/>
<polygon points="275.6,25.68 276.05,26.88 277.33,26.94 276.33,27.74 276.67,28.97 275.6,28.27 274.53,28.97 274.87,27.74 273.87,26.94 275.15,26.88" fill="#000080" stroke="#000080" stroke-width="0.5"/>
<polygon points="277.3,23.68 277.75,24.88 279.03,24.94 278.03,25.74 278.37,26.97 277.3,26.27 276.23,26.97 276.57,25.74 275.57,24.94 276.85,24.88" fill="#000080" stroke="#000080" stroke-width="0.5"/>
<polygon points="275.02,27.69 275.44,28.8 276.62,28.86 275.7,29.6 276.01,30.75 275.02,30.09 274.02,30.75 274.34,29.6 273.41,28.86 274.6,28.8" fill="#000080" stroke="#000080" stroke-width="0.5"/>
<polygon points="275.38,26.44 275.8,27.55 276.99,27.61 276.06,28.35 276.38,29.5 275.38,28.85 274.39,29.5 274.7,28.35 273.77,27.61 274.96,27.55" fill="#000080" stroke="#000080" stroke-width="0.5"/>
<polygon points="275.84,25.22 276.26,26.34 277.45,26.39 276.52,27.14 276.83,28.28 275.84,27.63 274.85,28.28 275.16,27.14 274.23,26.39 275.42,26.34" fill="#000080" stroke="#000080" stroke-width="0.5"/>
<polygon points="276.66,24.26 277.08,25.37 278.27,25.43 277.34,26.17 277.65,27.31 276.66,26.66 275.67,27.31 275.98,26.17 275.05,25.43 276.24,25.37" fill="#000080" stroke="#000080" stroke-width="0.5"/>
<polygon points="277.22,23.38 277.64,24.49 278.83,24.54 277.9,25.29 278.22,26.43 277.22,25.78 276.23,26.43 276.54,25.29 275.62,24.54 276.8,24.49" fill="#000080" stroke="#000080" stroke-width="0.5"/>
<polygon points="276.15,22.65 276.57,23.76 277.76,23.82 276.83,24.56 277.14,25.71 276.15,25.06 275.16,25.71 275.47,24.56 274.54,23.82 275.73,23.76" fill="#000080" stroke="#000080" stroke-width="0.5"/>
<polygon points="276.52,21.79 276.94,22.9 278.13,22.95 277.2,23.7 277.52,24.84 276.52,24.19 275.53,24.84 275.84,23.7 274.92,22.95 276.1,22.9" fill="#000080" stroke="#000080" stroke-width="0.5"/>
<polygon points="277.77,21.43 278.19,22.54 279.38,22.59 278.45,23.34 278.77,24.48 277.77,23.83 276.78,24.48 277.09,23.34 276.16,22.59 277.35,22.54" fill="#000080" stroke="#000080" stroke-width="0.5"/>
<polygon points="279.05,21.17 279.47,22.29 280.65,22.34 279.73,23.09 280.04,24.23 279.05,23.58 278.05,24.23 278.37,23.09 277.44,22.34 278.63,22.29" fill="#000080" stroke="#000080" stroke-width="0.5"/>
<polygon points="280.33,20.98 280.75,22.09 281.94,22.15 281.01,22.89 281.33,24.04 280.33,23.39 279.34,24.04 279.65,22.89 278.73,22.15 279.91,22.09" fill="#000080" stroke="#000080" stroke-width="0.5"/>
<polygon points="281.62,20.8 282.04,21.91 283.23,21.97 282.3,22.71 282.61,23.86 281.62,23.21 280.63,23.86 280.94,22.71 280.01,21.97 281.2,21.91" fill="#000080" stroke="#000080" stroke-width="0.5"/>
<polyline points="261.9,42.9 261.97,42.61 262.07,42.24 262.19,41.81 262.33,41.32 262.47,40.79 262.61,40.24 262.75,39.68 262.89,39.12 263,38.59 263.1,38.1 263.18,37.63 263.24,37.16 263.29,36.7 263.33,36.23 263.37,35.77 263.4,35.31 263.44,34.85 263.49,34.4 263.54,33.95 263.6,33.5 263.66,33.06 263.71,32.61 263.76,32.17 263.81,31.73 263.87,31.29 263.94,30.86 264.03,30.44 264.15,30.02 264.31,29.6 264.5,29.2 264.73,28.8 264.99,28.4 265.28,28 265.6,27.61 265.94,27.23 266.3,26.85 266.68,26.49 267.07,26.14 267.48,25.81 267.9,25.5 268.05,25.23 267.77,25 267.26,24.81 266.7,24.63 266.29,24.46 266.21,24.28 266.65,24.07 267.8,23.83 269.85,23.53 273,23.17 277.69,22.71 283.97,22.16 291.43,21.53 299.69,20.87 308.32,20.19 316.92,19.52 325.1,18.89 332.44,18.32 338.54,17.85 343,17.5" fill="none" stroke="#900090" stroke-width="0.75" stroke-linejoin="round" stroke-dasharray="0.8,0.8"/>
<circle cx="261.9" cy="42.9" r="1.25" fill="#900090" stroke="#900090" stroke-width="0.5"/>
<circle cx="263.15" cy="37.79" r="1.25" fill="#900090" stroke="#900090" stroke-width="0.5"/>
<circle cx="264.4" cy="29.41" r="1.25" fill="#900090" stroke="#900090" stroke-width="0.5"/>
<circle cx="265.65" cy="27.55" r="1.25" fill="#900090" stroke="#900090" stroke-width="0.5"/>
<circle cx="266.9" cy="26.29" r="1.25" fill="#900090" stroke="#900090" stroke-width="0.5"/>
<circle cx="268.15" cy="25.13" r="1.25" fill="#900090" stroke="#900090" stroke-width="0.5"/>
<circle cx="269.4" cy="23.96" r="1.25" fill="#900090" stroke="#900090" stroke-width="0.5"/>
<circle cx="270.65" cy="23.44" r="1.25" fill="#900090" stroke="#900090" stroke-width="0.5"/>
<circle cx="271.9" cy="23.3" r="1.25" fill="#900090" stroke="#900090" stroke-width="0.5"/>
<circle cx="273.15" cy="23.15" r="1.25" fill="#900090" stroke="#900090" stroke-width="0.5"/>
<circle cx="274.4" cy="23.03" r="1.25" fill="#900090" stroke="#900090" stroke-width="0.5"/>
<circle cx="275.65" cy="22.91" r="1.25" fill="#900090" stroke="#900090" stroke-width="0.5"/>
<circle cx="276.9" cy="22.79" r="1.25" fill="#900090" stroke="#900090" stroke-width="0.5"/>
<circle cx="278.15" cy="22.67" r="1.25" fill="#900090" stroke="#900090" stroke-width="0.5"/>
<circle cx="279.4" cy="22.56" r="1.25" fill="#900090" stroke="#900090" stroke-width="0.5"/>
<circle cx="280.65" cy="22.45" r="1.25" fill="#900090" stroke="#900090" stroke-width="0.5"/>
<circle cx="281.9" cy="22.34" r="1.25" fill="#900090" stroke="#900090" stroke-width="0.5"/>
<circle cx="283.15" cy="22.23" r="1.25" fill="#900090" stroke="#900090" stroke-width="0.5"/>
<circle cx="284.4" cy="22.12" r="1.25" fill="#900090" stroke="#900090" stroke-width="0.5"/>
<circle cx="285.65" cy="22.02" r="1.25" fill="#900090" stroke="#900090" stroke-width="0.5"/>
<circle cx="286.9" cy="21.91" r="1.25" fill="#900090" stroke="#900090" stroke-width="0.5"/>
<circle cx="288.15" cy="21.81" r="1.25" fill="#900090" stroke="#900090" stroke-width="0.5"/>
<circle cx="289.4" cy="21.7" r="1.25" fill="#900090" stroke="#900090" stroke-width="0.5"/>
<circle cx="290.65" cy="21.6" r="1.25" fill="#900090" stroke="#900090" stroke-width="0.5"/>
<circle cx="291.9" cy="21.5" r="1.25" fill="#900090" stroke="#900090" stroke-width="0.5"/>
<circle cx="293.15" cy="21.4" r="1.25" fill="#900090" stroke="#900090" stroke-width="0.5"/>
<circle cx="294.4" cy="21.3" r="1.25" fill="#900090" stroke="#900090" stroke-width="0.5"/>
<circle cx="295.65" cy="21.19" r="1.25" fill="#900090" stroke="#900090" stroke-width="0.5"/>
<circle cx="296.9" cy="21.09" r="1.25" fill="#900090" stroke="#900090" stroke-width="0.5"/>
<circle cx="298.15" cy="20.99" r="1.25" fill="#900090" stroke="#900090" stroke-width="0.5"/>
<circle cx="299.4" cy="20.89" r="1.25" fill="#900090" stroke="#900090" stroke-width="0.5"/>
<circle cx="300.65" cy="20.79" r="1.25" fill="#900090" stroke="#900090" stroke-width="0.5"/>
<circle cx="301.9" cy="20.69" r="1.25" fill="#900090" stroke="#900090" stroke-width="0.5"/>
<circle cx="303.15" cy="20.6" r="1.25" fill="#900090" stroke="#900090" stroke-width="0.5"/>
<circle cx="304.4" cy="20.5" r="1.25" fill="#900090" stroke="#900090" stroke-width="0.5"/>
<circle cx="305.65" cy="20.4" r="1.25" fill="#900090" stroke="#900090" stroke-width="0.5"/>
<circle cx="306.9" cy="20.3" r="1.25" fill="#900090" stroke="#900090" stroke-width="0.5"/>
<circle cx="308.15" cy="20.2" r="1.25" fill="#900090" stroke="#900090" stroke-width="0.5"/>
<circle cx="309.4" cy="20.1" r="1.25" fill="#900090" stroke="#900090" stroke-width="0.5"/>
<circle cx="310.65" cy="20.01" r="1.25" fill="#900090" stroke="#900090" stroke-width="0.5"/>
<circle cx="311.9" cy="19.91" r="1.25" fill="#900090" stroke="#900090" stroke-width="0.5"/>
<circle cx="313.15" cy="19.81" r="1.25" fill="#900090" stroke="#900090" stroke-width="0.5"/>
<circle cx="314.4" cy="19.72" r="1.25" fill="#900090" stroke="#900090" stroke-width="0.5"/>
<circle cx="315.65" cy="19.62" r="1.25" fill="#900090" stroke="#900090" stroke-width="0.5"/>
<circle cx="316.9" cy="19.52" r="1.25" fill="#900090" stroke="#900090" stroke-width="0.5"/>
<circle cx="318.15" cy="19.43" r="1.25" fill="#900090" stroke="#900090" stroke-width="0.5"/>
<circle cx="319.4" cy="19.33" r="1.25" fill="#900090" stroke="#900090" stroke-width="0.5"/>
<circle cx="320.65" cy="19.23" r="1.25" fill="#900090" stroke="#900090" stroke-width="0.5"/>
<circle cx="321.9" cy="19.14" r="1.25" fill="#900090" stroke="#900090" stroke-width="0.5"/>
<circle cx="323.15" cy="19.04" r="1.25" fill="#900090" stroke="#900090" stroke-width="0.5"/>
<circle cx="324.4" cy="18.94" r="1.25" fill="#900090" stroke="#900090" stroke-width="0.5"/>
<circle cx="325.65" cy="18.85" r="1.25" fill="#900090" stroke="#900090" stroke-width="0.5"/>
<circle cx="326.9" cy="18.75" r="1.25" fill="#900090" stroke="#900090" stroke-width="0.5"/>
<circle cx="328.15" cy="18.65" r="1.25" fill="#900090" stroke="#900090" stroke-width="0.5"/>
<circle cx="329.4" cy="18.56" r="1.25" fill="#900090" stroke="#900090" stroke-width="0.5"/>
<circle cx="330.65" cy="18.46" r="1.25" fill="#900090" stroke="#900090" stroke-width="0.5"/>
<circle cx="331.9" cy="18.37" r="1.25" fill="#900090" stroke="#900090" stroke-width="0.5"/>
<circle cx="333.15" cy="18.27" r="1.25" fill="#900090" stroke="#900090" stroke-width="0.5"/>
<circle cx="334.4" cy="18.17" r="1.25" fill="#900090" stroke="#900090" stroke-width="0.5"/>
<circle cx="335.65" cy="18.08" r="1.25" fill="#900090" stroke="#900090" stroke-width="0.5"/>
<circle cx="336.9" cy="17.98" r="1.25" fill="#900090" stroke="#900090" stroke-width="0.5"/>
<circle cx="338.15" cy="17.88" r="1.25" fill="#900090" stroke="#900090" stroke-width="0.5"/>
<circle cx="339.4" cy="17.78" r="1.25" fill="#900090" stroke="#900090" stroke-width="0.5"/>
<circle cx="340.65" cy="17.69" r="1.25" fill="#900090" stroke="#900090" stroke-width="0.5"/>
<circle cx="341.9" cy="17.59" r="1.25" fill="#900090" stroke="#900090" stroke-width="0.5"/>
<circle cx="263.1" cy="38.1" r="1.4" fill="#900090" stroke="#900090" stroke-width="0.5"/>
<circle cx="263.6" cy="33.5" r="1.4" fill="#900090" stroke="#900090" stroke-width="0.5"/>
<circle cx="264.5" cy="29.2" r="1.4" fill="#900090" stroke="#900090" stroke-width="0.5"/>
<circle cx="267.9" cy="25.5" r="1.4" fill="#900090" stroke="#900090" stroke-width="0.5"/>
<circle cx="263.54" cy="33.95" r="1.3" fill="#900090" stroke="#900090" stroke-width="0.5"/>
<circle cx="263.71" cy="32.66" r="1.3" fill="#900090" stroke="#900090" stroke-width="0.5"/>
<circle cx="263.86" cy="31.37" r="1.3" fill="#900090" stroke="#900090" stroke-width="0.5"/>
<circle cx="264.13" cy="30.1" r="1.3" fill="#900090" stroke="#900090" stroke-width="0.5"/>
<circle cx="264.66" cy="28.92" r="1.3" fill="#900090" stroke="#900090" stroke-width="0.5"/>
<circle cx="265.41" cy="27.85" r="1.3" fill="#900090" stroke="#900090" stroke-width="0.5"/>
<circle cx="266.27" cy="26.88" r="1.3" fill="#900090" stroke="#900090" stroke-width="0.5"/>
<circle cx="267.24" cy="26.01" r="1.3" fill="#900090" stroke="#900090" stroke-width="0.5"/>
<circle cx="267.93" cy="25.13" r="1.3" fill="#900090" stroke="#900090" stroke-width="0.5"/>
<circle cx="266.74" cy="24.64" r="1.3" fill="#900090" stroke="#900090" stroke-width="0.5"/>
<circle cx="266.77" cy="24.04" r="1.3" fill="#900090" stroke="#900090" stroke-width="0.5"/>
<circle cx="268.04" cy="23.79" r="1.3" fill="#900090" stroke="#900090" stroke-width="0.5"/>
<circle cx="269.33" cy="23.61" r="1.3" fill="#900090" stroke="#900090" stroke-width="0.5"/>
<circle cx="270.62" cy="23.44" r="1.3" fill="#900090" stroke="#900090" stroke-width="0.5"/>
<circle cx="271.91" cy="23.29" r="1.3" fill="#900090" stroke="#900090" stroke-width="0.5"/>
<polyline points="261.5,23.2 345,16.44" fill="none" stroke="#800000" stroke-width="3.8" stroke-linejoin="round"/>
<line x1="214.3" y1="18.9" x2="231.9" y2="18.9" stroke="#000" stroke-width="1" stroke-dasharray="1.2,1.3"/>
<rect x="221.2" y="17.3" width="3.2" height="3.2" fill="#000" stroke="#000" stroke-width="0.5"/>
<text x="234.2" y="20.7" font-size="5" text-anchor="start" fill="#555">0 T</text>
<line x1="214.3" y1="27.82" x2="231.9" y2="27.82" stroke="#f00" stroke-width="1" stroke-dasharray="1.2,1.3"/>
<circle cx="222.8" cy="27.82" r="1.6" fill="#f00" stroke="#f00" stroke-width="0.5"/>
<text x="234.2" y="29.62" font-size="5" text-anchor="start" fill="#555">0.05 T</text>
<line x1="214.3" y1="36.74" x2="231.9" y2="36.74" stroke="#00dd00" stroke-width="1" stroke-dasharray="1.2,1.3"/>
<polygon points="222.8,34.9 224.56,37.94 221.04,37.94" fill="#00dd00" stroke="#00dd00" stroke-width="0.5"/>
<text x="234.2" y="38.54" font-size="5" text-anchor="start" fill="#555">0.1 T</text>
<line x1="214.3" y1="45.66" x2="231.9" y2="45.66" stroke="#0000f0" stroke-width="1" stroke-dasharray="1.2,1.3"/>
<polygon points="222.8,47.5 224.56,44.46 221.04,44.46" fill="#0000f0" stroke="#0000f0" stroke-width="0.5"/>
<text x="234.2" y="47.46" font-size="5" text-anchor="start" fill="#555">0.2 T</text>
<line x1="214.3" y1="54.58" x2="231.9" y2="54.58" stroke="#f08000" stroke-width="1" stroke-dasharray="1.2,1.3"/>
<polygon points="222.8,52.5 224.88,54.58 222.8,56.66 220.72,54.58" fill="#f08000" stroke="#f08000" stroke-width="0.5"/>
<text x="234.2" y="56.38" font-size="5" text-anchor="start" fill="#555">0.3 T</text>
<line x1="214.3" y1="63.5" x2="231.9" y2="63.5" stroke="#a000a0" stroke-width="1" stroke-dasharray="1.2,1.3"/>
<polygon points="220.96,63.5 224,61.74 224,65.26" fill="#a000a0" stroke="#a000a0" stroke-width="0.5"/>
<text x="234.2" y="65.3" font-size="5" text-anchor="start" fill="#555">0.5 T</text>
<line x1="214.3" y1="72.42" x2="231.9" y2="72.42" stroke="#008000" stroke-width="1" stroke-dasharray="1.2,1.3"/>
<polygon points="224.64,72.42 221.6,70.66 221.6,74.18" fill="#008000" stroke="#008000" stroke-width="0.5"/>
<text x="234.2" y="74.22" font-size="5" text-anchor="start" fill="#555">0.8 T</text>
<line x1="214.3" y1="81.34" x2="231.9" y2="81.34" stroke="#808000" stroke-width="1" stroke-dasharray="1.2,1.3"/>
<circle cx="222.8" cy="81.34" r="1.6" fill="#808000" stroke="#808000" stroke-width="0.5"/>
<text x="234.2" y="83.14" font-size="5" text-anchor="start" fill="#555">1.0 T</text>
<line x1="214.3" y1="90.26" x2="231.9" y2="90.26" stroke="#000080" stroke-width="1" stroke-dasharray="1.2,1.3"/>
<polygon points="222.8,88.18 223.32,89.55 224.78,89.62 223.64,90.53 224.02,91.94 222.8,91.14 221.58,91.94 221.96,90.53 220.82,89.62 222.28,89.55" fill="#000080" stroke="#000080" stroke-width="0.5"/>
<text x="234.2" y="92.06" font-size="5" text-anchor="start" fill="#555">1.2 T</text>
<line x1="214.3" y1="99.18" x2="231.9" y2="99.18" stroke="#900090" stroke-width="1" stroke-dasharray="1.2,1.3"/>
<circle cx="222.8" cy="99.18" r="1.6" fill="#900090" stroke="#900090" stroke-width="0.5"/>
<text x="234.2" y="100.98" font-size="5" text-anchor="start" fill="#555">1.5 T</text>
<line x1="214.3" y1="108.1" x2="231.9" y2="108.1" stroke="#800000" stroke-width="1" stroke-dasharray="1.2,1.3"/>
<circle cx="222.8" cy="108.1" r="1.6" fill="#800000" stroke="#800000" stroke-width="0.5"/>
<text x="234.2" y="109.9" font-size="5" text-anchor="start" fill="#555">2.0 T</text>
<line x1="390.2" y1="9.4" x2="390.2" y2="116.4" stroke="#d8d8d8" stroke-width="1.2"/>
<line x1="523.6" y1="9.4" x2="523.6" y2="116.4" stroke="#d8d8d8" stroke-width="1.2"/>
<line x1="390.2" y1="116.4" x2="523.6" y2="116.4" stroke="#d8d8d8" stroke-width="1.2"/>
<line x1="389.4" y1="9.4" x2="523.6" y2="9.4" stroke="#555" stroke-width="1"/>
<line x1="390" y1="116.4" x2="390" y2="118.4" stroke="#555" stroke-width="0.8"/>
<line x1="409.2" y1="116.4" x2="409.2" y2="118.4" stroke="#555" stroke-width="0.8"/>
<line x1="428.4" y1="116.4" x2="428.4" y2="118.4" stroke="#555" stroke-width="0.8"/>
<line x1="447.6" y1="116.4" x2="447.6" y2="118.4" stroke="#555" stroke-width="0.8"/>
<line x1="466.8" y1="116.4" x2="466.8" y2="118.4" stroke="#555" stroke-width="0.8"/>
<line x1="486" y1="116.4" x2="486" y2="118.4" stroke="#555" stroke-width="0.8"/>
<line x1="505.2" y1="116.4" x2="505.2" y2="118.4" stroke="#555" stroke-width="0.8"/>
<line x1="524.4" y1="116.4" x2="524.4" y2="118.4" stroke="#555" stroke-width="0.8"/>
<line x1="399.6" y1="116.4" x2="399.6" y2="117.8" stroke="#555" stroke-width="0.8"/>
<line x1="418.8" y1="116.4" x2="418.8" y2="117.8" stroke="#555" stroke-width="0.8"/>
<line x1="438" y1="116.4" x2="438" y2="117.8" stroke="#555" stroke-width="0.8"/>
<line x1="457.2" y1="116.4" x2="457.2" y2="117.8" stroke="#555" stroke-width="0.8"/>
<line x1="476.4" y1="116.4" x2="476.4" y2="117.8" stroke="#555" stroke-width="0.8"/>
<line x1="495.6" y1="116.4" x2="495.6" y2="117.8" stroke="#555" stroke-width="0.8"/>
<line x1="514.8" y1="116.4" x2="514.8" y2="117.8" stroke="#555" stroke-width="0.8"/>
<line x1="390.2" y1="107.9" x2="388.2" y2="107.9" stroke="#555" stroke-width="0.8"/>
<line x1="390.2" y1="90" x2="388.2" y2="90" stroke="#555" stroke-width="0.8"/>
<line x1="390.2" y1="72.1" x2="388.2" y2="72.1" stroke="#555" stroke-width="0.8"/>
<line x1="390.2" y1="54.2" x2="388.2" y2="54.2" stroke="#555" stroke-width="0.8"/>
<line x1="390.2" y1="36.3" x2="388.2" y2="36.3" stroke="#555" stroke-width="0.8"/>
<line x1="390.2" y1="18.4" x2="388.2" y2="18.4" stroke="#555" stroke-width="0.8"/>
<line x1="390.2" y1="98.95" x2="388.8" y2="98.95" stroke="#555" stroke-width="0.8"/>
<line x1="390.2" y1="81.05" x2="388.8" y2="81.05" stroke="#555" stroke-width="0.8"/>
<line x1="390.2" y1="63.15" x2="388.8" y2="63.15" stroke="#555" stroke-width="0.8"/>
<line x1="390.2" y1="45.25" x2="388.8" y2="45.25" stroke="#555" stroke-width="0.8"/>
<line x1="390.2" y1="27.35" x2="388.8" y2="27.35" stroke="#555" stroke-width="0.8"/>
<text x="390" y="127.9" font-size="7" text-anchor="middle" fill="#1a1a1a">−3</text>
<text x="409.2" y="127.9" font-size="7" text-anchor="middle" fill="#1a1a1a">−2</text>
<text x="428.4" y="127.9" font-size="7" text-anchor="middle" fill="#1a1a1a">−1</text>
<text x="447.6" y="127.9" font-size="7" text-anchor="middle" fill="#1a1a1a">0</text>
<text x="466.8" y="127.9" font-size="7" text-anchor="middle" fill="#1a1a1a">1</text>
<text x="486" y="127.9" font-size="7" text-anchor="middle" fill="#1a1a1a">2</text>
<text x="505.2" y="127.9" font-size="7" text-anchor="middle" fill="#1a1a1a">3</text>
<text x="524.4" y="127.9" font-size="7" text-anchor="middle" fill="#1a1a1a">4</text>
<text x="383.8" y="110.4" font-size="7" text-anchor="end" fill="#1a1a1a">0</text>
<text x="383.8" y="92.5" font-size="7" text-anchor="end" fill="#1a1a1a">0.01</text>
<text x="383.8" y="74.6" font-size="7" text-anchor="end" fill="#1a1a1a">0.02</text>
<text x="383.8" y="56.7" font-size="7" text-anchor="end" fill="#1a1a1a">0.03</text>
<text x="383.8" y="38.8" font-size="7" text-anchor="end" fill="#1a1a1a">0.04</text>
<text x="383.8" y="20.9" font-size="7" text-anchor="end" fill="#1a1a1a">0.05</text>
<text x="457.2" y="138.2" font-size="7" text-anchor="middle" fill="#1a1a1a"><tspan font-style="italic">B</tspan> (T)</text>
<text x="360.5" y="63.3" font-size="7" text-anchor="middle" fill="#1a1a1a" transform="rotate(-90 360.5 63.3)"><tspan font-style="italic">ρ</tspan> (μΩ m)</text>
<polyline points="399.6,22 402.01,22.01 405.3,22.02 409.25,22.03 413.65,22.04 418.29,22.05 422.95,22.07 427.43,22.09 431.5,22.12 434.97,22.15 437.6,22.2 439.44,22.25 440.71,22.32 441.53,22.38 441.98,22.46 442.16,22.54 442.18,22.62 442.14,22.71 442.13,22.8 442.25,22.9 442.6,23 443.1,23.11 443.6,23.25 444.1,23.41 444.6,23.57 445.1,23.72 445.6,23.87 446.1,24 446.6,24.11 447.1,24.18 447.6,24.2 448.1,24.18 448.6,24.11 449.1,24 449.6,23.87 450.1,23.73 450.6,23.57 451.1,23.41 451.6,23.25 452.1,23.11 452.6,23 452.95,22.9 453.07,22.8 453.06,22.71 453.02,22.62 453.04,22.54 453.22,22.46 453.67,22.38 454.49,22.32 455.76,22.25 457.6,22.2 460.23,22.15 463.7,22.12 467.77,22.09 472.25,22.07 476.91,22.05 481.55,22.04 485.95,22.03 489.9,22.02 493.19,22.01 495.6,22" fill="none" stroke="#f00" stroke-width="1.6" stroke-linejoin="round"/>
<polyline points="442.6,22.6 444.6,24.2 450.6,24.2 452.6,22.6" fill="none" stroke="#f00" stroke-width="2.6" stroke-linejoin="round"/>
<polyline points="399.6,25.3 400.08,25.37 400.72,25.45 401.48,25.54 402.32,25.65 403.23,25.77 404.16,25.9 405.1,26.05 406,26.22 406.85,26.4 407.6,26.6 408.29,26.82 408.98,27.06 409.64,27.32 410.29,27.59 410.91,27.88 411.51,28.18 412.08,28.5 412.62,28.82 413.13,29.16 413.6,29.5 414.03,29.85 414.41,30.2 414.76,30.56 415.07,30.92 415.36,31.31 415.63,31.7 415.88,32.12 416.12,32.55 416.36,33.01 416.6,33.5 416.83,33.98 417.05,34.42 417.25,34.85 417.44,35.3 417.63,35.78 417.8,36.32 417.96,36.94 418.11,37.66 418.26,38.51 418.4,39.5 418.53,40.65 418.65,41.92 418.76,43.31 418.86,44.8 418.95,46.38 419.04,48.02 419.13,49.72 419.21,51.46 419.3,53.23 419.4,55 419.5,56.84 419.6,58.79 419.69,60.83 419.79,62.92 419.89,65.03 419.99,67.14 420.09,69.23 420.19,71.25 420.29,73.18 420.4,75 420.51,76.72 420.62,78.4 420.74,80.03 420.85,81.6 420.97,83.12 421.09,84.6 421.21,86.03 421.34,87.4 421.47,88.72 421.6,90 421.74,91.22 421.88,92.4 422.03,93.53 422.18,94.6 422.33,95.62 422.49,96.6 422.64,97.53 422.8,98.4 422.95,99.22 423.1,100 423.25,100.71 423.38,101.36 423.52,101.94 423.65,102.47 423.79,102.95 423.93,103.4 424.08,103.82 424.24,104.22 424.41,104.61 424.6,105 424.73,105.38 424.75,105.75 424.71,106.09 424.66,106.41 424.66,106.71 424.76,106.99 425,107.24 425.43,107.45 426.12,107.64 427.1,107.8 428.42,107.91 430.05,107.98 431.93,108.01 434,108 436.23,107.97 438.54,107.93 440.88,107.89 443.21,107.84 445.47,107.81 447.6,107.8 449.73,107.81 451.99,107.84 454.32,107.89 456.66,107.93 458.98,107.98 461.2,108 463.27,108.01 465.15,107.98 466.78,107.91 468.1,107.8 469.08,107.64 469.77,107.45 470.2,107.24 470.44,106.99 470.54,106.71 470.54,106.41 470.49,106.09 470.45,105.75 470.47,105.38 470.6,105 470.79,104.61 470.96,104.22 471.12,103.82 471.27,103.4 471.41,102.95 471.55,102.47 471.68,101.94 471.82,101.36 471.95,100.71 472.1,100 472.25,99.22 472.4,98.4 472.56,97.53 472.71,96.6 472.87,95.62 473.02,94.6 473.17,93.53 473.32,92.4 473.46,91.22 473.6,90 473.73,88.72 473.86,87.4 473.99,86.03 474.11,84.6 474.23,83.12 474.35,81.6 474.46,80.03 474.58,78.4 474.69,76.72 474.8,75 474.91,73.18 475.01,71.25 475.11,69.23 475.21,67.14 475.31,65.03 475.41,62.92 475.51,60.83 475.6,58.79 475.7,56.84 475.8,55 475.9,53.23 475.99,51.46 476.07,49.72 476.16,48.02 476.25,46.38 476.34,44.8 476.44,43.31 476.55,41.92 476.67,40.64 476.8,39.5 476.94,38.51 477.09,37.66 477.24,36.94 477.4,36.32 477.57,35.78 477.76,35.3 477.95,34.85 478.15,34.42 478.37,33.98 478.6,33.5 478.84,33.01 479.08,32.55 479.32,32.12 479.57,31.7 479.84,31.31 480.13,30.92 480.44,30.56 480.79,30.2 481.17,29.85 481.6,29.5 482.07,29.16 482.58,28.82 483.12,28.5 483.69,28.18 484.29,27.88 484.91,27.59 485.56,27.32 486.22,27.06 486.91,26.82 487.6,26.6 488.36,26.4 489.2,26.22 490.11,26.05 491.04,25.9 491.98,25.77 492.88,25.65 493.73,25.54 494.48,25.45 495.12,25.37 495.6,25.3" fill="none" stroke="#007a00" stroke-width="1.6" stroke-linejoin="round"/>
<polygon points="401.56,25.3 398.33,23.43 398.33,27.17" fill="#007a00" stroke="#007a00" stroke-width="0.5"/>
<polygon points="403.43,25.54 400.2,23.67 400.2,27.41" fill="#007a00" stroke="#007a00" stroke-width="0.5"/>
<polygon points="405.18,25.77 401.95,23.9 401.95,27.64" fill="#007a00" stroke="#007a00" stroke-width="0.5"/>
<polygon points="407.05,26.05 403.82,24.18 403.82,27.92" fill="#007a00" stroke="#007a00" stroke-width="0.5"/>
<polygon points="408.8,26.4 405.57,24.53 405.57,28.27" fill="#007a00" stroke="#007a00" stroke-width="0.5"/>
<polygon points="410.25,26.82 407.02,24.95 407.02,28.69" fill="#007a00" stroke="#007a00" stroke-width="0.5"/>
<polygon points="411.6,27.32 408.37,25.45 408.37,29.19" fill="#007a00" stroke="#007a00" stroke-width="0.5"/>
<polygon points="413.47,28.18 410.24,26.31 410.24,30.05" fill="#007a00" stroke="#007a00" stroke-width="0.5"/>
<polygon points="415.09,29.16 411.86,27.29 411.86,31.03" fill="#007a00" stroke="#007a00" stroke-width="0.5"/>
<polygon points="416.71,30.56 413.48,28.69 413.48,32.43" fill="#007a00" stroke="#007a00" stroke-width="0.5"/>
<polygon points="418.08,32.55 414.85,30.68 414.85,34.42" fill="#007a00" stroke="#007a00" stroke-width="0.5"/>
<polygon points="419.4,35.3 416.17,33.43 416.17,37.17" fill="#007a00" stroke="#007a00" stroke-width="0.5"/>
<polygon points="420.71,43.31 417.48,41.44 417.48,45.18" fill="#007a00" stroke="#007a00" stroke-width="0.5"/>
<polygon points="421.26,53.23 418.03,51.36 418.03,55.09" fill="#007a00" stroke="#007a00" stroke-width="0.5"/>
<polygon points="421.75,62.92 418.52,61.05 418.52,64.79" fill="#007a00" stroke="#007a00" stroke-width="0.5"/>
<polygon points="422.25,73.18 419.02,71.31 419.02,75.05" fill="#007a00" stroke="#007a00" stroke-width="0.5"/>
<polygon points="422.92,83.12 419.69,81.25 419.69,85" fill="#007a00" stroke="#007a00" stroke-width="0.5"/>
<polygon points="423.84,92.4 420.61,90.53 420.61,94.27" fill="#007a00" stroke="#007a00" stroke-width="0.5"/>
<polygon points="425.2,100.71 421.97,98.84 421.97,102.58" fill="#007a00" stroke="#007a00" stroke-width="0.5"/>
<polygon points="426.56,105 423.33,103.13 423.33,106.87" fill="#007a00" stroke="#007a00" stroke-width="0.5"/>
<polygon points="428.07,107.64 424.84,105.77 424.84,109.51" fill="#007a00" stroke="#007a00" stroke-width="0.5"/>
<polygon points="430.38,107.91 427.15,106.04 427.15,109.78" fill="#007a00" stroke="#007a00" stroke-width="0.5"/>
<polygon points="432,107.98 428.77,106.11 428.77,109.85" fill="#007a00" stroke="#007a00" stroke-width="0.5"/>
<polygon points="433.88,108.01 430.65,106.14 430.65,109.88" fill="#007a00" stroke="#007a00" stroke-width="0.5"/>
<polygon points="435.96,108 432.73,106.13 432.73,109.87" fill="#007a00" stroke="#007a00" stroke-width="0.5"/>
<polygon points="438.18,107.97 434.95,106.1 434.95,109.84" fill="#007a00" stroke="#007a00" stroke-width="0.5"/>
<polygon points="440.49,107.93 437.26,106.06 437.26,109.8" fill="#007a00" stroke="#007a00" stroke-width="0.5"/>
<polygon points="442.84,107.89 439.61,106.02 439.61,109.76" fill="#007a00" stroke="#007a00" stroke-width="0.5"/>
<polygon points="445.17,107.84 441.94,105.97 441.94,109.71" fill="#007a00" stroke="#007a00" stroke-width="0.5"/>
<polygon points="447.42,107.81 444.19,105.94 444.19,109.68" fill="#007a00" stroke="#007a00" stroke-width="0.5"/>
<polygon points="449.56,107.8 446.33,105.93 446.33,109.67" fill="#007a00" stroke="#007a00" stroke-width="0.5"/>
<polygon points="451.69,107.81 448.46,105.94 448.46,109.68" fill="#007a00" stroke="#007a00" stroke-width="0.5"/>
<polygon points="453.94,107.84 450.71,105.97 450.71,109.71" fill="#007a00" stroke="#007a00" stroke-width="0.5"/>
<polygon points="456.27,107.89 453.04,106.02 453.04,109.76" fill="#007a00" stroke="#007a00" stroke-width="0.5"/>
<polygon points="458.62,107.93 455.39,106.06 455.39,109.8" fill="#007a00" stroke="#007a00" stroke-width="0.5"/>
<polygon points="460.93,107.98 457.7,106.11 457.7,109.85" fill="#007a00" stroke="#007a00" stroke-width="0.5"/>
<polygon points="463.15,108 459.92,106.13 459.92,109.87" fill="#007a00" stroke="#007a00" stroke-width="0.5"/>
<polygon points="465.23,108.01 462,106.14 462,109.88" fill="#007a00" stroke="#007a00" stroke-width="0.5"/>
<polygon points="467.11,107.98 463.88,106.11 463.88,109.85" fill="#007a00" stroke="#007a00" stroke-width="0.5"/>
<polygon points="468.73,107.91 465.5,106.04 465.5,109.78" fill="#007a00" stroke="#007a00" stroke-width="0.5"/>
<polygon points="470.06,107.8 466.83,105.93 466.83,109.67" fill="#007a00" stroke="#007a00" stroke-width="0.5"/>
<polygon points="471.72,107.45 468.49,105.58 468.49,109.32" fill="#007a00" stroke="#007a00" stroke-width="0.5"/>
<polygon points="472.92,104.22 469.69,102.35 469.69,106.09" fill="#007a00" stroke="#007a00" stroke-width="0.5"/>
<polygon points="474.36,98.4 471.13,96.53 471.13,100.27" fill="#007a00" stroke="#007a00" stroke-width="0.5"/>
<polygon points="475.69,88.72 472.46,86.85 472.46,90.59" fill="#007a00" stroke="#007a00" stroke-width="0.5"/>
<polygon points="476.53,78.4 473.3,76.53 473.3,80.27" fill="#007a00" stroke="#007a00" stroke-width="0.5"/>
<polygon points="477.07,69.23 473.84,67.36 473.84,71.1" fill="#007a00" stroke="#007a00" stroke-width="0.5"/>
<polygon points="477.56,58.79 474.33,56.92 474.33,60.66" fill="#007a00" stroke="#007a00" stroke-width="0.5"/>
<polygon points="478.03,49.72 474.8,47.85 474.8,51.59" fill="#007a00" stroke="#007a00" stroke-width="0.5"/>
<polygon points="478.62,40.64 475.39,38.77 475.39,42.51" fill="#007a00" stroke="#007a00" stroke-width="0.5"/>
<polygon points="480.11,34.42 476.88,32.55 476.88,36.29" fill="#007a00" stroke="#007a00" stroke-width="0.5"/>
<polygon points="481.52,31.7 478.29,29.83 478.29,33.57" fill="#007a00" stroke="#007a00" stroke-width="0.5"/>
<polygon points="483.13,29.85 479.9,27.98 479.9,31.72" fill="#007a00" stroke="#007a00" stroke-width="0.5"/>
<polygon points="484.53,28.82 481.3,26.95 481.3,30.69" fill="#007a00" stroke="#007a00" stroke-width="0.5"/>
<polygon points="486.24,27.88 483.01,26.01 483.01,29.75" fill="#007a00" stroke="#007a00" stroke-width="0.5"/>
<polygon points="488.18,27.06 484.95,25.19 484.95,28.93" fill="#007a00" stroke="#007a00" stroke-width="0.5"/>
<polygon points="489.56,26.6 486.33,24.73 486.33,28.47" fill="#007a00" stroke="#007a00" stroke-width="0.5"/>
<polygon points="491.15,26.22 487.93,24.35 487.93,28.09" fill="#007a00" stroke="#007a00" stroke-width="0.5"/>
<polygon points="493,25.9 489.77,24.03 489.77,27.77" fill="#007a00" stroke="#007a00" stroke-width="0.5"/>
<polygon points="494.84,25.65 491.61,23.78 491.61,27.52" fill="#007a00" stroke="#007a00" stroke-width="0.5"/>
<polygon points="496.44,25.45 493.21,23.58 493.21,27.32" fill="#007a00" stroke="#007a00" stroke-width="0.5"/>
<polyline points="425.6,107.4 469.6,107.4" fill="none" stroke="#007a00" stroke-width="3.4" stroke-linejoin="round"/>
<polyline points="399.6,24.9 400.33,24.91 401.3,24.92 402.44,24.92 403.73,24.93 405.1,24.94 406.51,24.96 407.92,25 409.26,25.05 410.51,25.11 411.6,25.2 412.58,25.3 413.53,25.42 414.44,25.55 415.3,25.69 416.13,25.84 416.92,26.02 417.66,26.21 418.35,26.42 419,26.65 419.6,26.9 420.14,27.17 420.62,27.46 421.03,27.76 421.41,28.08 421.74,28.42 422.04,28.79 422.32,29.18 422.58,29.59 422.84,30.03 423.1,30.5 423.35,30.98 423.58,31.44 423.78,31.92 423.97,32.41 424.14,32.94 424.3,33.51 424.46,34.15 424.61,34.87 424.75,35.68 424.9,36.6 425.04,37.6 425.17,38.64 425.29,39.74 425.4,40.91 425.51,42.16 425.62,43.5 425.73,44.95 425.84,46.51 425.97,48.19 426.1,50 426.25,51.98 426.4,54.14 426.56,56.45 426.73,58.88 426.89,61.39 427.06,63.97 427.23,66.58 427.39,69.19 427.55,71.77 427.7,74.3 427.84,76.9 427.97,79.66 428.09,82.53 428.2,85.44 428.32,88.31 428.44,91.08 428.56,93.68 428.69,96.04 428.84,98.11 429,99.8 429.18,101.09 429.39,102.01 429.61,102.64 429.84,103.04 430.07,103.27 430.3,103.39 430.53,103.46 430.74,103.54 430.93,103.7 431.1,104 431.18,104.4 431.14,104.82 431.02,105.24 430.88,105.66 430.76,106.06 430.71,106.45 430.77,106.8 430.99,107.12 431.42,107.39 432.1,107.6 433.06,107.75 434.27,107.83 435.68,107.86 437.26,107.86 438.94,107.82 440.7,107.77 442.49,107.71 444.27,107.66 445.98,107.62 447.6,107.6 449.22,107.62 450.93,107.66 452.71,107.71 454.5,107.77 456.26,107.82 457.94,107.86 459.52,107.86 460.93,107.83 462.14,107.75 463.1,107.6 463.78,107.39 464.21,107.12 464.43,106.8 464.49,106.45 464.44,106.06 464.32,105.66 464.18,105.24 464.06,104.82 464.02,104.4 464.1,104 464.27,103.7 464.46,103.54 464.67,103.46 464.9,103.39 465.13,103.27 465.36,103.04 465.59,102.64 465.81,102.01 466.02,101.09 466.2,99.8 466.36,98.11 466.51,96.04 466.64,93.68 466.76,91.08 466.88,88.31 467,85.44 467.11,82.53 467.23,79.66 467.36,76.9 467.5,74.3 467.65,71.77 467.81,69.19 467.97,66.58 468.14,63.97 468.31,61.39 468.47,58.88 468.64,56.45 468.8,54.14 468.95,51.98 469.1,50 469.23,48.19 469.36,46.51 469.47,44.95 469.58,43.5 469.69,42.16 469.8,40.91 469.91,39.74 470.03,38.64 470.16,37.6 470.3,36.6 470.45,35.68 470.59,34.87 470.74,34.15 470.9,33.51 471.06,32.94 471.23,32.41 471.42,31.92 471.62,31.44 471.85,30.98 472.1,30.5 472.36,30.03 472.62,29.59 472.88,29.18 473.16,28.79 473.46,28.43 473.79,28.08 474.17,27.76 474.58,27.46 475.06,27.17 475.6,26.9 476.2,26.65 476.85,26.42 477.54,26.21 478.28,26.02 479.07,25.84 479.9,25.69 480.76,25.55 481.67,25.42 482.62,25.3 483.6,25.2 484.69,25.11 485.94,25.05 487.28,25 488.69,24.96 490.1,24.94 491.47,24.93 492.76,24.92 493.9,24.92 494.87,24.91 495.6,24.9" fill="none" stroke="#800080" stroke-width="0.85" stroke-linejoin="round"/>
<polygon points="397.76,24.9 400.8,23.14 400.8,26.66" fill="#800080" stroke="#800080" stroke-width="0.5"/>
<polygon points="399.46,24.92 402.5,23.16 402.5,26.68" fill="#800080" stroke="#800080" stroke-width="0.5"/>
<polygon points="401.89,24.93 404.93,23.17 404.93,26.69" fill="#800080" stroke="#800080" stroke-width="0.5"/>
<polygon points="403.26,24.94 406.3,23.18 406.3,26.7" fill="#800080" stroke="#800080" stroke-width="0.5"/>
<polygon points="404.67,24.96 407.71,23.2 407.71,26.72" fill="#800080" stroke="#800080" stroke-width="0.5"/>
<polygon points="406.08,25 409.12,23.24 409.12,26.76" fill="#800080" stroke="#800080" stroke-width="0.5"/>
<polygon points="407.42,25.05 410.46,23.29 410.46,26.81" fill="#800080" stroke="#800080" stroke-width="0.5"/>
<polygon points="409.76,25.2 412.8,23.44 412.8,26.96" fill="#800080" stroke="#800080" stroke-width="0.5"/>
<polygon points="411.69,25.42 414.73,23.66 414.73,27.18" fill="#800080" stroke="#800080" stroke-width="0.5"/>
<polygon points="413.46,25.69 416.5,23.93 416.5,27.45" fill="#800080" stroke="#800080" stroke-width="0.5"/>
<polygon points="415.08,26.02 418.12,24.26 418.12,27.78" fill="#800080" stroke="#800080" stroke-width="0.5"/>
<polygon points="416.51,26.42 419.55,24.66 419.55,28.18" fill="#800080" stroke="#800080" stroke-width="0.5"/>
<polygon points="418.3,27.17 421.34,25.41 421.34,28.93" fill="#800080" stroke="#800080" stroke-width="0.5"/>
<polygon points="419.9,28.42 422.94,26.66 422.94,30.18" fill="#800080" stroke="#800080" stroke-width="0.5"/>
<polygon points="421.26,30.5 424.3,28.74 424.3,32.26" fill="#800080" stroke="#800080" stroke-width="0.5"/>
<polygon points="422.62,34.15 425.66,32.39 425.66,35.91" fill="#800080" stroke="#800080" stroke-width="0.5"/>
<polygon points="424,46.51 427.04,44.75 427.04,48.27" fill="#800080" stroke="#800080" stroke-width="0.5"/>
<polygon points="424.89,58.88 427.93,57.12 427.93,60.64" fill="#800080" stroke="#800080" stroke-width="0.5"/>
<polygon points="425.71,71.77 428.75,70.01 428.75,73.53" fill="#800080" stroke="#800080" stroke-width="0.5"/>
<polygon points="426.36,85.44 429.4,83.68 429.4,87.2" fill="#800080" stroke="#800080" stroke-width="0.5"/>
<polygon points="427,98.11 430.04,96.35 430.04,99.87" fill="#800080" stroke="#800080" stroke-width="0.5"/>
<polygon points="428.46,103.39 431.5,101.63 431.5,105.15" fill="#800080" stroke="#800080" stroke-width="0.5"/>
<polygon points="428.87,106.45 431.91,104.69 431.91,108.21" fill="#800080" stroke="#800080" stroke-width="0.5"/>
<polygon points="430.26,107.6 433.3,105.84 433.3,109.36" fill="#800080" stroke="#800080" stroke-width="0.5"/>
<polygon points="432.43,107.83 435.47,106.07 435.47,109.59" fill="#800080" stroke="#800080" stroke-width="0.5"/>
<polygon points="433.84,107.86 436.88,106.1 436.88,109.62" fill="#800080" stroke="#800080" stroke-width="0.5"/>
<polygon points="435.42,107.86 438.46,106.1 438.46,109.62" fill="#800080" stroke="#800080" stroke-width="0.5"/>
<polygon points="437.1,107.82 440.14,106.06 440.14,109.58" fill="#800080" stroke="#800080" stroke-width="0.5"/>
<polygon points="438.86,107.77 441.9,106.01 441.9,109.53" fill="#800080" stroke="#800080" stroke-width="0.5"/>
<polygon points="440.65,107.71 443.69,105.95 443.69,109.47" fill="#800080" stroke="#800080" stroke-width="0.5"/>
<polygon points="442.43,107.66 445.47,105.9 445.47,109.42" fill="#800080" stroke="#800080" stroke-width="0.5"/>
<polygon points="444.14,107.62 447.18,105.86 447.18,109.38" fill="#800080" stroke="#800080" stroke-width="0.5"/>
<polygon points="445.76,107.6 448.8,105.84 448.8,109.36" fill="#800080" stroke="#800080" stroke-width="0.5"/>
<polygon points="447.38,107.62 450.42,105.86 450.42,109.38" fill="#800080" stroke="#800080" stroke-width="0.5"/>
<polygon points="449.09,107.66 452.13,105.9 452.13,109.42" fill="#800080" stroke="#800080" stroke-width="0.5"/>
<polygon points="450.87,107.71 453.91,105.95 453.91,109.47" fill="#800080" stroke="#800080" stroke-width="0.5"/>
<polygon points="452.66,107.77 455.7,106.01 455.7,109.53" fill="#800080" stroke="#800080" stroke-width="0.5"/>
<polygon points="454.42,107.82 457.46,106.06 457.46,109.58" fill="#800080" stroke="#800080" stroke-width="0.5"/>
<polygon points="456.1,107.86 459.14,106.1 459.14,109.62" fill="#800080" stroke="#800080" stroke-width="0.5"/>
<polygon points="457.68,107.86 460.72,106.1 460.72,109.62" fill="#800080" stroke="#800080" stroke-width="0.5"/>
<polygon points="459.09,107.83 462.13,106.07 462.13,109.59" fill="#800080" stroke="#800080" stroke-width="0.5"/>
<polygon points="461.26,107.6 464.3,105.84 464.3,109.36" fill="#800080" stroke="#800080" stroke-width="0.5"/>
<polygon points="462.59,106.8 465.63,105.04 465.63,108.56" fill="#800080" stroke="#800080" stroke-width="0.5"/>
<polygon points="463.06,103.39 466.1,101.63 466.1,105.15" fill="#800080" stroke="#800080" stroke-width="0.5"/>
<polygon points="464.36,99.8 467.4,98.04 467.4,101.56" fill="#800080" stroke="#800080" stroke-width="0.5"/>
<polygon points="465.16,85.44 468.2,83.68 468.2,87.2" fill="#800080" stroke="#800080" stroke-width="0.5"/>
<polygon points="465.81,71.77 468.85,70.01 468.85,73.53" fill="#800080" stroke="#800080" stroke-width="0.5"/>
<polygon points="466.63,58.88 469.67,57.12 469.67,60.64" fill="#800080" stroke="#800080" stroke-width="0.5"/>
<polygon points="467.52,46.51 470.56,44.75 470.56,48.27" fill="#800080" stroke="#800080" stroke-width="0.5"/>
<polygon points="468.75,34.87 471.79,33.11 471.79,36.63" fill="#800080" stroke="#800080" stroke-width="0.5"/>
<polygon points="470.26,30.5 473.3,28.74 473.3,32.26" fill="#800080" stroke="#800080" stroke-width="0.5"/>
<polygon points="471.62,28.43 474.66,26.66 474.66,30.19" fill="#800080" stroke="#800080" stroke-width="0.5"/>
<polygon points="473.22,27.17 476.26,25.41 476.26,28.93" fill="#800080" stroke="#800080" stroke-width="0.5"/>
<polygon points="475.01,26.42 478.05,24.66 478.05,28.18" fill="#800080" stroke="#800080" stroke-width="0.5"/>
<polygon points="476.44,26.02 479.48,24.26 479.48,27.78" fill="#800080" stroke="#800080" stroke-width="0.5"/>
<polygon points="478.06,25.69 481.1,23.93 481.1,27.45" fill="#800080" stroke="#800080" stroke-width="0.5"/>
<polygon points="479.83,25.42 482.87,23.66 482.87,27.18" fill="#800080" stroke="#800080" stroke-width="0.5"/>
<polygon points="481.76,25.2 484.8,23.44 484.8,26.96" fill="#800080" stroke="#800080" stroke-width="0.5"/>
<polygon points="484.1,25.05 487.14,23.29 487.14,26.81" fill="#800080" stroke="#800080" stroke-width="0.5"/>
<polygon points="485.44,25 488.48,23.24 488.48,26.76" fill="#800080" stroke="#800080" stroke-width="0.5"/>
<polygon points="486.85,24.96 489.89,23.2 489.89,26.72" fill="#800080" stroke="#800080" stroke-width="0.5"/>
<polygon points="488.26,24.94 491.3,23.18 491.3,26.7" fill="#800080" stroke="#800080" stroke-width="0.5"/>
<polygon points="489.63,24.93 492.67,23.17 492.67,26.69" fill="#800080" stroke="#800080" stroke-width="0.5"/>
<polygon points="492.06,24.92 495.1,23.16 495.1,26.68" fill="#800080" stroke="#800080" stroke-width="0.5"/>
<polygon points="493.76,24.9 496.8,23.14 496.8,26.66" fill="#800080" stroke="#800080" stroke-width="0.5"/>
<polyline points="399.6,24.5 400.98,24.54 402.85,24.59 405.1,24.65 407.6,24.72 410.24,24.79 412.92,24.88 415.51,24.97 417.89,25.07 419.96,25.18 421.6,25.3 422.84,25.43 423.81,25.57 424.57,25.72 425.14,25.88 425.59,26.04 425.94,26.22 426.24,26.4 426.54,26.59 426.88,26.79 427.3,27 427.77,27.21 428.22,27.43 428.66,27.66 429.08,27.89 429.48,28.14 429.86,28.39 430.21,28.65 430.54,28.92 430.83,29.21 431.1,29.5 431.33,29.76 431.52,29.95 431.67,30.11 431.8,30.28 431.91,30.47 432,30.72 432.07,31.07 432.15,31.55 432.22,32.18 432.3,33 432.38,34.03 432.44,35.23 432.49,36.59 432.53,38.08 432.57,39.66 432.6,41.3 432.64,42.99 432.69,44.69 432.74,46.37 432.8,48 432.88,49.62 432.96,51.29 433.05,52.98 433.15,54.7 433.25,56.44 433.35,58.18 433.45,59.91 433.54,61.63 433.62,63.33 433.7,65 433.76,66.66 433.82,68.34 433.86,70.02 433.9,71.69 433.94,73.34 433.98,74.97 434.02,76.56 434.07,78.1 434.13,79.59 434.2,81 434.29,82.35 434.38,83.64 434.49,84.88 434.6,86.08 434.71,87.23 434.83,88.35 434.95,89.43 435.07,90.48 435.19,91.5 435.3,92.5 435.41,93.48 435.52,94.43 435.63,95.35 435.74,96.25 435.84,97.11 435.95,97.93 436.06,98.71 436.17,99.45 436.29,100.15 436.4,100.8 436.52,101.39 436.64,101.93 436.76,102.41 436.88,102.85 437.01,103.26 437.13,103.63 437.25,103.99 437.37,104.33 437.49,104.66 437.6,105 437.67,105.34 437.68,105.66 437.66,105.98 437.63,106.28 437.61,106.56 437.63,106.82 437.72,107.06 437.89,107.27 438.18,107.45 438.6,107.6 439.18,107.71 439.89,107.77 440.71,107.79 441.62,107.79 442.6,107.76 443.62,107.72 444.65,107.68 445.67,107.64 446.66,107.61 447.6,107.6 448.54,107.61 449.53,107.64 450.55,107.68 451.58,107.72 452.6,107.76 453.58,107.79 454.49,107.79 455.31,107.77 456.02,107.71 456.6,107.6 457.02,107.45 457.31,107.27 457.48,107.06 457.57,106.82 457.59,106.56 457.57,106.28 457.54,105.98 457.52,105.66 457.53,105.34 457.6,105 457.71,104.66 457.83,104.33 457.95,103.99 458.07,103.63 458.19,103.26 458.32,102.85 458.44,102.41 458.56,101.93 458.68,101.39 458.8,100.8 458.91,100.15 459.03,99.45 459.14,98.71 459.25,97.93 459.36,97.11 459.46,96.25 459.57,95.35 459.68,94.43 459.79,93.48 459.9,92.5 460.01,91.5 460.13,90.48 460.25,89.43 460.37,88.35 460.49,87.23 460.6,86.08 460.71,84.88 460.82,83.64 460.91,82.35 461,81 461.07,79.59 461.13,78.1 461.18,76.56 461.22,74.97 461.26,73.34 461.3,71.69 461.34,70.02 461.38,68.34 461.44,66.66 461.5,65 461.58,63.33 461.66,61.63 461.75,59.91 461.85,58.18 461.95,56.44 462.05,54.7 462.15,52.98 462.24,51.29 462.32,49.62 462.4,48 462.46,46.37 462.51,44.69 462.56,42.99 462.6,41.3 462.63,39.66 462.67,38.08 462.71,36.59 462.76,35.23 462.82,34.03 462.9,33 462.98,32.18 463.05,31.55 463.13,31.07 463.2,30.72 463.29,30.47 463.4,30.28 463.53,30.11 463.68,29.95 463.87,29.76 464.1,29.5 464.37,29.21 464.66,28.92 464.99,28.65 465.34,28.39 465.72,28.14 466.12,27.89 466.54,27.66 466.98,27.43 467.43,27.21 467.9,27 468.32,26.79 468.66,26.59 468.96,26.4 469.26,26.22 469.61,26.04 470.06,25.88 470.63,25.72 471.39,25.57 472.36,25.43 473.6,25.3 475.24,25.18 477.31,25.07 479.69,24.97 482.28,24.88 484.96,24.79 487.6,24.72 490.1,24.65 492.35,24.59 494.22,24.54 495.6,24.5" fill="none" stroke="#808000" stroke-width="0.85" stroke-linejoin="round"/>
<polygon points="399.6,22.42 401.68,24.5 399.6,26.58 397.52,24.5" fill="#808000" stroke="#808000" stroke-width="0.5"/>
<polygon points="400.98,22.46 403.06,24.54 400.98,26.62 398.9,24.54" fill="#808000" stroke="#808000" stroke-width="0.5"/>
<polygon points="402.85,22.51 404.93,24.59 402.85,26.67 400.77,24.59" fill="#808000" stroke="#808000" stroke-width="0.5"/>
<polygon points="405.1,22.57 407.18,24.65 405.1,26.73 403.02,24.65" fill="#808000" stroke="#808000" stroke-width="0.5"/>
<polygon points="407.6,22.64 409.68,24.72 407.6,26.8 405.52,24.72" fill="#808000" stroke="#808000" stroke-width="0.5"/>
<polygon points="410.24,22.71 412.32,24.79 410.24,26.87 408.16,24.79" fill="#808000" stroke="#808000" stroke-width="0.5"/>
<polygon points="412.92,22.8 415,24.88 412.92,26.96 410.84,24.88" fill="#808000" stroke="#808000" stroke-width="0.5"/>
<polygon points="415.51,22.89 417.59,24.97 415.51,27.05 413.43,24.97" fill="#808000" stroke="#808000" stroke-width="0.5"/>
<polygon points="417.89,22.99 419.97,25.07 417.89,27.15 415.81,25.07" fill="#808000" stroke="#808000" stroke-width="0.5"/>
<polygon points="419.96,23.1 422.04,25.18 419.96,27.26 417.88,25.18" fill="#808000" stroke="#808000" stroke-width="0.5"/>
<polygon points="421.6,23.22 423.68,25.3 421.6,27.38 419.52,25.3" fill="#808000" stroke="#808000" stroke-width="0.5"/>
<polygon points="423.81,23.49 425.89,25.57 423.81,27.65 421.73,25.57" fill="#808000" stroke="#808000" stroke-width="0.5"/>
<polygon points="425.14,23.8 427.22,25.88 425.14,27.96 423.06,25.88" fill="#808000" stroke="#808000" stroke-width="0.5"/>
<polygon points="426.54,24.51 428.62,26.59 426.54,28.67 424.46,26.59" fill="#808000" stroke="#808000" stroke-width="0.5"/>
<polygon points="428.22,25.35 430.3,27.43 428.22,29.51 426.14,27.43" fill="#808000" stroke="#808000" stroke-width="0.5"/>
<polygon points="429.86,26.31 431.94,28.39 429.86,30.47 427.78,28.39" fill="#808000" stroke="#808000" stroke-width="0.5"/>
<polygon points="431.33,27.68 433.41,29.76 431.33,31.84 429.25,29.76" fill="#808000" stroke="#808000" stroke-width="0.5"/>
<polygon points="432.6,39.22 434.68,41.3 432.6,43.38 430.52,41.3" fill="#808000" stroke="#808000" stroke-width="0.5"/>
<polygon points="433.05,50.9 435.13,52.98 433.05,55.06 430.97,52.98" fill="#808000" stroke="#808000" stroke-width="0.5"/>
<polygon points="433.7,62.92 435.78,65 433.7,67.08 431.62,65" fill="#808000" stroke="#808000" stroke-width="0.5"/>
<polygon points="434.02,74.48 436.1,76.56 434.02,78.64 431.94,76.56" fill="#808000" stroke="#808000" stroke-width="0.5"/>
<polygon points="434.83,86.27 436.91,88.35 434.83,90.43 432.75,88.35" fill="#808000" stroke="#808000" stroke-width="0.5"/>
<polygon points="436.17,97.37 438.25,99.45 436.17,101.53 434.09,99.45" fill="#808000" stroke="#808000" stroke-width="0.5"/>
<polygon points="437.49,102.58 439.57,104.66 437.49,106.74 435.41,104.66" fill="#808000" stroke="#808000" stroke-width="0.5"/>
<polygon points="439.18,105.63 441.26,107.71 439.18,109.79 437.1,107.71" fill="#808000" stroke="#808000" stroke-width="0.5"/>
<polygon points="440.71,105.71 442.79,107.79 440.71,109.87 438.63,107.79" fill="#808000" stroke="#808000" stroke-width="0.5"/>
<polygon points="442.6,105.68 444.68,107.76 442.6,109.84 440.52,107.76" fill="#808000" stroke="#808000" stroke-width="0.5"/>
<polygon points="444.65,105.6 446.73,107.68 444.65,109.76 442.57,107.68" fill="#808000" stroke="#808000" stroke-width="0.5"/>
<polygon points="446.66,105.53 448.74,107.61 446.66,109.69 444.58,107.61" fill="#808000" stroke="#808000" stroke-width="0.5"/>
<polygon points="448.54,105.53 450.62,107.61 448.54,109.69 446.46,107.61" fill="#808000" stroke="#808000" stroke-width="0.5"/>
<polygon points="450.55,105.6 452.63,107.68 450.55,109.76 448.47,107.68" fill="#808000" stroke="#808000" stroke-width="0.5"/>
<polygon points="452.6,105.68 454.68,107.76 452.6,109.84 450.52,107.76" fill="#808000" stroke="#808000" stroke-width="0.5"/>
<polygon points="454.49,105.71 456.57,107.79 454.49,109.87 452.41,107.79" fill="#808000" stroke="#808000" stroke-width="0.5"/>
<polygon points="456.02,105.63 458.1,107.71 456.02,109.79 453.94,107.71" fill="#808000" stroke="#808000" stroke-width="0.5"/>
<polygon points="457.48,104.98 459.56,107.06 457.48,109.14 455.4,107.06" fill="#808000" stroke="#808000" stroke-width="0.5"/>
<polygon points="458.68,99.31 460.76,101.39 458.68,103.47 456.6,101.39" fill="#808000" stroke="#808000" stroke-width="0.5"/>
<polygon points="460.01,89.42 462.09,91.5 460.01,93.58 457.93,91.5" fill="#808000" stroke="#808000" stroke-width="0.5"/>
<polygon points="461.07,77.51 463.15,79.59 461.07,81.67 458.99,79.59" fill="#808000" stroke="#808000" stroke-width="0.5"/>
<polygon points="461.44,64.58 463.52,66.66 461.44,68.74 459.36,66.66" fill="#808000" stroke="#808000" stroke-width="0.5"/>
<polygon points="462.05,52.62 464.13,54.7 462.05,56.78 459.97,54.7" fill="#808000" stroke="#808000" stroke-width="0.5"/>
<polygon points="462.56,40.91 464.64,42.99 462.56,45.07 460.48,42.99" fill="#808000" stroke="#808000" stroke-width="0.5"/>
<polygon points="463.13,28.99 465.21,31.07 463.13,33.15 461.05,31.07" fill="#808000" stroke="#808000" stroke-width="0.5"/>
<polygon points="464.66,26.84 466.74,28.92 464.66,31 462.58,28.92" fill="#808000" stroke="#808000" stroke-width="0.5"/>
<polygon points="466.12,25.81 468.2,27.89 466.12,29.97 464.04,27.89" fill="#808000" stroke="#808000" stroke-width="0.5"/>
<polygon points="467.43,25.13 469.51,27.21 467.43,29.29 465.35,27.21" fill="#808000" stroke="#808000" stroke-width="0.5"/>
<polygon points="468.96,24.32 471.04,26.4 468.96,28.48 466.88,26.4" fill="#808000" stroke="#808000" stroke-width="0.5"/>
<polygon points="470.63,23.64 472.71,25.72 470.63,27.8 468.55,25.72" fill="#808000" stroke="#808000" stroke-width="0.5"/>
<polygon points="472.36,23.35 474.44,25.43 472.36,27.51 470.28,25.43" fill="#808000" stroke="#808000" stroke-width="0.5"/>
<polygon points="475.24,23.1 477.32,25.18 475.24,27.26 473.16,25.18" fill="#808000" stroke="#808000" stroke-width="0.5"/>
<polygon points="477.31,22.99 479.39,25.07 477.31,27.15 475.23,25.07" fill="#808000" stroke="#808000" stroke-width="0.5"/>
<polygon points="479.69,22.89 481.77,24.97 479.69,27.05 477.61,24.97" fill="#808000" stroke="#808000" stroke-width="0.5"/>
<polygon points="482.28,22.8 484.36,24.88 482.28,26.96 480.2,24.88" fill="#808000" stroke="#808000" stroke-width="0.5"/>
<polygon points="484.96,22.71 487.04,24.79 484.96,26.87 482.88,24.79" fill="#808000" stroke="#808000" stroke-width="0.5"/>
<polygon points="487.6,22.64 489.68,24.72 487.6,26.8 485.52,24.72" fill="#808000" stroke="#808000" stroke-width="0.5"/>
<polygon points="490.1,22.57 492.18,24.65 490.1,26.73 488.02,24.65" fill="#808000" stroke="#808000" stroke-width="0.5"/>
<polygon points="492.35,22.51 494.43,24.59 492.35,26.67 490.27,24.59" fill="#808000" stroke="#808000" stroke-width="0.5"/>
<polygon points="494.22,22.46 496.3,24.54 494.22,26.62 492.14,24.54" fill="#808000" stroke="#808000" stroke-width="0.5"/>
<polygon points="495.6,22.42 497.68,24.5 495.6,26.58 493.52,24.5" fill="#808000" stroke="#808000" stroke-width="0.5"/>
<polyline points="399.6,24.1 401.76,24.14 404.72,24.18 408.28,24.23 412.24,24.29 416.41,24.36 420.6,24.43 424.61,24.51 428.24,24.6 431.3,24.69 433.6,24.8 435.16,24.91 436.2,25.02 436.8,25.14 437.07,25.26 437.09,25.39 436.95,25.54 436.74,25.7 436.55,25.88 436.47,26.08 436.6,26.3 436.86,26.51 437.12,26.68 437.37,26.84 437.61,27.01 437.85,27.21 438.07,27.47 438.28,27.8 438.48,28.24 438.65,28.8 438.8,29.5 438.92,30.33 439.02,31.24 439.1,32.24 439.16,33.33 439.2,34.51 439.24,35.8 439.27,37.19 439.31,38.68 439.35,40.28 439.4,42 439.46,43.9 439.52,46.02 439.57,48.32 439.63,50.73 439.69,53.22 439.75,55.73 439.81,58.21 439.87,60.62 439.93,62.9 440,65 440.07,66.96 440.15,68.85 440.23,70.67 440.31,72.42 440.39,74.12 440.47,75.78 440.55,77.38 440.64,78.95 440.72,80.49 440.8,82 440.88,83.49 440.96,84.94 441.04,86.36 441.12,87.75 441.19,89.09 441.27,90.38 441.35,91.62 441.43,92.81 441.52,93.94 441.6,95 441.69,95.99 441.78,96.91 441.87,97.76 441.97,98.55 442.06,99.3 442.16,100.01 442.25,100.68 442.34,101.33 442.42,101.97 442.5,102.6 442.55,103.23 442.58,103.85 442.58,104.45 442.57,105.03 442.57,105.57 442.59,106.08 442.64,106.55 442.74,106.96 442.88,107.31 443.1,107.6 443.39,107.8 443.75,107.92 444.16,107.97 444.62,107.96 445.11,107.91 445.61,107.84 446.13,107.76 446.64,107.68 447.13,107.62 447.6,107.6 448.07,107.62 448.56,107.68 449.07,107.76 449.59,107.84 450.09,107.91 450.58,107.96 451.04,107.97 451.45,107.92 451.81,107.8 452.1,107.6 452.32,107.31 452.46,106.96 452.56,106.55 452.61,106.08 452.62,105.57 452.63,105.03 452.62,104.45 452.62,103.85 452.65,103.23 452.7,102.6 452.78,101.97 452.86,101.33 452.95,100.68 453.04,100.01 453.14,99.3 453.23,98.55 453.33,97.76 453.42,96.91 453.51,95.99 453.6,95 453.68,93.94 453.77,92.81 453.85,91.62 453.93,90.38 454.01,89.09 454.08,87.75 454.16,86.36 454.24,84.94 454.32,83.49 454.4,82 454.48,80.49 454.56,78.95 454.65,77.38 454.73,75.78 454.81,74.12 454.89,72.42 454.97,70.67 455.05,68.85 455.13,66.96 455.2,65 455.27,62.9 455.33,60.62 455.39,58.21 455.45,55.73 455.51,53.22 455.57,50.73 455.63,48.32 455.68,46.02 455.74,43.9 455.8,42 455.85,40.28 455.89,38.68 455.93,37.19 455.96,35.8 456,34.51 456.04,33.33 456.1,32.24 456.18,31.24 456.28,30.33 456.4,29.5 456.55,28.8 456.72,28.24 456.92,27.8 457.13,27.47 457.35,27.21 457.59,27.01 457.83,26.84 458.08,26.68 458.34,26.51 458.6,26.3 458.73,26.08 458.65,25.88 458.46,25.7 458.25,25.54 458.11,25.39 458.13,25.26 458.4,25.14 459,25.02 460.04,24.91 461.6,24.8 463.9,24.69 466.96,24.6 470.59,24.51 474.6,24.43 478.79,24.36 482.96,24.29 486.92,24.23 490.48,24.18 493.44,24.14 495.6,24.1" fill="none" stroke="#0000f0" stroke-width="0.85" stroke-linejoin="round"/>
<polygon points="399.6,25.94 401.36,22.9 397.84,22.9" fill="#0000f0" stroke="#0000f0" stroke-width="0.5"/>
<polygon points="401.76,25.98 403.52,22.94 400,22.94" fill="#0000f0" stroke="#0000f0" stroke-width="0.5"/>
<polygon points="404.72,26.02 406.48,22.98 402.96,22.98" fill="#0000f0" stroke="#0000f0" stroke-width="0.5"/>
<polygon points="408.28,26.07 410.04,23.03 406.52,23.03" fill="#0000f0" stroke="#0000f0" stroke-width="0.5"/>
<polygon points="412.24,26.13 414,23.09 410.48,23.09" fill="#0000f0" stroke="#0000f0" stroke-width="0.5"/>
<polygon points="416.41,26.2 418.17,23.16 414.65,23.16" fill="#0000f0" stroke="#0000f0" stroke-width="0.5"/>
<polygon points="420.6,26.27 422.36,23.23 418.84,23.23" fill="#0000f0" stroke="#0000f0" stroke-width="0.5"/>
<polygon points="424.61,26.35 426.37,23.31 422.85,23.31" fill="#0000f0" stroke="#0000f0" stroke-width="0.5"/>
<polygon points="428.24,26.44 430,23.4 426.48,23.4" fill="#0000f0" stroke="#0000f0" stroke-width="0.5"/>
<polygon points="431.3,26.53 433.06,23.49 429.54,23.49" fill="#0000f0" stroke="#0000f0" stroke-width="0.5"/>
<polygon points="433.6,26.64 435.36,23.6 431.84,23.6" fill="#0000f0" stroke="#0000f0" stroke-width="0.5"/>
<polygon points="435.16,26.75 436.92,23.71 433.4,23.71" fill="#0000f0" stroke="#0000f0" stroke-width="0.5"/>
<polygon points="436.8,26.98 438.56,23.94 435.04,23.94" fill="#0000f0" stroke="#0000f0" stroke-width="0.5"/>
<polygon points="437.12,28.52 438.88,25.48 435.36,25.48" fill="#0000f0" stroke="#0000f0" stroke-width="0.5"/>
<polygon points="438.48,30.08 440.24,27.04 436.72,27.04" fill="#0000f0" stroke="#0000f0" stroke-width="0.5"/>
<polygon points="439.35,42.12 441.11,39.08 437.59,39.08" fill="#0000f0" stroke="#0000f0" stroke-width="0.5"/>
<polygon points="439.69,55.06 441.45,52.02 437.93,52.02" fill="#0000f0" stroke="#0000f0" stroke-width="0.5"/>
<polygon points="440,66.84 441.76,63.8 438.24,63.8" fill="#0000f0" stroke="#0000f0" stroke-width="0.5"/>
<polygon points="440.55,79.22 442.31,76.18 438.79,76.18" fill="#0000f0" stroke="#0000f0" stroke-width="0.5"/>
<polygon points="441.19,90.93 442.95,87.89 439.43,87.89" fill="#0000f0" stroke="#0000f0" stroke-width="0.5"/>
<polygon points="442.25,102.52 444.01,99.48 440.49,99.48" fill="#0000f0" stroke="#0000f0" stroke-width="0.5"/>
<polygon points="443.75,109.76 445.51,106.72 441.99,106.72" fill="#0000f0" stroke="#0000f0" stroke-width="0.5"/>
<polygon points="445.11,109.75 446.87,106.71 443.35,106.71" fill="#0000f0" stroke="#0000f0" stroke-width="0.5"/>
<polygon points="446.64,109.52 448.4,106.48 444.88,106.48" fill="#0000f0" stroke="#0000f0" stroke-width="0.5"/>
<polygon points="448.07,109.46 449.83,106.42 446.31,106.42" fill="#0000f0" stroke="#0000f0" stroke-width="0.5"/>
<polygon points="449.59,109.68 451.35,106.64 447.83,106.64" fill="#0000f0" stroke="#0000f0" stroke-width="0.5"/>
<polygon points="451.04,109.81 452.8,106.77 449.28,106.77" fill="#0000f0" stroke="#0000f0" stroke-width="0.5"/>
<polygon points="452.46,108.8 454.22,105.76 450.7,105.76" fill="#0000f0" stroke="#0000f0" stroke-width="0.5"/>
<polygon points="453.6,96.84 455.36,93.8 451.84,93.8" fill="#0000f0" stroke="#0000f0" stroke-width="0.5"/>
<polygon points="454.32,85.33 456.08,82.29 452.56,82.29" fill="#0000f0" stroke="#0000f0" stroke-width="0.5"/>
<polygon points="454.97,72.51 456.73,69.47 453.21,69.47" fill="#0000f0" stroke="#0000f0" stroke-width="0.5"/>
<polygon points="455.39,60.05 457.15,57.01 453.63,57.01" fill="#0000f0" stroke="#0000f0" stroke-width="0.5"/>
<polygon points="455.68,47.86 457.44,44.82 453.92,44.82" fill="#0000f0" stroke="#0000f0" stroke-width="0.5"/>
<polygon points="456,36.35 457.76,33.31 454.24,33.31" fill="#0000f0" stroke="#0000f0" stroke-width="0.5"/>
<polygon points="457.35,29.05 459.11,26.01 455.59,26.01" fill="#0000f0" stroke="#0000f0" stroke-width="0.5"/>
<polygon points="458.73,27.92 460.49,24.88 456.97,24.88" fill="#0000f0" stroke="#0000f0" stroke-width="0.5"/>
<polygon points="459,26.86 460.76,23.82 457.24,23.82" fill="#0000f0" stroke="#0000f0" stroke-width="0.5"/>
<polygon points="461.6,26.64 463.36,23.6 459.84,23.6" fill="#0000f0" stroke="#0000f0" stroke-width="0.5"/>
<polygon points="463.9,26.53 465.66,23.49 462.14,23.49" fill="#0000f0" stroke="#0000f0" stroke-width="0.5"/>
<polygon points="466.96,26.44 468.72,23.4 465.2,23.4" fill="#0000f0" stroke="#0000f0" stroke-width="0.5"/>
<polygon points="470.59,26.35 472.35,23.31 468.83,23.31" fill="#0000f0" stroke="#0000f0" stroke-width="0.5"/>
<polygon points="474.6,26.27 476.36,23.23 472.84,23.23" fill="#0000f0" stroke="#0000f0" stroke-width="0.5"/>
<polygon points="478.79,26.2 480.55,23.16 477.03,23.16" fill="#0000f0" stroke="#0000f0" stroke-width="0.5"/>
<polygon points="482.96,26.13 484.72,23.09 481.2,23.09" fill="#0000f0" stroke="#0000f0" stroke-width="0.5"/>
<polygon points="486.92,26.07 488.68,23.03 485.16,23.03" fill="#0000f0" stroke="#0000f0" stroke-width="0.5"/>
<polygon points="490.48,26.02 492.24,22.98 488.72,22.98" fill="#0000f0" stroke="#0000f0" stroke-width="0.5"/>
<polygon points="493.44,25.98 495.2,22.94 491.68,22.94" fill="#0000f0" stroke="#0000f0" stroke-width="0.5"/>
<polygon points="495.6,25.94 497.36,22.9 493.84,22.9" fill="#0000f0" stroke="#0000f0" stroke-width="0.5"/>
<polyline points="399.6,22.9 402.15,22.92 405.63,22.93 409.83,22.94 414.5,22.95 419.41,22.97 424.34,23.01 429.06,23.05 433.33,23.11 436.92,23.19 439.6,23.3 441.41,23.43 442.6,23.57" fill="none" stroke="#00ee00" stroke-width="2" stroke-linejoin="round"/>
<polyline points="452.6,23.57 453.79,23.43 455.6,23.3 458.28,23.19 461.87,23.11 466.14,23.05 470.86,23.01 475.79,22.97 480.7,22.95 485.37,22.94 489.57,22.93 493.05,22.92 495.6,22.9" fill="none" stroke="#00ee00" stroke-width="2" stroke-linejoin="round"/>
<polyline points="399.6,22.9 402.15,22.92 405.63,22.93 409.83,22.94 414.5,22.95 419.41,22.97 424.34,23.01 429.06,23.05 433.33,23.11 436.92,23.19 439.6,23.3 441.41,23.43 442.6,23.57 443.28,23.73 443.56,23.9 443.53,24.09 443.31,24.3 443.01,24.52 442.71,24.77 442.54,25.02 442.6,25.3 442.79,25.57 442.94,25.81 443.06,26.06 443.16,26.31 443.24,26.59 443.32,26.91 443.4,27.3 443.48,27.77 443.58,28.33 443.7,29 443.84,29.76 443.99,30.59 444.15,31.48 444.32,32.44 444.49,33.48 444.65,34.6 444.81,35.81 444.96,37.11 445.09,38.5 445.2,40 445.29,41.55 445.37,43.1 445.43,44.71 445.49,46.39 445.53,48.19 445.57,50.13 445.6,52.25 445.64,54.58 445.67,57.15 445.7,60 445.73,63.34 445.75,67.24 445.77,71.55 445.79,76.12 445.8,80.77 445.81,85.37 445.83,89.75 445.85,93.75 445.87,97.22 445.9,100 445.93,102.11 445.97,103.72 446.01,104.9 446.04,105.74 446.09,106.3 446.14,106.66 446.19,106.9 446.25,107.08 446.32,107.29 446.4,107.6 446.49,107.91 446.6,108.09 446.71,108.16 446.83,108.15 446.96,108.07 447.09,107.96 447.22,107.84 447.35,107.72 447.48,107.63 447.6,107.6 447.72,107.63 447.85,107.72 447.98,107.84 448.11,107.96 448.24,108.07 448.37,108.15 448.49,108.16 448.6,108.09 448.71,107.91 448.8,107.6 448.88,107.29 448.95,107.08 449.01,106.9 449.06,106.66 449.11,106.3 449.16,105.74 449.19,104.9 449.23,103.72 449.27,102.11 449.3,100 449.33,97.22 449.35,93.75 449.37,89.75 449.39,85.37 449.4,80.78 449.41,76.12 449.43,71.55 449.45,67.24 449.47,63.34 449.5,60 449.53,57.15 449.56,54.58 449.6,52.25 449.63,50.13 449.67,48.19 449.71,46.39 449.77,44.71 449.83,43.1 449.91,41.55 450,40 450.11,38.5 450.24,37.11 450.39,35.81 450.55,34.6 450.71,33.48 450.88,32.44 451.05,31.48 451.21,30.59 451.36,29.76 451.5,29 451.62,28.33 451.72,27.77 451.8,27.3 451.88,26.91 451.96,26.59 452.04,26.31 452.14,26.06 452.26,25.81 452.41,25.57 452.6,25.3 452.66,25.02 452.49,24.77 452.19,24.52 451.89,24.3 451.67,24.09 451.64,23.9 451.92,23.73 452.6,23.57 453.79,23.43 455.6,23.3 458.28,23.19 461.87,23.11 466.14,23.05 470.86,23.01 475.79,22.97 480.7,22.95 485.37,22.94 489.57,22.93 493.05,22.92 495.6,22.9" fill="none" stroke="#00ee00" stroke-width="0.85" stroke-linejoin="round"/>
<polygon points="399.6,21.06 401.36,24.1 397.84,24.1" fill="#00ee00" stroke="#00ee00" stroke-width="0.5"/>
<polygon points="402.15,21.08 403.91,24.12 400.39,24.12" fill="#00ee00" stroke="#00ee00" stroke-width="0.5"/>
<polygon points="405.63,21.09 407.39,24.13 403.87,24.13" fill="#00ee00" stroke="#00ee00" stroke-width="0.5"/>
<polygon points="409.83,21.1 411.59,24.14 408.07,24.14" fill="#00ee00" stroke="#00ee00" stroke-width="0.5"/>
<polygon points="414.5,21.11 416.26,24.15 412.74,24.15" fill="#00ee00" stroke="#00ee00" stroke-width="0.5"/>
<polygon points="419.41,21.13 421.17,24.17 417.65,24.17" fill="#00ee00" stroke="#00ee00" stroke-width="0.5"/>
<polygon points="424.34,21.17 426.1,24.21 422.58,24.21" fill="#00ee00" stroke="#00ee00" stroke-width="0.5"/>
<polygon points="429.06,21.21 430.82,24.25 427.3,24.25" fill="#00ee00" stroke="#00ee00" stroke-width="0.5"/>
<polygon points="433.33,21.27 435.09,24.31 431.57,24.31" fill="#00ee00" stroke="#00ee00" stroke-width="0.5"/>
<polygon points="436.92,21.35 438.68,24.39 435.16,24.39" fill="#00ee00" stroke="#00ee00" stroke-width="0.5"/>
<polygon points="439.6,21.46 441.36,24.5 437.84,24.5" fill="#00ee00" stroke="#00ee00" stroke-width="0.5"/>
<polygon points="441.41,21.59 443.17,24.63 439.65,24.63" fill="#00ee00" stroke="#00ee00" stroke-width="0.5"/>
<polygon points="443.28,21.89 445.04,24.93 441.52,24.93" fill="#00ee00" stroke="#00ee00" stroke-width="0.5"/>
<polygon points="442.6,23.46 444.36,26.5 440.84,26.5" fill="#00ee00" stroke="#00ee00" stroke-width="0.5"/>
<polygon points="452.04,24.47 453.8,27.51 450.28,27.51" fill="#00ee00" stroke="#00ee00" stroke-width="0.5"/>
<polygon points="451.89,22.46 453.65,25.5 450.13,25.5" fill="#00ee00" stroke="#00ee00" stroke-width="0.5"/>
<polygon points="453.79,21.59 455.55,24.63 452.03,24.63" fill="#00ee00" stroke="#00ee00" stroke-width="0.5"/>
<polygon points="455.6,21.46 457.36,24.5 453.84,24.5" fill="#00ee00" stroke="#00ee00" stroke-width="0.5"/>
<polygon points="458.28,21.35 460.04,24.39 456.52,24.39" fill="#00ee00" stroke="#00ee00" stroke-width="0.5"/>
<polygon points="461.87,21.27 463.63,24.31 460.11,24.31" fill="#00ee00" stroke="#00ee00" stroke-width="0.5"/>
<polygon points="466.14,21.21 467.9,24.25 464.38,24.25" fill="#00ee00" stroke="#00ee00" stroke-width="0.5"/>
<polygon points="470.86,21.17 472.62,24.21 469.1,24.21" fill="#00ee00" stroke="#00ee00" stroke-width="0.5"/>
<polygon points="475.79,21.13 477.55,24.17 474.03,24.17" fill="#00ee00" stroke="#00ee00" stroke-width="0.5"/>
<polygon points="480.7,21.11 482.46,24.15 478.94,24.15" fill="#00ee00" stroke="#00ee00" stroke-width="0.5"/>
<polygon points="485.37,21.1 487.13,24.14 483.61,24.14" fill="#00ee00" stroke="#00ee00" stroke-width="0.5"/>
<polygon points="489.57,21.09 491.33,24.13 487.81,24.13" fill="#00ee00" stroke="#00ee00" stroke-width="0.5"/>
<polygon points="493.05,21.08 494.81,24.12 491.29,24.12" fill="#00ee00" stroke="#00ee00" stroke-width="0.5"/>
<polygon points="495.6,21.06 497.36,24.1 493.84,24.1" fill="#00ee00" stroke="#00ee00" stroke-width="0.5"/>
<polygon points="443.7,28.16 445.46,31.2 441.94,31.2" fill="#00ee00" stroke="#00ee00" stroke-width="0.5"/>
<polygon points="451.5,28.16 453.26,31.2 449.74,31.2" fill="#00ee00" stroke="#00ee00" stroke-width="0.5"/>
<polygon points="445.5,44.16 447.26,47.2 443.74,47.2" fill="#00ee00" stroke="#00ee00" stroke-width="0.5"/>
<polygon points="449.7,44.16 451.46,47.2 447.94,47.2" fill="#00ee00" stroke="#00ee00" stroke-width="0.5"/>
<polygon points="445.7,65.46 447.46,68.5 443.94,68.5" fill="#00ee00" stroke="#00ee00" stroke-width="0.5"/>
<polygon points="449.5,65.46 451.26,68.5 447.74,68.5" fill="#00ee00" stroke="#00ee00" stroke-width="0.5"/>
<polyline points="399.6,20.7 402.46,20.7 406.13,20.7 410.47,20.7 415.34,20.7 420.6,20.7 426.1,20.7 431.69,20.7 437.23,20.7 442.58,20.7 447.6,20.7 452.62,20.7 457.97,20.7 463.51,20.7 469.1,20.7 474.6,20.7 479.86,20.7 484.73,20.7 489.07,20.7 492.74,20.7 495.6,20.7" fill="none" stroke="#000" stroke-width="2" stroke-linejoin="round"/>
<line x1="480.5" y1="54.5" x2="496.2" y2="54.5" stroke="#000" stroke-width="1"/>
<rect x="487" y="53" width="3" height="3" fill="#000" stroke="#000" stroke-width="0.5"/>
<text x="499.8" y="56.4" font-size="5.5" text-anchor="start" fill="#555">10.0 K</text>
<line x1="480.5" y1="63.5" x2="496.2" y2="63.5" stroke="#f00" stroke-width="1"/>
<circle cx="488.5" cy="63.5" r="1.5" fill="#f00" stroke="#f00" stroke-width="0.5"/>
<text x="499.8" y="65.4" font-size="5.5" text-anchor="start" fill="#555">9.0 K</text>
<line x1="480.5" y1="72.5" x2="496.2" y2="72.5" stroke="#00ee00" stroke-width="1"/>
<polygon points="488.5,70.78 490.15,73.62 486.85,73.62" fill="#00ee00" stroke="#00ee00" stroke-width="0.5"/>
<text x="499.8" y="74.4" font-size="5.5" text-anchor="start" fill="#555">8.0 K</text>
<line x1="480.5" y1="81.5" x2="496.2" y2="81.5" stroke="#0000f0" stroke-width="1"/>
<polygon points="488.5,83.22 490.15,80.38 486.85,80.38" fill="#0000f0" stroke="#0000f0" stroke-width="0.5"/>
<text x="499.8" y="83.4" font-size="5.5" text-anchor="start" fill="#555">7.0 K</text>
<line x1="480.5" y1="90.5" x2="496.2" y2="90.5" stroke="#808000" stroke-width="1"/>
<polygon points="488.5,88.55 490.45,90.5 488.5,92.45 486.55,90.5" fill="#808000" stroke="#808000" stroke-width="0.5"/>
<text x="499.8" y="92.4" font-size="5.5" text-anchor="start" fill="#555">6.0 K</text>
<line x1="480.5" y1="99.5" x2="496.2" y2="99.5" stroke="#800080" stroke-width="1"/>
<polygon points="486.77,99.5 489.62,97.85 489.62,101.15" fill="#800080" stroke="#800080" stroke-width="0.5"/>
<text x="499.8" y="101.4" font-size="5.5" text-anchor="start" fill="#555">5.0 K</text>
<line x1="480.5" y1="108.5" x2="496.2" y2="108.5" stroke="#007a00" stroke-width="1"/>
<polygon points="490.23,108.5 487.38,106.85 487.38,110.15" fill="#007a00" stroke="#007a00" stroke-width="0.5"/>
<text x="499.8" y="110.4" font-size="5.5" text-anchor="start" fill="#555">4.0 K</text>
<text x="355.4" y="6.2" font-size="8" text-anchor="start" fill="#1a1a1a" font-weight="bold">c</text>
<text x="-0.6" y="158.9" font-size="8" text-anchor="start" fill="#1a1a1a" font-weight="bold">d</text>
<line x1="27.6" y1="157.4" x2="27.6" y2="264.1" stroke="#d8d8d8" stroke-width="1"/>
<line x1="161.5" y1="157.4" x2="161.5" y2="264.1" stroke="#d8d8d8" stroke-width="1"/>
<line x1="27.6" y1="264.1" x2="161.5" y2="264.1" stroke="#d8d8d8" stroke-width="1"/>
<line x1="26.8" y1="157.4" x2="161.5" y2="157.4" stroke="#111" stroke-width="1.1"/>
<line x1="27.9" y1="264.1" x2="27.9" y2="266.1" stroke="#555" stroke-width="0.8"/>
<line x1="50.25" y1="264.1" x2="50.25" y2="266.1" stroke="#555" stroke-width="0.8"/>
<line x1="72.6" y1="264.1" x2="72.6" y2="266.1" stroke="#555" stroke-width="0.8"/>
<line x1="94.95" y1="264.1" x2="94.95" y2="266.1" stroke="#555" stroke-width="0.8"/>
<line x1="117.3" y1="264.1" x2="117.3" y2="266.1" stroke="#555" stroke-width="0.8"/>
<line x1="139.65" y1="264.1" x2="139.65" y2="266.1" stroke="#555" stroke-width="0.8"/>
<line x1="162" y1="264.1" x2="162" y2="266.1" stroke="#555" stroke-width="0.8"/>
<line x1="39.07" y1="264.1" x2="39.07" y2="265.5" stroke="#555" stroke-width="0.8"/>
<line x1="61.43" y1="264.1" x2="61.43" y2="265.5" stroke="#555" stroke-width="0.8"/>
<line x1="83.78" y1="264.1" x2="83.78" y2="265.5" stroke="#555" stroke-width="0.8"/>
<line x1="106.12" y1="264.1" x2="106.12" y2="265.5" stroke="#555" stroke-width="0.8"/>
<line x1="128.48" y1="264.1" x2="128.48" y2="265.5" stroke="#555" stroke-width="0.8"/>
<line x1="150.83" y1="264.1" x2="150.83" y2="265.5" stroke="#555" stroke-width="0.8"/>
<line x1="27.6" y1="255.5" x2="25.6" y2="255.5" stroke="#555" stroke-width="0.8"/>
<line x1="27.6" y1="235.8" x2="25.6" y2="235.8" stroke="#555" stroke-width="0.8"/>
<line x1="27.6" y1="216.1" x2="25.6" y2="216.1" stroke="#555" stroke-width="0.8"/>
<line x1="27.6" y1="196.4" x2="25.6" y2="196.4" stroke="#555" stroke-width="0.8"/>
<line x1="27.6" y1="176.7" x2="25.6" y2="176.7" stroke="#555" stroke-width="0.8"/>
<line x1="27.6" y1="157" x2="25.6" y2="157" stroke="#555" stroke-width="0.8"/>
<line x1="27.6" y1="245.65" x2="26.2" y2="245.65" stroke="#555" stroke-width="0.8"/>
<line x1="27.6" y1="225.95" x2="26.2" y2="225.95" stroke="#555" stroke-width="0.8"/>
<line x1="27.6" y1="206.25" x2="26.2" y2="206.25" stroke="#555" stroke-width="0.8"/>
<line x1="27.6" y1="186.55" x2="26.2" y2="186.55" stroke="#555" stroke-width="0.8"/>
<line x1="27.6" y1="166.85" x2="26.2" y2="166.85" stroke="#555" stroke-width="0.8"/>
<text x="27.9" y="276.2" font-size="7" text-anchor="middle" fill="#1a1a1a">0.4</text>
<text x="50.25" y="276.2" font-size="7" text-anchor="middle" fill="#1a1a1a">0.5</text>
<text x="72.6" y="276.2" font-size="7" text-anchor="middle" fill="#1a1a1a">0.6</text>
<text x="94.95" y="276.2" font-size="7" text-anchor="middle" fill="#1a1a1a">0.7</text>
<text x="117.3" y="276.2" font-size="7" text-anchor="middle" fill="#1a1a1a">0.8</text>
<text x="139.65" y="276.2" font-size="7" text-anchor="middle" fill="#1a1a1a">0.9</text>
<text x="162" y="276.2" font-size="7" text-anchor="middle" fill="#1a1a1a">1.0</text>
<text x="21.9" y="258" font-size="7" text-anchor="end" fill="#1a1a1a">0</text>
<text x="21.9" y="238.3" font-size="7" text-anchor="end" fill="#1a1a1a">0.5</text>
<text x="21.9" y="218.6" font-size="7" text-anchor="end" fill="#1a1a1a">1.0</text>
<text x="21.9" y="198.9" font-size="7" text-anchor="end" fill="#1a1a1a">1.5</text>
<text x="21.9" y="179.2" font-size="7" text-anchor="end" fill="#1a1a1a">2.0</text>
<text x="21.9" y="159.5" font-size="7" text-anchor="end" fill="#1a1a1a">2.5</text>
<text x="95" y="288" font-size="7" text-anchor="middle" fill="#1a1a1a" font-style="italic">T/T<tspan font-size="4.5" dy="1.5">c</tspan></text>
<text x="6" y="210.8" font-size="7.5" text-anchor="middle" fill="#1a1a1a" transform="rotate(-90 6 210.8)"><tspan font-style="italic">B</tspan><tspan font-size="4.8" dy="1.5">c</tspan><tspan dy="-1.5"> (T)</tspan></text>
<line x1="43.54" y1="171.58" x2="148.59" y2="245.65" stroke="#e00" stroke-width="1"/>
<rect x="42.09" y="212.68" width="2.9" height="2.9" fill="none" stroke="#000" stroke-width="0.9"/>
<rect x="68.91" y="225.68" width="2.9" height="2.9" fill="none" stroke="#000" stroke-width="0.9"/>
<rect x="93.5" y="236.71" width="2.9" height="2.9" fill="none" stroke="#000" stroke-width="0.9"/>
<rect x="120.32" y="247.35" width="2.9" height="2.9" fill="none" stroke="#000" stroke-width="0.9"/>
<rect x="147.14" y="253.26" width="2.9" height="2.9" fill="none" stroke="#000" stroke-width="0.9"/>
<rect x="42.09" y="170.13" width="2.9" height="2.9" fill="none" stroke="#e00" stroke-width="0.9"/>
<rect x="68.91" y="189.04" width="2.9" height="2.9" fill="none" stroke="#e00" stroke-width="0.9"/>
<rect x="93.5" y="205.59" width="2.9" height="2.9" fill="none" stroke="#e00" stroke-width="0.9"/>
<rect x="120.32" y="222.53" width="2.9" height="2.9" fill="none" stroke="#e00" stroke-width="0.9"/>
<rect x="147.14" y="238.29" width="2.9" height="2.9" fill="none" stroke="#e00" stroke-width="0.9"/>
<rect x="130.45" y="162.55" width="2.9" height="2.9" fill="none" stroke="#000" stroke-width="0.95"/>
<rect x="130.45" y="171.55" width="2.9" height="2.9" fill="none" stroke="#e00" stroke-width="0.95"/>
<line x1="125" y1="181.8" x2="139" y2="181.8" stroke="#f4a0a0" stroke-width="1.3"/>
<text x="142.2" y="166" font-size="5" text-anchor="start" fill="#1a1a1a"><tspan font-style="italic">B</tspan><tspan font-size="3.5" dy="1.2">c1</tspan></text>
<text x="142.2" y="175" font-size="5" text-anchor="start" fill="#1a1a1a"><tspan font-style="italic">B</tspan><tspan font-size="3.5" dy="1.2">c2</tspan></text>
<text x="142.2" y="183.8" font-size="5" text-anchor="start" fill="#1a1a1a">Fit</text>
<text x="178.7" y="159.1" font-size="8" text-anchor="start" fill="#1a1a1a" font-weight="bold">e</text>
<line x1="209.2" y1="157.4" x2="209.2" y2="265.6" stroke="#d8d8d8" stroke-width="1"/>
<line x1="342.45" y1="157.4" x2="342.45" y2="265.6" stroke="#d8d8d8" stroke-width="1"/>
<line x1="209.2" y1="265.6" x2="342.45" y2="265.6" stroke="#d8d8d8" stroke-width="1"/>
<line x1="208.4" y1="157.4" x2="342.45" y2="157.4" stroke="#3a3a3a" stroke-width="1"/>
<line x1="342.45" y1="157.4" x2="342.45" y2="265.6" stroke="#aaa" stroke-width="1"/>
<line x1="209.2" y1="265.6" x2="209.2" y2="267.6" stroke="#555" stroke-width="0.8"/>
<line x1="227.5" y1="265.6" x2="227.5" y2="267.6" stroke="#555" stroke-width="0.8"/>
<line x1="245.8" y1="265.6" x2="245.8" y2="267.6" stroke="#555" stroke-width="0.8"/>
<line x1="264.1" y1="265.6" x2="264.1" y2="267.6" stroke="#555" stroke-width="0.8"/>
<line x1="282.4" y1="265.6" x2="282.4" y2="267.6" stroke="#555" stroke-width="0.8"/>
<line x1="300.7" y1="265.6" x2="300.7" y2="267.6" stroke="#555" stroke-width="0.8"/>
<line x1="319" y1="265.6" x2="319" y2="267.6" stroke="#555" stroke-width="0.8"/>
<line x1="337.3" y1="265.6" x2="337.3" y2="267.6" stroke="#555" stroke-width="0.8"/>
<line x1="218.35" y1="265.6" x2="218.35" y2="267" stroke="#555" stroke-width="0.8"/>
<line x1="236.65" y1="265.6" x2="236.65" y2="267" stroke="#555" stroke-width="0.8"/>
<line x1="254.95" y1="265.6" x2="254.95" y2="267" stroke="#555" stroke-width="0.8"/>
<line x1="273.25" y1="265.6" x2="273.25" y2="267" stroke="#555" stroke-width="0.8"/>
<line x1="291.55" y1="265.6" x2="291.55" y2="267" stroke="#555" stroke-width="0.8"/>
<line x1="309.85" y1="265.6" x2="309.85" y2="267" stroke="#555" stroke-width="0.8"/>
<line x1="328.15" y1="265.6" x2="328.15" y2="267" stroke="#555" stroke-width="0.8"/>
<line x1="209.2" y1="264.1" x2="207.2" y2="264.1" stroke="#555" stroke-width="0.8"/>
<line x1="209.2" y1="244.8" x2="207.2" y2="244.8" stroke="#555" stroke-width="0.8"/>
<line x1="209.2" y1="225.5" x2="207.2" y2="225.5" stroke="#555" stroke-width="0.8"/>
<line x1="209.2" y1="206.2" x2="207.2" y2="206.2" stroke="#555" stroke-width="0.8"/>
<line x1="209.2" y1="186.9" x2="207.2" y2="186.9" stroke="#555" stroke-width="0.8"/>
<line x1="209.2" y1="167.6" x2="207.2" y2="167.6" stroke="#555" stroke-width="0.8"/>
<line x1="209.2" y1="254.45" x2="207.8" y2="254.45" stroke="#555" stroke-width="0.8"/>
<line x1="209.2" y1="235.15" x2="207.8" y2="235.15" stroke="#555" stroke-width="0.8"/>
<line x1="209.2" y1="215.85" x2="207.8" y2="215.85" stroke="#555" stroke-width="0.8"/>
<line x1="209.2" y1="196.55" x2="207.8" y2="196.55" stroke="#555" stroke-width="0.8"/>
<line x1="209.2" y1="177.25" x2="207.8" y2="177.25" stroke="#555" stroke-width="0.8"/>
<text x="209.2" y="275.9" font-size="7" text-anchor="middle" fill="#1a1a1a">2</text>
<text x="227.5" y="275.9" font-size="7" text-anchor="middle" fill="#1a1a1a">4</text>
<text x="245.8" y="275.9" font-size="7" text-anchor="middle" fill="#1a1a1a">6</text>
<text x="264.1" y="275.9" font-size="7" text-anchor="middle" fill="#1a1a1a">8</text>
<text x="282.4" y="275.9" font-size="7" text-anchor="middle" fill="#1a1a1a">10</text>
<text x="300.7" y="275.9" font-size="7" text-anchor="middle" fill="#1a1a1a">12</text>
<text x="319" y="275.9" font-size="7" text-anchor="middle" fill="#1a1a1a">14</text>
<text x="337.3" y="275.9" font-size="7" text-anchor="middle" fill="#1a1a1a">16</text>
<text x="202.8" y="266.6" font-size="7" text-anchor="end" fill="#1a1a1a">0</text>
<text x="202.8" y="247.3" font-size="7" text-anchor="end" fill="#1a1a1a">0.2</text>
<text x="202.8" y="228" font-size="7" text-anchor="end" fill="#1a1a1a">0.4</text>
<text x="202.8" y="208.7" font-size="7" text-anchor="end" fill="#1a1a1a">0.6</text>
<text x="202.8" y="189.4" font-size="7" text-anchor="end" fill="#1a1a1a">0.8</text>
<text x="202.8" y="170.1" font-size="7" text-anchor="end" fill="#1a1a1a">1.0</text>
<text x="275.9" y="287.5" font-size="7" text-anchor="middle" fill="#1a1a1a">T (K)</text>
<text x="185" y="212" font-size="7" text-anchor="middle" fill="#1a1a1a" font-style="italic" transform="rotate(-90 185 212)">R/R<tspan font-size="4.5" dy="1.8" font-style="normal">10K</tspan></text>
<polyline points="208.1,199.3 208.39,199.25 208.77,199.2 209.23,199.13 209.73,199.06 210.27,198.98 210.84,198.89 211.41,198.8 211.97,198.7 212.51,198.6 213,198.5 213.46,198.39 213.92,198.27 214.38,198.15 214.83,198.02 215.28,197.89 215.72,197.75 216.15,197.61 216.58,197.47 216.99,197.34 217.4,197.2 217.8,197.06 218.19,196.92 218.58,196.77 218.96,196.63 219.33,196.48 219.69,196.34 220.04,196.19 220.38,196.06 220.7,195.92 221,195.8 221.29,195.68 221.58,195.56 221.86,195.44 222.12,195.32 222.38,195.21 222.61,195.11 222.82,195.01 223.01,194.93 223.17,194.86 223.3,194.8" fill="none" stroke="#000" stroke-width="2.6" stroke-linejoin="round"/>
<rect x="206.9" y="198.1" width="2.4" height="2.4" fill="#000" stroke="#000" stroke-width="0.5"/>
<rect x="208.03" y="197.93" width="2.4" height="2.4" fill="#000" stroke="#000" stroke-width="0.5"/>
<rect x="209.07" y="197.78" width="2.4" height="2.4" fill="#000" stroke="#000" stroke-width="0.5"/>
<rect x="210.21" y="197.6" width="2.4" height="2.4" fill="#000" stroke="#000" stroke-width="0.5"/>
<rect x="211.31" y="197.4" width="2.4" height="2.4" fill="#000" stroke="#000" stroke-width="0.5"/>
<rect x="212.72" y="197.07" width="2.4" height="2.4" fill="#000" stroke="#000" stroke-width="0.5"/>
<rect x="214.08" y="196.69" width="2.4" height="2.4" fill="#000" stroke="#000" stroke-width="0.5"/>
<rect x="215.38" y="196.27" width="2.4" height="2.4" fill="#000" stroke="#000" stroke-width="0.5"/>
<rect x="216.6" y="195.86" width="2.4" height="2.4" fill="#000" stroke="#000" stroke-width="0.5"/>
<rect x="217.76" y="195.43" width="2.4" height="2.4" fill="#000" stroke="#000" stroke-width="0.5"/>
<rect x="218.84" y="194.99" width="2.4" height="2.4" fill="#000" stroke="#000" stroke-width="0.5"/>
<rect x="220.09" y="194.48" width="2.4" height="2.4" fill="#000" stroke="#000" stroke-width="0.5"/>
<rect x="221.18" y="194.01" width="2.4" height="2.4" fill="#000" stroke="#000" stroke-width="0.5"/>
<polyline points="226.2,193.2 226.36,193.07 226.55,192.91 226.77,192.74 227.02,192.53 227.3,192.31 227.6,192.06 227.92,191.78 228.27,191.48 228.63,191.15 229,190.8 229.4,190.42 229.84,190.02 230.32,189.59 230.81,189.13 231.32,188.65 231.83,188.15 232.35,187.62 232.85,187.07 233.34,186.49 233.8,185.9 234.25,185.26 234.69,184.58 235.13,183.85 235.56,183.09 235.99,182.32 236.4,181.55 236.8,180.79 237.19,180.05 237.55,179.35 237.9,178.7 238.22,178.09 238.52,177.5 238.79,176.92 239.05,176.37 239.3,175.83 239.54,175.32 239.77,174.83 240.01,174.36 240.25,173.92 240.5,173.5 240.74,173.11 240.96,172.75 241.17,172.42 241.38,172.11 241.59,171.82 241.81,171.56 242.05,171.3 242.33,171.06 242.64,170.83 243,170.6 243.39,170.39 243.79,170.2 244.2,170.02 244.64,169.87 245.11,169.72 245.62,169.58 246.18,169.44 246.79,169.3 247.46,169.15 248.2,169 249,168.84 249.83,168.67 250.72,168.49 251.66,168.32 252.64,168.15 253.69,167.98 254.79,167.82 255.96,167.67 257.2,167.53 258.5,167.4 259.93,167.28 261.51,167.18 263.2,167.08 264.97,166.99 266.77,166.91 268.57,166.84 270.33,166.77 272.02,166.71 273.59,166.65 275,166.6 276.31,166.55 277.58,166.52 278.79,166.49 279.95,166.47 281.03,166.45 282.03,166.44 282.94,166.43 283.74,166.42 284.43,166.41 285,166.4" fill="none" stroke="#000" stroke-width="2.6" stroke-linejoin="round"/>
<rect x="225" y="192" width="2.4" height="2.4" fill="#000" stroke="#000" stroke-width="0.5"/>
<rect x="226.1" y="191.11" width="2.4" height="2.4" fill="#000" stroke="#000" stroke-width="0.5"/>
<rect x="227.43" y="189.95" width="2.4" height="2.4" fill="#000" stroke="#000" stroke-width="0.5"/>
<rect x="228.64" y="188.82" width="2.4" height="2.4" fill="#000" stroke="#000" stroke-width="0.5"/>
<rect x="230.12" y="187.45" width="2.4" height="2.4" fill="#000" stroke="#000" stroke-width="0.5"/>
<rect x="231.15" y="186.42" width="2.4" height="2.4" fill="#000" stroke="#000" stroke-width="0.5"/>
<rect x="232.6" y="184.7" width="2.4" height="2.4" fill="#000" stroke="#000" stroke-width="0.5"/>
<rect x="233.93" y="182.65" width="2.4" height="2.4" fill="#000" stroke="#000" stroke-width="0.5"/>
<rect x="235.2" y="180.35" width="2.4" height="2.4" fill="#000" stroke="#000" stroke-width="0.5"/>
<rect x="236.35" y="178.15" width="2.4" height="2.4" fill="#000" stroke="#000" stroke-width="0.5"/>
<rect x="237.59" y="175.72" width="2.4" height="2.4" fill="#000" stroke="#000" stroke-width="0.5"/>
<rect x="238.81" y="173.16" width="2.4" height="2.4" fill="#000" stroke="#000" stroke-width="0.5"/>
<rect x="239.97" y="171.22" width="2.4" height="2.4" fill="#000" stroke="#000" stroke-width="0.5"/>
<rect x="241.13" y="169.86" width="2.4" height="2.4" fill="#000" stroke="#000" stroke-width="0.5"/>
<rect x="242.19" y="169.19" width="2.4" height="2.4" fill="#000" stroke="#000" stroke-width="0.5"/>
<rect x="243.44" y="168.67" width="2.4" height="2.4" fill="#000" stroke="#000" stroke-width="0.5"/>
<rect x="244.98" y="168.24" width="2.4" height="2.4" fill="#000" stroke="#000" stroke-width="0.5"/>
<rect x="246.26" y="167.95" width="2.4" height="2.4" fill="#000" stroke="#000" stroke-width="0.5"/>
<rect x="247.8" y="167.64" width="2.4" height="2.4" fill="#000" stroke="#000" stroke-width="0.5"/>
<rect x="249.52" y="167.29" width="2.4" height="2.4" fill="#000" stroke="#000" stroke-width="0.5"/>
<rect x="251.44" y="166.95" width="2.4" height="2.4" fill="#000" stroke="#000" stroke-width="0.5"/>
<rect x="252.49" y="166.78" width="2.4" height="2.4" fill="#000" stroke="#000" stroke-width="0.5"/>
<rect x="253.59" y="166.62" width="2.4" height="2.4" fill="#000" stroke="#000" stroke-width="0.5"/>
<rect x="254.76" y="166.47" width="2.4" height="2.4" fill="#000" stroke="#000" stroke-width="0.5"/>
<rect x="256" y="166.33" width="2.4" height="2.4" fill="#000" stroke="#000" stroke-width="0.5"/>
<rect x="257.3" y="166.2" width="2.4" height="2.4" fill="#000" stroke="#000" stroke-width="0.5"/>
<rect x="258.73" y="166.08" width="2.4" height="2.4" fill="#000" stroke="#000" stroke-width="0.5"/>
<rect x="260.31" y="165.98" width="2.4" height="2.4" fill="#000" stroke="#000" stroke-width="0.5"/>
<rect x="262" y="165.88" width="2.4" height="2.4" fill="#000" stroke="#000" stroke-width="0.5"/>
<rect x="263.77" y="165.79" width="2.4" height="2.4" fill="#000" stroke="#000" stroke-width="0.5"/>
<rect x="265.57" y="165.71" width="2.4" height="2.4" fill="#000" stroke="#000" stroke-width="0.5"/>
<rect x="267.37" y="165.64" width="2.4" height="2.4" fill="#000" stroke="#000" stroke-width="0.5"/>
<rect x="269.13" y="165.57" width="2.4" height="2.4" fill="#000" stroke="#000" stroke-width="0.5"/>
<rect x="270.82" y="165.51" width="2.4" height="2.4" fill="#000" stroke="#000" stroke-width="0.5"/>
<rect x="272.39" y="165.45" width="2.4" height="2.4" fill="#000" stroke="#000" stroke-width="0.5"/>
<rect x="273.8" y="165.4" width="2.4" height="2.4" fill="#000" stroke="#000" stroke-width="0.5"/>
<rect x="275.11" y="165.35" width="2.4" height="2.4" fill="#000" stroke="#000" stroke-width="0.5"/>
<rect x="276.38" y="165.32" width="2.4" height="2.4" fill="#000" stroke="#000" stroke-width="0.5"/>
<rect x="277.59" y="165.29" width="2.4" height="2.4" fill="#000" stroke="#000" stroke-width="0.5"/>
<rect x="278.75" y="165.27" width="2.4" height="2.4" fill="#000" stroke="#000" stroke-width="0.5"/>
<rect x="279.83" y="165.25" width="2.4" height="2.4" fill="#000" stroke="#000" stroke-width="0.5"/>
<rect x="280.83" y="165.24" width="2.4" height="2.4" fill="#000" stroke="#000" stroke-width="0.5"/>
<rect x="282.54" y="165.22" width="2.4" height="2.4" fill="#000" stroke="#000" stroke-width="0.5"/>
<rect x="283.8" y="165.2" width="2.4" height="2.4" fill="#000" stroke="#000" stroke-width="0.5"/>
<polyline points="208.5,263.4 209.52,263.4 210.87,263.41 212.48,263.42 214.28,263.43 216.19,263.44 218.16,263.44 220.09,263.44 221.92,263.44 223.58,263.42 225,263.4 226.21,263.38 227.33,263.38 228.35,263.38 229.29,263.38 230.16,263.37 230.98,263.34 231.75,263.27 232.48,263.17 233.2,263.01 233.9,262.8 234.57,262.54 235.18,262.24 235.74,261.91 236.26,261.54 236.75,261.13 237.21,260.69 237.66,260.2 238.1,259.68 238.55,259.11 239,258.5 239.46,257.84 239.9,257.13 240.33,256.37 240.76,255.56 241.18,254.72 241.58,253.86 241.97,252.96 242.36,252.05 242.73,251.13 243.1,250.2 243.45,249.26 243.8,248.28 244.13,247.29 244.46,246.27 244.77,245.24 245.08,244.19 245.38,243.13 245.66,242.06 245.93,240.98 246.2,239.9 246.46,238.81 246.7,237.69 246.94,236.56 247.16,235.41 247.38,234.26 247.59,233.1 247.78,231.96 247.97,230.82 248.14,229.7 248.3,228.6 248.44,227.51 248.56,226.43 248.67,225.34 248.76,224.27 248.84,223.21 248.92,222.16 249,221.13 249.09,220.12 249.18,219.15 249.3,218.2 249.43,217.29 249.58,216.41 249.74,215.56 249.91,214.73 250.08,213.92 250.25,213.13 250.41,212.35 250.56,211.57 250.69,210.79 250.8,210 250.89,209.22 250.95,208.47 251,207.73 251.04,207 251.08,206.27 251.1,205.53 251.14,204.79 251.18,204.02 251.23,203.23 251.3,202.4 251.39,201.54 251.48,200.65 251.59,199.73 251.7,198.8 251.82,197.86 251.94,196.9 252.06,195.94 252.18,194.99 252.29,194.04 252.4,193.1 252.5,192.17 252.61,191.22 252.71,190.28 252.81,189.33 252.91,188.38 253,187.44 253.1,186.51 253.2,185.59 253.3,184.69 253.4,183.8 253.5,182.92 253.58,182.03 253.67,181.14 253.75,180.26 253.83,179.39 253.92,178.55 254.02,177.75 254.13,176.98 254.26,176.26 254.4,175.6 254.56,175 254.72,174.45 254.89,173.96 255.06,173.5 255.26,173.07 255.46,172.68 255.69,172.3 255.93,171.93 256.2,171.57 256.5,171.2 256.82,170.84 257.17,170.48 257.54,170.14 257.93,169.81 258.34,169.5 258.77,169.2 259.21,168.92 259.66,168.66 260.13,168.42 260.6,168.2 261.03,168 261.38,167.83 261.7,167.69 262.01,167.56 262.37,167.44 262.8,167.34 263.34,167.25 264.03,167.17 264.9,167.08 266,167 267.43,166.92 269.23,166.85 271.3,166.78 273.53,166.73 275.84,166.68 278.12,166.63 280.27,166.59 282.2,166.56 283.81,166.53 285,166.5" fill="none" stroke="#f00" stroke-width="1" stroke-linejoin="round"/>
<circle cx="208.5" cy="263.4" r="1.45" fill="#f00" stroke="#f00" stroke-width="0.5"/>
<circle cx="210.87" cy="263.41" r="1.45" fill="#f00" stroke="#f00" stroke-width="0.5"/>
<circle cx="212.48" cy="263.42" r="1.45" fill="#f00" stroke="#f00" stroke-width="0.5"/>
<circle cx="214.28" cy="263.43" r="1.45" fill="#f00" stroke="#f00" stroke-width="0.5"/>
<circle cx="216.19" cy="263.44" r="1.45" fill="#f00" stroke="#f00" stroke-width="0.5"/>
<circle cx="218.16" cy="263.44" r="1.45" fill="#f00" stroke="#f00" stroke-width="0.5"/>
<circle cx="220.09" cy="263.44" r="1.45" fill="#f00" stroke="#f00" stroke-width="0.5"/>
<circle cx="221.92" cy="263.44" r="1.45" fill="#f00" stroke="#f00" stroke-width="0.5"/>
<circle cx="223.58" cy="263.42" r="1.45" fill="#f00" stroke="#f00" stroke-width="0.5"/>
<circle cx="225" cy="263.4" r="1.45" fill="#f00" stroke="#f00" stroke-width="0.5"/>
<circle cx="226.21" cy="263.38" r="1.45" fill="#f00" stroke="#f00" stroke-width="0.5"/>
<circle cx="228.35" cy="263.38" r="1.45" fill="#f00" stroke="#f00" stroke-width="0.5"/>
<circle cx="230.16" cy="263.37" r="1.45" fill="#f00" stroke="#f00" stroke-width="0.5"/>
<circle cx="231.75" cy="263.27" r="1.45" fill="#f00" stroke="#f00" stroke-width="0.5"/>
<circle cx="233.2" cy="263.01" r="1.45" fill="#f00" stroke="#f00" stroke-width="0.5"/>
<circle cx="234.57" cy="262.54" r="1.45" fill="#f00" stroke="#f00" stroke-width="0.5"/>
<circle cx="236.26" cy="261.54" r="1.45" fill="#f00" stroke="#f00" stroke-width="0.5"/>
<circle cx="237.66" cy="260.2" r="1.45" fill="#f00" stroke="#f00" stroke-width="0.5"/>
<circle cx="239" cy="258.5" r="1.45" fill="#f00" stroke="#f00" stroke-width="0.5"/>
<circle cx="240.33" cy="256.37" r="1.45" fill="#f00" stroke="#f00" stroke-width="0.5"/>
<circle cx="241.58" cy="253.86" r="1.45" fill="#f00" stroke="#f00" stroke-width="0.5"/>
<circle cx="243.1" cy="250.2" r="1.45" fill="#f00" stroke="#f00" stroke-width="0.5"/>
<circle cx="244.46" cy="246.27" r="1.45" fill="#f00" stroke="#f00" stroke-width="0.5"/>
<circle cx="245.66" cy="242.06" r="1.45" fill="#f00" stroke="#f00" stroke-width="0.5"/>
<circle cx="246.7" cy="237.69" r="1.45" fill="#f00" stroke="#f00" stroke-width="0.5"/>
<circle cx="247.59" cy="233.1" r="1.45" fill="#f00" stroke="#f00" stroke-width="0.5"/>
<circle cx="248.3" cy="228.6" r="1.45" fill="#f00" stroke="#f00" stroke-width="0.5"/>
<circle cx="248.76" cy="224.27" r="1.45" fill="#f00" stroke="#f00" stroke-width="0.5"/>
<circle cx="249.18" cy="219.15" r="1.45" fill="#f00" stroke="#f00" stroke-width="0.5"/>
<circle cx="249.91" cy="214.73" r="1.45" fill="#f00" stroke="#f00" stroke-width="0.5"/>
<circle cx="250.8" cy="210" r="1.45" fill="#f00" stroke="#f00" stroke-width="0.5"/>
<circle cx="251.1" cy="205.53" r="1.45" fill="#f00" stroke="#f00" stroke-width="0.5"/>
<circle cx="251.48" cy="200.65" r="1.45" fill="#f00" stroke="#f00" stroke-width="0.5"/>
<circle cx="252.06" cy="195.94" r="1.45" fill="#f00" stroke="#f00" stroke-width="0.5"/>
<circle cx="252.61" cy="191.22" r="1.45" fill="#f00" stroke="#f00" stroke-width="0.5"/>
<circle cx="253.1" cy="186.51" r="1.45" fill="#f00" stroke="#f00" stroke-width="0.5"/>
<circle cx="253.58" cy="182.03" r="1.45" fill="#f00" stroke="#f00" stroke-width="0.5"/>
<circle cx="254.13" cy="176.98" r="1.45" fill="#f00" stroke="#f00" stroke-width="0.5"/>
<circle cx="255.46" cy="172.68" r="1.45" fill="#f00" stroke="#f00" stroke-width="0.5"/>
<circle cx="256.82" cy="170.84" r="1.45" fill="#f00" stroke="#f00" stroke-width="0.5"/>
<circle cx="258.34" cy="169.5" r="1.45" fill="#f00" stroke="#f00" stroke-width="0.5"/>
<circle cx="259.66" cy="168.66" r="1.45" fill="#f00" stroke="#f00" stroke-width="0.5"/>
<circle cx="261.03" cy="168" r="1.45" fill="#f00" stroke="#f00" stroke-width="0.5"/>
<circle cx="262.37" cy="167.44" r="1.45" fill="#f00" stroke="#f00" stroke-width="0.5"/>
<circle cx="264.03" cy="167.17" r="1.45" fill="#f00" stroke="#f00" stroke-width="0.5"/>
<circle cx="266" cy="167" r="1.45" fill="#f00" stroke="#f00" stroke-width="0.5"/>
<circle cx="267.43" cy="166.92" r="1.45" fill="#f00" stroke="#f00" stroke-width="0.5"/>
<circle cx="269.23" cy="166.85" r="1.45" fill="#f00" stroke="#f00" stroke-width="0.5"/>
<circle cx="271.3" cy="166.78" r="1.45" fill="#f00" stroke="#f00" stroke-width="0.5"/>
<circle cx="273.53" cy="166.73" r="1.45" fill="#f00" stroke="#f00" stroke-width="0.5"/>
<circle cx="275.84" cy="166.68" r="1.45" fill="#f00" stroke="#f00" stroke-width="0.5"/>
<circle cx="278.12" cy="166.63" r="1.45" fill="#f00" stroke="#f00" stroke-width="0.5"/>
<circle cx="280.27" cy="166.59" r="1.45" fill="#f00" stroke="#f00" stroke-width="0.5"/>
<circle cx="282.2" cy="166.56" r="1.45" fill="#f00" stroke="#f00" stroke-width="0.5"/>
<circle cx="283.81" cy="166.53" r="1.45" fill="#f00" stroke="#f00" stroke-width="0.5"/>
<polyline points="225.6,263.5 227.02,263.5 228.95,263.51 231.27,263.52 233.86,263.52 236.59,263.53 239.33,263.54 241.97,263.54 244.38,263.53 246.43,263.52 248,263.5 249.11,263.5 249.9,263.55 250.43,263.61 250.74,263.68 250.91,263.72 250.97,263.74 251,263.69 251.04,263.56 251.16,263.34 251.4,263 251.73,262.54 252.07,261.98 252.42,261.33 252.76,260.61 253.1,259.82 253.43,258.98 253.73,258.11 254.02,257.21 254.28,256.31 254.5,255.4 254.69,254.47 254.83,253.5 254.95,252.48 255.05,251.44 255.13,250.37 255.2,249.29 255.27,248.2 255.33,247.12 255.41,246.05 255.5,245 255.6,243.97 255.7,242.95 255.8,241.93 255.9,240.92 255.99,239.91 256.09,238.89 256.19,237.86 256.29,236.82 256.4,235.77 256.5,234.7 256.61,233.62 256.72,232.54 256.83,231.45 256.94,230.35 257.06,229.24 257.17,228.12 257.28,226.98 257.39,225.81 257.5,224.62 257.6,223.4 257.7,222.16 257.8,220.91 257.89,219.65 257.98,218.36 258.08,217.06 258.16,215.72 258.25,214.35 258.34,212.94 258.42,211.5 258.5,210 258.58,208.42 258.66,206.74 258.73,204.98 258.81,203.18 258.88,201.36 258.95,199.56 259.02,197.79 259.08,196.09 259.14,194.48 259.2,193 259.25,191.63 259.29,190.32 259.32,189.08 259.35,187.89 259.38,186.76 259.41,185.68 259.45,184.65 259.49,183.67 259.54,182.72 259.6,181.8 259.67,180.93 259.75,180.12 259.82,179.37 259.91,178.66 260,177.99 260.1,177.35 260.21,176.74 260.33,176.15 260.46,175.57 260.6,175 260.75,174.44 260.91,173.91 261.08,173.4 261.26,172.92 261.45,172.46 261.65,172.01 261.87,171.59 262.09,171.18 262.34,170.78 262.6,170.4 262.87,170.03 263.15,169.68 263.44,169.34 263.73,169.02 264.05,168.72 264.39,168.43 264.74,168.17 265.13,167.92 265.55,167.7 266,167.5 266.46,167.33 266.92,167.18 267.39,167.06 267.88,166.96 268.4,166.88 268.97,166.81 269.6,166.75 270.31,166.7 271.1,166.65 272,166.6 273.07,166.56 274.36,166.53 275.8,166.51 277.32,166.5 278.88,166.49 280.4,166.49 281.83,166.5 283.12,166.5 284.19,166.5 285,166.5" fill="none" stroke="#00dd00" stroke-width="1" stroke-linejoin="round"/>
<polygon points="225.6,261.95 227.09,264.51 224.11,264.51" fill="#00dd00" stroke="#00dd00" stroke-width="0.5"/>
<polygon points="227.02,261.95 228.5,264.51 225.53,264.51" fill="#00dd00" stroke="#00dd00" stroke-width="0.5"/>
<polygon points="228.95,261.96 230.44,264.52 227.47,264.52" fill="#00dd00" stroke="#00dd00" stroke-width="0.5"/>
<polygon points="231.27,261.96 232.76,264.53 229.79,264.53" fill="#00dd00" stroke="#00dd00" stroke-width="0.5"/>
<polygon points="233.86,261.97 235.34,264.54 232.37,264.54" fill="#00dd00" stroke="#00dd00" stroke-width="0.5"/>
<polygon points="236.59,261.98 238.07,264.54 235.1,264.54" fill="#00dd00" stroke="#00dd00" stroke-width="0.5"/>
<polygon points="239.33,261.98 240.82,264.55 237.85,264.55" fill="#00dd00" stroke="#00dd00" stroke-width="0.5"/>
<polygon points="241.97,261.98 243.46,264.55 240.49,264.55" fill="#00dd00" stroke="#00dd00" stroke-width="0.5"/>
<polygon points="244.38,261.98 245.86,264.54 242.89,264.54" fill="#00dd00" stroke="#00dd00" stroke-width="0.5"/>
<polygon points="246.43,261.97 247.91,264.53 244.94,264.53" fill="#00dd00" stroke="#00dd00" stroke-width="0.5"/>
<polygon points="248,261.95 249.49,264.51 246.51,264.51" fill="#00dd00" stroke="#00dd00" stroke-width="0.5"/>
<polygon points="249.9,261.99 251.39,264.56 248.42,264.56" fill="#00dd00" stroke="#00dd00" stroke-width="0.5"/>
<polygon points="251.4,261.45 252.89,264.01 249.91,264.01" fill="#00dd00" stroke="#00dd00" stroke-width="0.5"/>
<polygon points="252.76,259.05 254.25,261.62 251.28,261.62" fill="#00dd00" stroke="#00dd00" stroke-width="0.5"/>
<polygon points="254.28,254.75 255.76,257.32 252.79,257.32" fill="#00dd00" stroke="#00dd00" stroke-width="0.5"/>
<polygon points="255.2,247.73 256.69,250.3 253.72,250.3" fill="#00dd00" stroke="#00dd00" stroke-width="0.5"/>
<polygon points="255.8,240.38 257.28,242.95 254.31,242.95" fill="#00dd00" stroke="#00dd00" stroke-width="0.5"/>
<polygon points="256.5,233.15 257.99,235.71 255.01,235.71" fill="#00dd00" stroke="#00dd00" stroke-width="0.5"/>
<polygon points="257.28,225.42 258.77,227.99 255.8,227.99" fill="#00dd00" stroke="#00dd00" stroke-width="0.5"/>
<polygon points="257.89,218.1 259.38,220.66 256.41,220.66" fill="#00dd00" stroke="#00dd00" stroke-width="0.5"/>
<polygon points="258.42,209.94 259.9,212.51 256.93,212.51" fill="#00dd00" stroke="#00dd00" stroke-width="0.5"/>
<polygon points="258.81,201.63 260.29,204.19 257.32,204.19" fill="#00dd00" stroke="#00dd00" stroke-width="0.5"/>
<polygon points="259.08,194.53 260.57,197.1 257.6,197.1" fill="#00dd00" stroke="#00dd00" stroke-width="0.5"/>
<polygon points="259.32,187.52 260.81,190.09 257.84,190.09" fill="#00dd00" stroke="#00dd00" stroke-width="0.5"/>
<polygon points="259.6,180.25 261.09,182.81 258.12,182.81" fill="#00dd00" stroke="#00dd00" stroke-width="0.5"/>
<polygon points="260.75,172.89 262.24,175.46 259.27,175.46" fill="#00dd00" stroke="#00dd00" stroke-width="0.5"/>
<polygon points="262.09,169.62 263.58,172.19 260.61,172.19" fill="#00dd00" stroke="#00dd00" stroke-width="0.5"/>
<polygon points="263.44,167.79 264.92,170.35 261.95,170.35" fill="#00dd00" stroke="#00dd00" stroke-width="0.5"/>
<polygon points="264.74,166.62 266.23,169.18 263.26,169.18" fill="#00dd00" stroke="#00dd00" stroke-width="0.5"/>
<polygon points="266.46,165.77 267.95,168.34 264.98,168.34" fill="#00dd00" stroke="#00dd00" stroke-width="0.5"/>
<polygon points="267.88,165.41 269.36,167.97 266.39,167.97" fill="#00dd00" stroke="#00dd00" stroke-width="0.5"/>
<polygon points="269.6,165.2 271.09,167.76 268.12,167.76" fill="#00dd00" stroke="#00dd00" stroke-width="0.5"/>
<polygon points="271.1,165.1 272.59,167.66 269.62,167.66" fill="#00dd00" stroke="#00dd00" stroke-width="0.5"/>
<polygon points="273.07,165 274.56,167.57 271.59,167.57" fill="#00dd00" stroke="#00dd00" stroke-width="0.5"/>
<polygon points="275.8,164.96 277.28,167.52 274.31,167.52" fill="#00dd00" stroke="#00dd00" stroke-width="0.5"/>
<polygon points="277.32,164.95 278.81,167.51 275.84,167.51" fill="#00dd00" stroke="#00dd00" stroke-width="0.5"/>
<polygon points="278.88,164.94 280.36,167.51 277.39,167.51" fill="#00dd00" stroke="#00dd00" stroke-width="0.5"/>
<polygon points="280.4,164.94 281.88,167.51 278.91,167.51" fill="#00dd00" stroke="#00dd00" stroke-width="0.5"/>
<polygon points="281.83,164.94 283.32,167.51 280.35,167.51" fill="#00dd00" stroke="#00dd00" stroke-width="0.5"/>
<polygon points="284.19,164.95 285.68,167.51 282.71,167.51" fill="#00dd00" stroke="#00dd00" stroke-width="0.5"/>
<polyline points="260,264.4 260.37,264.4 260.88,264.41 261.48,264.43 262.15,264.44 262.86,264.46 263.59,264.46 264.29,264.47 264.95,264.46 265.53,264.44 266,264.4 266.38,264.38 266.71,264.4 267,264.44 267.24,264.47 267.45,264.48 267.63,264.45 267.79,264.36 267.94,264.18 268.07,263.9 268.2,263.5 268.31,263.03 268.4,262.55 268.45,262.03 268.49,261.44 268.51,260.76 268.53,259.95 268.54,259 268.55,257.88 268.57,256.55 268.6,255 268.64,253.19 268.68,251.14 268.71,248.87 268.75,246.43 268.79,243.84 268.83,241.15 268.87,238.39 268.91,235.58 268.95,232.78 269,230 269.05,227.18 269.11,224.24 269.17,221.21 269.24,218.12 269.3,215 269.36,211.88 269.43,208.79 269.49,205.76 269.55,202.82 269.6,200 269.65,197.21 269.68,194.38 269.72,191.53 269.75,188.73 269.78,186 269.81,183.39 269.84,180.95 269.88,178.7 269.94,176.71 270,175 270.06,173.61 270.11,172.52 270.16,171.68 270.21,171.04 270.27,170.56 270.36,170.2 270.46,169.91 270.6,169.64 270.78,169.35 271,169 271.25,168.63 271.51,168.32 271.79,168.06 272.1,167.84 272.44,167.65 272.82,167.49 273.26,167.36 273.77,167.23 274.34,167.12 275,167 275.8,166.89 276.78,166.81 277.87,166.75 279.05,166.71 280.25,166.68 281.43,166.65 282.55,166.64 283.54,166.63 284.38,166.62 285,166.6" fill="none" stroke="#0000e0" stroke-width="1" stroke-linejoin="round"/>
<polygon points="260,265.95 261.49,263.39 258.51,263.39" fill="#0000e0" stroke="#0000e0" stroke-width="0.5"/>
<polygon points="263.59,266.02 265.07,263.45 262.1,263.45" fill="#0000e0" stroke="#0000e0" stroke-width="0.5"/>
<polygon points="266.71,265.95 268.2,263.39 265.23,263.39" fill="#0000e0" stroke="#0000e0" stroke-width="0.5"/>
<polygon points="268.6,256.55 270.09,253.99 267.12,253.99" fill="#0000e0" stroke="#0000e0" stroke-width="0.5"/>
<polygon points="268.79,245.4 270.27,242.83 267.3,242.83" fill="#0000e0" stroke="#0000e0" stroke-width="0.5"/>
<polygon points="268.95,234.33 270.44,231.76 267.47,231.76" fill="#0000e0" stroke="#0000e0" stroke-width="0.5"/>
<polygon points="269.17,222.76 270.66,220.2 267.69,220.2" fill="#0000e0" stroke="#0000e0" stroke-width="0.5"/>
<polygon points="269.36,213.43 270.85,210.87 267.88,210.87" fill="#0000e0" stroke="#0000e0" stroke-width="0.5"/>
<polygon points="269.55,204.37 271.03,201.81 268.06,201.81" fill="#0000e0" stroke="#0000e0" stroke-width="0.5"/>
<polygon points="269.72,193.09 271.2,190.52 268.23,190.52" fill="#0000e0" stroke="#0000e0" stroke-width="0.5"/>
<polygon points="269.84,182.5 271.33,179.93 268.36,179.93" fill="#0000e0" stroke="#0000e0" stroke-width="0.5"/>
<polygon points="270.16,173.23 271.65,170.67 268.68,170.67" fill="#0000e0" stroke="#0000e0" stroke-width="0.5"/>
<polygon points="273.26,168.91 274.75,166.34 271.78,166.34" fill="#0000e0" stroke="#0000e0" stroke-width="0.5"/>
<polygon points="276.78,168.36 278.26,165.8 275.29,165.8" fill="#0000e0" stroke="#0000e0" stroke-width="0.5"/>
<polygon points="280.25,168.23 281.74,165.66 278.76,165.66" fill="#0000e0" stroke="#0000e0" stroke-width="0.5"/>
<polygon points="283.54,168.18 285.03,165.62 282.06,165.62" fill="#0000e0" stroke="#0000e0" stroke-width="0.5"/>
<polyline points="230.8,264.6 233.04,264.61 236.11,264.62 239.81,264.64 243.92,264.67 248.25,264.69 252.59,264.7 256.74,264.7 260.5,264.69 263.65,264.66 266,264.6 267.58,264.57 268.61,264.6 269.19,264.65 269.41,264.71 269.37,264.73 269.15,264.68 268.85,264.53 268.57,264.26 268.38,263.82 268.4,263.2 268.53,262.43 268.62,261.58 268.69,260.64 268.74,259.58 268.77,258.39 268.79,257.06 268.81,255.57 268.83,253.9 268.86,252.05 268.9,250 268.95,247.68 269,245.08 269.04,242.23 269.09,239.21 269.13,236.05 269.18,232.81 269.23,229.53 269.28,226.27 269.34,223.08 269.4,220 269.47,216.93 269.55,213.74 269.63,210.5 269.72,207.23 269.81,204 269.89,200.85 269.98,197.82 270.06,194.98 270.13,192.35 270.2,190 270.25,187.92 270.29,186.05 270.32,184.37 270.34,182.86 270.36,181.5 270.39,180.26 270.42,179.11 270.46,178.03 270.52,177 270.6,176 270.69,175.06 270.77,174.24 270.86,173.51 270.96,172.87 271.08,172.29 271.2,171.78 271.36,171.31 271.54,170.86 271.75,170.43 272,170 272.27,169.59 272.55,169.22 272.85,168.88 273.17,168.59 273.52,168.32 273.92,168.08 274.35,167.86 274.84,167.66 275.39,167.47 276,167.3 276.74,167.15 277.62,167.02 278.62,166.92 279.67,166.84 280.75,166.78 281.81,166.73 282.8,166.7 283.7,166.66 284.44,166.63 285,166.6" fill="none" stroke="#00e5ff" stroke-width="1.2" stroke-linejoin="round"/>
<polygon points="230.8,262.59 232.81,264.6 230.8,266.62 228.79,264.6" fill="#00e5ff" stroke="#00e5ff" stroke-width="0.5"/>
<polygon points="233.04,262.59 235.06,264.61 233.04,266.62 231.03,264.61" fill="#00e5ff" stroke="#00e5ff" stroke-width="0.5"/>
<polygon points="236.11,262.61 238.13,264.62 236.11,266.64 234.1,264.62" fill="#00e5ff" stroke="#00e5ff" stroke-width="0.5"/>
<polygon points="239.81,262.63 241.82,264.64 239.81,266.66 237.79,264.64" fill="#00e5ff" stroke="#00e5ff" stroke-width="0.5"/>
<polygon points="243.92,262.65 245.94,264.67 243.92,266.68 241.91,264.67" fill="#00e5ff" stroke="#00e5ff" stroke-width="0.5"/>
<polygon points="248.25,262.67 250.27,264.69 248.25,266.7 246.24,264.69" fill="#00e5ff" stroke="#00e5ff" stroke-width="0.5"/>
<polygon points="252.59,262.69 254.61,264.7 252.59,266.72 250.58,264.7" fill="#00e5ff" stroke="#00e5ff" stroke-width="0.5"/>
<polygon points="256.74,262.69 258.76,264.7 256.74,266.72 254.73,264.7" fill="#00e5ff" stroke="#00e5ff" stroke-width="0.5"/>
<polygon points="260.5,262.67 262.51,264.69 260.5,266.7 258.48,264.69" fill="#00e5ff" stroke="#00e5ff" stroke-width="0.5"/>
<polygon points="263.65,262.64 265.67,264.66 263.65,266.67 261.64,264.66" fill="#00e5ff" stroke="#00e5ff" stroke-width="0.5"/>
<polygon points="266,262.59 268.01,264.6 266,266.62 263.99,264.6" fill="#00e5ff" stroke="#00e5ff" stroke-width="0.5"/>
<polygon points="267.58,262.55 269.59,264.57 267.58,266.58 265.56,264.57" fill="#00e5ff" stroke="#00e5ff" stroke-width="0.5"/>
<polygon points="269.19,262.64 271.21,264.65 269.19,266.67 267.18,264.65" fill="#00e5ff" stroke="#00e5ff" stroke-width="0.5"/>
<polygon points="268.38,261.81 270.4,263.82 268.38,265.84 266.37,263.82" fill="#00e5ff" stroke="#00e5ff" stroke-width="0.5"/>
<polygon points="268.86,250.04 270.87,252.05 268.86,254.07 266.84,252.05" fill="#00e5ff" stroke="#00e5ff" stroke-width="0.5"/>
<polygon points="269.09,237.19 271.1,239.21 269.09,241.22 267.07,239.21" fill="#00e5ff" stroke="#00e5ff" stroke-width="0.5"/>
<polygon points="269.28,224.25 271.3,226.27 269.28,228.28 267.27,226.27" fill="#00e5ff" stroke="#00e5ff" stroke-width="0.5"/>
<polygon points="269.55,211.73 271.56,213.74 269.55,215.76 267.53,213.74" fill="#00e5ff" stroke="#00e5ff" stroke-width="0.5"/>
<polygon points="269.89,198.83 271.91,200.85 269.89,202.86 267.88,200.85" fill="#00e5ff" stroke="#00e5ff" stroke-width="0.5"/>
<polygon points="270.2,187.99 272.21,190 270.2,192.01 268.19,190" fill="#00e5ff" stroke="#00e5ff" stroke-width="0.5"/>
<polygon points="270.42,177.09 272.43,179.11 270.42,181.12 268.4,179.11" fill="#00e5ff" stroke="#00e5ff" stroke-width="0.5"/>
<polygon points="271.75,168.42 273.77,170.43 271.75,172.45 269.74,170.43" fill="#00e5ff" stroke="#00e5ff" stroke-width="0.5"/>
<polygon points="273.17,166.57 275.19,168.59 273.17,170.6 271.16,168.59" fill="#00e5ff" stroke="#00e5ff" stroke-width="0.5"/>
<polygon points="274.84,165.64 276.85,167.66 274.84,169.67 272.82,167.66" fill="#00e5ff" stroke="#00e5ff" stroke-width="0.5"/>
<polygon points="276.74,165.13 278.75,167.15 276.74,169.16 274.72,167.15" fill="#00e5ff" stroke="#00e5ff" stroke-width="0.5"/>
<polygon points="278.62,164.91 280.63,166.92 278.62,168.94 276.6,166.92" fill="#00e5ff" stroke="#00e5ff" stroke-width="0.5"/>
<polygon points="280.75,164.77 282.76,166.78 280.75,168.8 278.74,166.78" fill="#00e5ff" stroke="#00e5ff" stroke-width="0.5"/>
<polygon points="282.8,164.68 284.82,166.7 282.8,168.71 280.79,166.7" fill="#00e5ff" stroke="#00e5ff" stroke-width="0.5"/>
<polygon points="284.44,164.62 286.46,166.63 284.44,168.65 282.43,166.63" fill="#00e5ff" stroke="#00e5ff" stroke-width="0.5"/>
<polyline points="231.5,264.5 267,264.5" fill="none" stroke="#00e5ff" stroke-width="3.4" stroke-linejoin="round"/>
<line x1="298.5" y1="162" x2="311.6" y2="162" stroke="#000" stroke-width="1.2"/>
<rect x="303.25" y="160.55" width="2.9" height="2.9" fill="#000" stroke="#000" stroke-width="0.5"/>
<text x="314" y="163.8" font-size="5.1" text-anchor="start" fill="#555">1.0 nm</text>
<line x1="298.5" y1="169.72" x2="311.6" y2="169.72" stroke="#f00" stroke-width="1.2"/>
<circle cx="304.7" cy="169.72" r="1.45" fill="#f00" stroke="#f00" stroke-width="0.5"/>
<text x="314" y="171.52" font-size="5.1" text-anchor="start" fill="#555">6.0 nm</text>
<line x1="298.5" y1="177.44" x2="311.6" y2="177.44" stroke="#00dd00" stroke-width="1.2"/>
<polygon points="304.7,175.77 306.3,178.53 303.1,178.53" fill="#00dd00" stroke="#00dd00" stroke-width="0.5"/>
<text x="314" y="179.24" font-size="5.1" text-anchor="start" fill="#555">27.2 nm</text>
<line x1="298.5" y1="185.16" x2="311.6" y2="185.16" stroke="#0000e0" stroke-width="1.2"/>
<polygon points="304.7,186.83 306.3,184.07 303.1,184.07" fill="#0000e0" stroke="#0000e0" stroke-width="0.5"/>
<text x="314" y="186.96" font-size="5.1" text-anchor="start" fill="#555">90.1 nm</text>
<line x1="298.5" y1="192.88" x2="311.6" y2="192.88" stroke="#00e5ff" stroke-width="1.2"/>
<polygon points="304.7,191 306.58,192.88 304.7,194.76 302.81,192.88" fill="#00e5ff" stroke="#00e5ff" stroke-width="0.5"/>
<text x="314" y="194.68" font-size="5.1" text-anchor="start" fill="#555">182.2 nm</text>
<rect x="282.4" y="202.2" width="59.9" height="50.1" fill="#fff"/>
<line x1="282.4" y1="202.2" x2="282.4" y2="252.3" stroke="#bbb" stroke-width="0.5"/>
<line x1="342.3" y1="202.2" x2="342.3" y2="252.3" stroke="#bbb" stroke-width="0.5"/>
<line x1="282.4" y1="252.3" x2="342.3" y2="252.3" stroke="#bbb" stroke-width="0.5"/>
<line x1="281.6" y1="202.2" x2="342.3" y2="202.2" stroke="#555" stroke-width="0.6"/>
<line x1="287.5" y1="252.3" x2="287.5" y2="253.5" stroke="#555" stroke-width="0.8"/>
<line x1="304.24" y1="252.3" x2="304.24" y2="253.5" stroke="#555" stroke-width="0.8"/>
<line x1="320.98" y1="252.3" x2="320.98" y2="253.5" stroke="#555" stroke-width="0.8"/>
<line x1="337.72" y1="252.3" x2="337.72" y2="253.5" stroke="#555" stroke-width="0.8"/>
<line x1="282.4" y1="242.21" x2="281.2" y2="242.21" stroke="#555" stroke-width="0.8"/>
<line x1="282.4" y1="229.04" x2="281.2" y2="229.04" stroke="#555" stroke-width="0.8"/>
<line x1="282.4" y1="215.87" x2="281.2" y2="215.87" stroke="#555" stroke-width="0.8"/>
<line x1="282.4" y1="202.7" x2="281.2" y2="202.7" stroke="#555" stroke-width="0.8"/>
<text x="287.5" y="258" font-size="4.6" text-anchor="middle" fill="#1a1a1a">0</text>
<text x="304.24" y="258" font-size="4.6" text-anchor="middle" fill="#1a1a1a">50</text>
<text x="320.98" y="258" font-size="4.6" text-anchor="middle" fill="#1a1a1a">100</text>
<text x="337.72" y="258" font-size="4.6" text-anchor="middle" fill="#1a1a1a">150</text>
<text x="281" y="243.81" font-size="4.6" text-anchor="end" fill="#1a1a1a">6</text>
<text x="281" y="230.64" font-size="4.6" text-anchor="end" fill="#1a1a1a">7</text>
<text x="281" y="217.47" font-size="4.6" text-anchor="end" fill="#1a1a1a">8</text>
<text x="281" y="204.3" font-size="4.6" text-anchor="end" fill="#1a1a1a">9</text>
<text x="312.6" y="263" font-size="4.8" text-anchor="middle" fill="#1a1a1a">Thickness (nm)</text>
<text x="274.5" y="224.7" font-size="4.8" text-anchor="middle" fill="#1a1a1a" transform="rotate(-90 274.5 224.7)">T<tspan font-size="3.3" dy="1">c</tspan><tspan dy="-1"> (K)</tspan></text>
<polygon points="287.83,244.6 288.22,245.63 289.32,245.68 288.46,246.36 288.75,247.42 287.83,246.82 286.92,247.42 287.21,246.36 286.35,245.68 287.45,245.63" fill="#000" stroke="#000" stroke-width="0.5"/>
<polygon points="288.5,239.51 289.82,241.79 287.18,241.79" fill="#0a0" stroke="#0a0" stroke-width="0.5"/>
<polygon points="288.84,236.88 290.16,239.16 287.52,239.16" fill="#f08000" stroke="#f08000" stroke-width="0.5"/>
<polygon points="289.51,232.93 290.83,235.21 288.19,235.21" fill="#a000d0" stroke="#a000d0" stroke-width="0.5"/>
<polygon points="289.84,228.58 291.16,230.86 288.52,230.86" fill="#f00" stroke="#f00" stroke-width="0.5"/>
<polygon points="296.61,220.42 297.93,222.7 295.29,222.7" fill="#3d3" stroke="#3d3" stroke-width="0.5"/>
<polygon points="317.67,205.49 318.05,206.51 319.15,206.56 318.29,207.25 318.58,208.31 317.67,207.71 316.75,208.31 317.04,207.25 316.18,206.56 317.28,206.51" fill="#0000e0" stroke="#0000e0" stroke-width="0.5"/>
<polygon points="337.72,204.35 339.04,206.63 336.4,206.63" fill="#00d0ff" stroke="#00d0ff" stroke-width="0.5"/>
<polygon points="304.8,239.02 306.12,241.3 303.48,241.3" fill="#000" stroke="#000" stroke-width="0.5"/>
<polygon points="304.8,244.24 305.19,245.27 306.28,245.32 305.43,246 305.72,247.06 304.8,246.46 303.88,247.06 304.17,246 303.32,245.32 304.41,245.27" fill="#000" stroke="#000" stroke-width="0.5"/>
<text x="308.7" y="242" font-size="5.2" text-anchor="start" fill="#1a1a1a">Four-probe</text>
<text x="308.7" y="247.6" font-size="5.2" text-anchor="start" fill="#1a1a1a">Two-probe</text>
<text x="357.8" y="159.1" font-size="8" text-anchor="start" fill="#1a1a1a" font-weight="bold">f</text>
<line x1="390.4" y1="157.1" x2="390.4" y2="264.1" stroke="#d8d8d8" stroke-width="0.7"/>
<line x1="390.4" y1="264.1" x2="524.4" y2="264.1" stroke="#d8d8d8" stroke-width="0.7"/>
<line x1="523.9" y1="157.1" x2="523.9" y2="264.1" stroke="#ccccee" stroke-width="1.1"/>
<line x1="389.9" y1="157.4" x2="526" y2="157.4" stroke="#1c1c9c" stroke-width="1"/>
<line x1="398" y1="264.1" x2="398" y2="266.1" stroke="#555" stroke-width="0.8"/>
<line x1="429.45" y1="264.1" x2="429.45" y2="266.1" stroke="#555" stroke-width="0.8"/>
<line x1="460.9" y1="264.1" x2="460.9" y2="266.1" stroke="#555" stroke-width="0.8"/>
<line x1="492.35" y1="264.1" x2="492.35" y2="266.1" stroke="#555" stroke-width="0.8"/>
<line x1="523.8" y1="264.1" x2="523.8" y2="266.1" stroke="#555" stroke-width="0.8"/>
<line x1="413.73" y1="264.1" x2="413.73" y2="265.5" stroke="#555" stroke-width="0.8"/>
<line x1="445.18" y1="264.1" x2="445.18" y2="265.5" stroke="#555" stroke-width="0.8"/>
<line x1="476.62" y1="264.1" x2="476.62" y2="265.5" stroke="#555" stroke-width="0.8"/>
<line x1="508.07" y1="264.1" x2="508.07" y2="265.5" stroke="#555" stroke-width="0.8"/>
<line x1="390.4" y1="243.9" x2="388.4" y2="243.9" stroke="#555" stroke-width="0.8"/>
<line x1="390.4" y1="216.1" x2="388.4" y2="216.1" stroke="#555" stroke-width="0.8"/>
<line x1="390.4" y1="188.3" x2="388.4" y2="188.3" stroke="#555" stroke-width="0.8"/>
<line x1="390.4" y1="160.5" x2="388.4" y2="160.5" stroke="#555" stroke-width="0.8"/>
<line x1="390.4" y1="257.8" x2="389" y2="257.8" stroke="#555" stroke-width="0.8"/>
<line x1="390.4" y1="230" x2="389" y2="230" stroke="#555" stroke-width="0.8"/>
<line x1="390.4" y1="202.2" x2="389" y2="202.2" stroke="#555" stroke-width="0.8"/>
<line x1="390.4" y1="174.4" x2="389" y2="174.4" stroke="#555" stroke-width="0.8"/>
<line x1="524.4" y1="255" x2="526.4" y2="255" stroke="#8888dd" stroke-width="0.8"/>
<line x1="524.4" y1="235.36" x2="526.4" y2="235.36" stroke="#8888dd" stroke-width="0.8"/>
<line x1="524.4" y1="215.72" x2="526.4" y2="215.72" stroke="#8888dd" stroke-width="0.8"/>
<line x1="524.4" y1="196.08" x2="526.4" y2="196.08" stroke="#8888dd" stroke-width="0.8"/>
<line x1="524.4" y1="176.44" x2="526.4" y2="176.44" stroke="#8888dd" stroke-width="0.8"/>
<line x1="524.4" y1="156.8" x2="526.4" y2="156.8" stroke="#8888dd" stroke-width="0.8"/>
<line x1="524.4" y1="245.18" x2="525.8" y2="245.18" stroke="#8888dd" stroke-width="0.8"/>
<line x1="524.4" y1="225.54" x2="525.8" y2="225.54" stroke="#8888dd" stroke-width="0.8"/>
<line x1="524.4" y1="205.9" x2="525.8" y2="205.9" stroke="#8888dd" stroke-width="0.8"/>
<line x1="524.4" y1="186.26" x2="525.8" y2="186.26" stroke="#8888dd" stroke-width="0.8"/>
<line x1="524.4" y1="166.62" x2="525.8" y2="166.62" stroke="#8888dd" stroke-width="0.8"/>
<text x="398" y="275.9" font-size="7" text-anchor="middle" fill="#1a1a1a">0</text>
<text x="429.45" y="275.9" font-size="7" text-anchor="middle" fill="#1a1a1a">100</text>
<text x="460.9" y="275.9" font-size="7" text-anchor="middle" fill="#1a1a1a">200</text>
<text x="492.35" y="275.9" font-size="7" text-anchor="middle" fill="#1a1a1a">300</text>
<text x="523.8" y="275.9" font-size="7" text-anchor="middle" fill="#1a1a1a">400</text>
<text x="385.3" y="246.3" font-size="7" text-anchor="end" fill="#1a1a1a">0.4</text>
<text x="385.3" y="218.5" font-size="7" text-anchor="end" fill="#1a1a1a">0.6</text>
<text x="385.3" y="190.7" font-size="7" text-anchor="end" fill="#1a1a1a">0.8</text>
<text x="385.3" y="162.9" font-size="7" text-anchor="end" fill="#1a1a1a">1.0</text>
<text x="528" y="257.7" font-size="7" text-anchor="start" fill="#1e1ed0">0</text>
<text x="528" y="238.06" font-size="7" text-anchor="start" fill="#1e1ed0">100</text>
<text x="528" y="218.42" font-size="7" text-anchor="start" fill="#1e1ed0">200</text>
<text x="528" y="198.78" font-size="7" text-anchor="start" fill="#1e1ed0">300</text>
<text x="528" y="179.14" font-size="7" text-anchor="start" fill="#1e1ed0">400</text>
<text x="528" y="159.5" font-size="7" text-anchor="start" fill="#1e1ed0">500</text>
<text x="458" y="287.5" font-size="7" text-anchor="middle" fill="#1a1a1a"><tspan font-style="italic">T</tspan> (K)</text>
<text x="365.8" y="210.4" font-size="6.9" text-anchor="middle" fill="#1a1a1a" transform="rotate(-90 365.8 210.4)">n (10<tspan font-size="4.5" dy="-2">17</tspan><tspan dy="2"> × cm</tspan><tspan font-size="4.5" dy="-2">−3</tspan><tspan dy="2">)</tspan></text>
<text x="547.8" y="210.4" font-size="6.8" text-anchor="middle" fill="#2222cc" transform="rotate(90 547.8 210.4)">μ<tspan font-size="4.5" dy="1.5">H</tspan><tspan dy="-1.5"> (cm</tspan><tspan font-size="4.5" dy="-2">2</tspan><tspan dy="2"> V</tspan><tspan font-size="4.5" dy="-2">−1</tspan><tspan dy="2"> s</tspan><tspan font-size="4.5" dy="-2">−1</tspan><tspan dy="2">)</tspan></text>
<polyline points="401.14,255.02 405.86,255.72 413.73,241.12 421.59,227.91 429.45,219.57 437.31,211.93 445.18,205.68 453.04,199.42 460.9,193.16 468.76,185.24 476.62,178.15 484.49,169.12 492.35,161.19" fill="none" stroke="#000" stroke-width="0.8" stroke-linejoin="round"/>
<circle cx="401.14" cy="255.02" r="1.55" fill="#000" stroke="#000" stroke-width="0.5"/>
<circle cx="405.86" cy="255.72" r="1.55" fill="#000" stroke="#000" stroke-width="0.5"/>
<circle cx="413.73" cy="241.12" r="1.55" fill="#000" stroke="#000" stroke-width="0.5"/>
<circle cx="421.59" cy="227.91" r="1.55" fill="#000" stroke="#000" stroke-width="0.5"/>
<circle cx="429.45" cy="219.57" r="1.55" fill="#000" stroke="#000" stroke-width="0.5"/>
<circle cx="437.31" cy="211.93" r="1.55" fill="#000" stroke="#000" stroke-width="0.5"/>
<circle cx="445.18" cy="205.68" r="1.55" fill="#000" stroke="#000" stroke-width="0.5"/>
<circle cx="453.04" cy="199.42" r="1.55" fill="#000" stroke="#000" stroke-width="0.5"/>
<circle cx="460.9" cy="193.16" r="1.55" fill="#000" stroke="#000" stroke-width="0.5"/>
<circle cx="468.76" cy="185.24" r="1.55" fill="#000" stroke="#000" stroke-width="0.5"/>
<circle cx="476.62" cy="178.15" r="1.55" fill="#000" stroke="#000" stroke-width="0.5"/>
<circle cx="484.49" cy="169.12" r="1.55" fill="#000" stroke="#000" stroke-width="0.5"/>
<circle cx="492.35" cy="161.19" r="1.55" fill="#000" stroke="#000" stroke-width="0.5"/>
<polyline points="401.14,172.9 405.86,208.85 413.73,240.27 421.59,247.54" fill="none" stroke="#0000e0" stroke-width="0.8" stroke-linejoin="round"/>
<polyline points="421.59,247.54 429.45,249.7 437.31,251.46 445.18,252.25 453.04,252.84 460.9,253.23 468.76,253.43 476.62,253.63 484.49,253.82 492.35,254.21" fill="none" stroke="#0000e0" stroke-width="0.8" stroke-linejoin="round" stroke-dasharray="1.5,1"/>
<rect x="399.84" y="171.6" width="2.6" height="2.6" fill="#0000e0" stroke="#0000e0" stroke-width="0.5"/>
<rect x="404.56" y="207.55" width="2.6" height="2.6" fill="#0000e0" stroke="#0000e0" stroke-width="0.5"/>
<rect x="412.43" y="238.97" width="2.6" height="2.6" fill="#0000e0" stroke="#0000e0" stroke-width="0.5"/>
<rect x="420.29" y="246.24" width="2.6" height="2.6" fill="#0000e0" stroke="#0000e0" stroke-width="0.5"/>
<rect x="428.15" y="248.4" width="2.6" height="2.6" fill="#0000e0" stroke="#0000e0" stroke-width="0.5"/>
<rect x="436.01" y="250.16" width="2.6" height="2.6" fill="#0000e0" stroke="#0000e0" stroke-width="0.5"/>
<rect x="443.88" y="250.95" width="2.6" height="2.6" fill="#0000e0" stroke="#0000e0" stroke-width="0.5"/>
<rect x="451.74" y="251.54" width="2.6" height="2.6" fill="#0000e0" stroke="#0000e0" stroke-width="0.5"/>
<rect x="459.6" y="251.93" width="2.6" height="2.6" fill="#0000e0" stroke="#0000e0" stroke-width="0.5"/>
<rect x="467.46" y="252.13" width="2.6" height="2.6" fill="#0000e0" stroke="#0000e0" stroke-width="0.5"/>
<rect x="475.32" y="252.33" width="2.6" height="2.6" fill="#0000e0" stroke="#0000e0" stroke-width="0.5"/>
<rect x="483.19" y="252.52" width="2.6" height="2.6" fill="#0000e0" stroke="#0000e0" stroke-width="0.5"/>
<rect x="491.05" y="252.91" width="2.6" height="2.6" fill="#0000e0" stroke="#0000e0" stroke-width="0.5"/>
<rect x="464.2" y="194" width="57.5" height="48.3" fill="#fff"/>
<line x1="464.2" y1="194" x2="464.2" y2="242.3" stroke="#bbb" stroke-width="0.5"/>
<line x1="521.7" y1="194" x2="521.7" y2="242.3" stroke="#bbb" stroke-width="0.5"/>
<line x1="464.2" y1="242.3" x2="521.7" y2="242.3" stroke="#bbb" stroke-width="0.5"/>
<line x1="463.4" y1="194" x2="521.7" y2="194" stroke="#777" stroke-width="0.6"/>
<line x1="466" y1="242.3" x2="466" y2="243.5" stroke="#555" stroke-width="0.8"/>
<line x1="490.2" y1="242.3" x2="490.2" y2="243.5" stroke="#555" stroke-width="0.8"/>
<line x1="514.4" y1="242.3" x2="514.4" y2="243.5" stroke="#555" stroke-width="0.8"/>
<line x1="478.1" y1="242.3" x2="478.1" y2="243.14" stroke="#555" stroke-width="0.8"/>
<line x1="502.3" y1="242.3" x2="502.3" y2="243.14" stroke="#555" stroke-width="0.8"/>
<line x1="464.2" y1="236.6" x2="463" y2="236.6" stroke="#555" stroke-width="0.8"/>
<line x1="464.2" y1="227.9" x2="463" y2="227.9" stroke="#555" stroke-width="0.8"/>
<line x1="464.2" y1="219.2" x2="463" y2="219.2" stroke="#555" stroke-width="0.8"/>
<line x1="464.2" y1="210.5" x2="463" y2="210.5" stroke="#555" stroke-width="0.8"/>
<line x1="464.2" y1="201.8" x2="463" y2="201.8" stroke="#555" stroke-width="0.8"/>
<text x="466" y="247" font-size="4.6" text-anchor="middle" fill="#1a1a1a">0</text>
<text x="490.2" y="247" font-size="4.6" text-anchor="middle" fill="#1a1a1a">2</text>
<text x="514.4" y="247" font-size="4.6" text-anchor="middle" fill="#1a1a1a">4</text>
<text x="462.6" y="239.2" font-size="4.8" text-anchor="end" fill="#1a1a1a">0</text>
<text x="462.6" y="230.5" font-size="4.8" text-anchor="end" fill="#1a1a1a">25</text>
<text x="462.6" y="221.8" font-size="4.8" text-anchor="end" fill="#1a1a1a">50</text>
<text x="462.6" y="213.1" font-size="4.8" text-anchor="end" fill="#1a1a1a">75</text>
<text x="462.6" y="204.4" font-size="4.8" text-anchor="end" fill="#1a1a1a">100</text>
<text x="497.7" y="250.6" font-size="4.8" text-anchor="middle" fill="#1a1a1a">1,000/T<tspan font-size="3.3" dy="-1.5">3/2</tspan><tspan dy="1.5"> (K</tspan><tspan font-size="3.3" dy="-1.5">−3/2</tspan><tspan dy="1.5">)</tspan></text>
<text x="455.6" y="218.5" font-size="4.6" text-anchor="middle" fill="#1a1a1a" transform="rotate(-90 455.6 218.5)">μ<tspan font-size="3.3" dy="1">H</tspan><tspan dy="-1"> (cm</tspan><tspan font-size="3.3" dy="-1.5">2</tspan><tspan dy="1.5"> V</tspan><tspan font-size="3.3" dy="-1.5">−1</tspan><tspan dy="1.5"> s</tspan><tspan font-size="3.3" dy="-1.5">−1</tspan><tspan dy="1.5">)</tspan></text>
<line x1="466" y1="236.1" x2="513.2" y2="205.1" stroke="#f03030" stroke-width="0.7"/>
<circle cx="467.2" cy="235.31" r="1.2" fill="none" stroke="#3030d0" stroke-width="0.85"/>
<circle cx="468.4" cy="234.52" r="1.2" fill="none" stroke="#3030d0" stroke-width="0.85"/>
<circle cx="469.5" cy="233.8" r="1.2" fill="none" stroke="#3030d0" stroke-width="0.85"/>
<circle cx="470.6" cy="233.08" r="1.2" fill="none" stroke="#3030d0" stroke-width="0.85"/>
<circle cx="471.6" cy="232.42" r="1.2" fill="none" stroke="#3030d0" stroke-width="0.85"/>
<circle cx="472.6" cy="231.76" r="1.2" fill="none" stroke="#3030d0" stroke-width="0.85"/>
<circle cx="474.5" cy="230.52" r="1.2" fill="none" stroke="#3030d0" stroke-width="0.85"/>
<circle cx="476.5" cy="229.2" r="1.2" fill="none" stroke="#3030d0" stroke-width="0.85"/>
<circle cx="479" cy="227.56" r="1.2" fill="none" stroke="#3030d0" stroke-width="0.85"/>
<circle cx="484.8" cy="223.75" r="1.2" fill="none" stroke="#3030d0" stroke-width="0.85"/>
<circle cx="500.8" cy="211.04" r="1.2" fill="none" stroke="#3030d0" stroke-width="0.85"/>
</svg></body></html>
